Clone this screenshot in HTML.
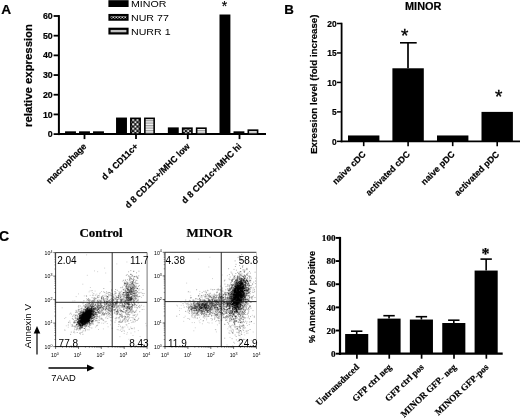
<!DOCTYPE html>
<html><head><meta charset="utf-8"><title>Figure</title>
<style>
html,body{margin:0;padding:0;background:#fff;}
svg{display:block;}
.sb{font-family:"Liberation Sans",Arial,sans-serif;font-weight:bold;fill:#000;stroke:#000;stroke-width:0.2px;}
.sr{font-family:"Liberation Sans",Arial,sans-serif;fill:#000;}
.tb{font-family:"Liberation Serif","Times New Roman",serif;font-weight:bold;fill:#000;stroke:#000;stroke-width:0.2px;}
</style></head><body>
<svg width="520" height="418" viewBox="0 0 520 418">
<defs>
<pattern id="chk" width="4.4" height="4.4" patternUnits="userSpaceOnUse"><rect width="4.4" height="4.4" fill="#111"/><rect x="0.2" y="0.2" width="1.9" height="1.9" fill="#fff"/><rect x="2.4" y="2.4" width="1.9" height="1.9" fill="#fff"/></pattern>
<pattern id="chk2" width="3" height="3" patternUnits="userSpaceOnUse"><rect width="3" height="3" fill="#111"/><rect x="0" y="0.2" width="1.5" height="1.3" fill="#fff"/><rect x="1.5" y="1.5" width="1.5" height="1.3" fill="#fff"/></pattern>
<pattern id="hl" width="4" height="2.5" patternUnits="userSpaceOnUse"><rect width="4" height="2.5" fill="#f4f4f4"/><rect width="4" height="1.25" fill="#a0a0a0"/></pattern>
</defs>
<rect width="520" height="418" fill="#fff"/>

<g id="panelA">
<text x="1.2" y="14" class="sb" font-size="13.7" text-anchor="start">A</text>
<line x1="58.9" y1="15.1" x2="58.9" y2="135.1" stroke="#000" stroke-width="2"/>
<line x1="57.9" y1="134.1" x2="266" y2="134.1" stroke="#000" stroke-width="2"/>
<line x1="53.6" y1="134.10" x2="58.9" y2="134.10" stroke="#000" stroke-width="1.8"/>
<text x="52.699999999999996" y="137.2" class="sb" font-size="8.8" text-anchor="end">0</text>
<line x1="53.6" y1="114.42" x2="58.9" y2="114.42" stroke="#000" stroke-width="1.8"/>
<text x="52.699999999999996" y="117.52" class="sb" font-size="8.8" text-anchor="end">10</text>
<line x1="53.6" y1="94.73" x2="58.9" y2="94.73" stroke="#000" stroke-width="1.8"/>
<text x="52.699999999999996" y="97.83" class="sb" font-size="8.8" text-anchor="end">20</text>
<line x1="53.6" y1="75.05" x2="58.9" y2="75.05" stroke="#000" stroke-width="1.8"/>
<text x="52.699999999999996" y="78.15" class="sb" font-size="8.8" text-anchor="end">30</text>
<line x1="53.6" y1="55.37" x2="58.9" y2="55.37" stroke="#000" stroke-width="1.8"/>
<text x="52.699999999999996" y="58.47" class="sb" font-size="8.8" text-anchor="end">40</text>
<line x1="53.6" y1="35.68" x2="58.9" y2="35.68" stroke="#000" stroke-width="1.8"/>
<text x="52.699999999999996" y="38.78" class="sb" font-size="8.8" text-anchor="end">50</text>
<line x1="53.6" y1="16.00" x2="58.9" y2="16.00" stroke="#000" stroke-width="1.8"/>
<text x="52.699999999999996" y="19.1" class="sb" font-size="8.8" text-anchor="end">60</text>
<text x="32.3" y="75.5" class="sb" font-size="11.2" text-anchor="middle" transform="rotate(-90 32.3 75.5)" textLength="103" lengthAdjust="spacingAndGlyphs">relative expression</text>
<rect x="65.85" y="132.13" width="9.30" height="1.97" fill="#000" stroke="#000" stroke-width="1.6"/>
<rect x="79.85" y="132.13" width="9.30" height="1.97" fill="#000" stroke="#000" stroke-width="1.6"/>
<rect x="93.85" y="132.13" width="9.30" height="1.97" fill="#000" stroke="#000" stroke-width="1.6"/>
<line x1="84.5" y1="134.1" x2="84.5" y2="139.1" stroke="#000" stroke-width="1.8"/>
<text x="87.1" y="146.9" class="sb" font-size="8.9" text-anchor="end" transform="rotate(-45 87.1 146.9)">macrophage</text>
<rect x="116.85" y="118.35" width="9.30" height="15.75" fill="#000" stroke="#000" stroke-width="1.6"/>
<rect x="130.85" y="118.35" width="9.30" height="15.75" fill="url(#chk)" stroke="#000" stroke-width="1.6"/>
<rect x="144.85" y="118.35" width="9.30" height="15.75" fill="url(#hl)" stroke="#000" stroke-width="1.6"/>
<line x1="136" y1="134.1" x2="136" y2="139.1" stroke="#000" stroke-width="1.8"/>
<text x="138.6" y="146.9" class="sb" font-size="8.9" text-anchor="end" transform="rotate(-45 138.6 146.9)">d 4 CD11c+</text>
<rect x="168.65" y="128.19" width="9.30" height="5.90" fill="#000" stroke="#000" stroke-width="1.6"/>
<rect x="182.65" y="128.19" width="9.30" height="5.90" fill="url(#chk)" stroke="#000" stroke-width="1.6"/>
<rect x="196.65" y="128.19" width="9.30" height="5.90" fill="url(#hl)" stroke="#000" stroke-width="1.6"/>
<line x1="187.8" y1="134.1" x2="187.8" y2="139.1" stroke="#000" stroke-width="1.8"/>
<text x="190.4" y="146.9" class="sb" font-size="8.9" text-anchor="end" transform="rotate(-45 190.4 146.9)">d 8 CD11c+/MHC low</text>
<rect x="220.30" y="15.31" width="9.30" height="118.79" fill="#000" stroke="#000" stroke-width="1.6"/>
<rect x="234.30" y="132.13" width="9.30" height="1.97" fill="#000" stroke="#000" stroke-width="1.6"/>
<rect x="248.30" y="130.16" width="9.30" height="3.94" fill="url(#hl)" stroke="#000" stroke-width="1.6"/>
<line x1="239.5" y1="134.1" x2="239.5" y2="139.1" stroke="#000" stroke-width="1.8"/>
<text x="242.1" y="146.9" class="sb" font-size="8.9" text-anchor="end" transform="rotate(-45 242.1 146.9)">d 8 CD11c+/MHC hi</text>
<rect x="109.5" y="1.30" width="18" height="4.6" fill="#000" stroke="#000" stroke-width="2.2"/>
<text class="sr" font-size="9.2" transform="translate(131 7.00) scale(1.158 1)">MINOR</text>
<rect x="109.5" y="15.05" width="18" height="4.6" fill="url(#chk2)" stroke="#000" stroke-width="2.2"/>
<text class="sr" font-size="9.2" transform="translate(131 20.75) scale(1.158 1)">NUR 77</text>
<rect x="109.5" y="28.80" width="18" height="4.6" fill="#c2c2c2" stroke="#000" stroke-width="2.2"/>
<text class="sr" font-size="9.2" transform="translate(131 34.50) scale(1.158 1)">NURR 1</text>
<text x="224.4" y="11.3" class="sr" font-size="14" text-anchor="middle" stroke="#000" stroke-width="0.2">*</text>
</g>
<g id="panelB">
<text x="284.3" y="14" class="sb" font-size="13.3" text-anchor="start">B</text>
<text x="423.2" y="9.6" class="sb" font-size="10.9" text-anchor="middle">MINOR</text>
<line x1="341.6" y1="22.75" x2="341.6" y2="142.25" stroke="#000" stroke-width="1.8"/>
<line x1="340.70000000000005" y1="141.35" x2="520" y2="141.35" stroke="#000" stroke-width="1.8"/>
<line x1="337.0" y1="141.35" x2="341.6" y2="141.35" stroke="#000" stroke-width="1.5"/>
<text x="336.6" y="144.85" class="sb" font-size="8.4" text-anchor="end">0</text>
<line x1="337.0" y1="111.89" x2="341.6" y2="111.89" stroke="#000" stroke-width="1.5"/>
<text x="336.6" y="115.39" class="sb" font-size="8.4" text-anchor="end">5</text>
<line x1="337.0" y1="82.42" x2="341.6" y2="82.42" stroke="#000" stroke-width="1.5"/>
<text x="336.6" y="85.92" class="sb" font-size="8.4" text-anchor="end">10</text>
<line x1="337.0" y1="52.96" x2="341.6" y2="52.96" stroke="#000" stroke-width="1.5"/>
<text x="336.6" y="56.46" class="sb" font-size="8.4" text-anchor="end">15</text>
<line x1="337.0" y1="23.50" x2="341.6" y2="23.50" stroke="#000" stroke-width="1.5"/>
<text x="336.6" y="27.0" class="sb" font-size="8.4" text-anchor="end">20</text>
<text x="316.6" y="84.3" class="sb" font-size="9.3" text-anchor="middle" transform="rotate(-90 316.6 84.3)" textLength="139.6" lengthAdjust="spacingAndGlyphs">Exression level (fold increase)</text>
<rect x="348.00" y="135.46" width="31.4" height="5.89" fill="#000"/>
<line x1="363.7" y1="141.35" x2="363.7" y2="146.15" stroke="#000" stroke-width="1.6"/>
<text x="366.2" y="154.85" class="sb" font-size="8.85" text-anchor="end" transform="rotate(-45 366.2 154.85)">naive cDC</text>
<rect x="392.40" y="68.28" width="31.4" height="73.07" fill="#000"/>
<line x1="408.1" y1="141.35" x2="408.1" y2="146.15" stroke="#000" stroke-width="1.6"/>
<text x="410.6" y="154.85" class="sb" font-size="8.85" text-anchor="end" transform="rotate(-45 410.6 154.85)">activated cDC</text>
<rect x="437.00" y="135.46" width="31.4" height="5.89" fill="#000"/>
<line x1="452.7" y1="141.35" x2="452.7" y2="146.15" stroke="#000" stroke-width="1.6"/>
<text x="455.2" y="154.85" class="sb" font-size="8.85" text-anchor="end" transform="rotate(-45 455.2 154.85)">naive pDC</text>
<rect x="481.50" y="111.89" width="31.4" height="29.46" fill="#000"/>
<line x1="497.2" y1="141.35" x2="497.2" y2="146.15" stroke="#000" stroke-width="1.6"/>
<text x="499.7" y="154.85" class="sb" font-size="8.85" text-anchor="end" transform="rotate(-45 499.7 154.85)">activated pDC</text>
<line x1="408" y1="42.8" x2="408" y2="68.28" stroke="#000" stroke-width="1.7"/>
<line x1="400" y1="42.8" x2="416.7" y2="42.8" stroke="#000" stroke-width="1.6"/>
<text x="404.8" y="41.8" class="sr" font-size="19" text-anchor="middle" stroke="#000" stroke-width="0.35">*</text>
<text x="498.7" y="102.5" class="sr" font-size="19" text-anchor="middle" stroke="#000" stroke-width="0.35">*</text>
</g>
<g id="panelC">
<text x="-1" y="240.7" class="sb" font-size="14" text-anchor="start">C</text>
<text x="101" y="236.9" class="tb" font-size="13" text-anchor="middle">Control</text>
<text x="209.5" y="236.8" class="tb" font-size="13" text-anchor="middle">MINOR</text>
<path d="M84.8 316.2h.01M84.9 318.6h.01M82.7 319.7h.01M89.0 313.7h.01M88.8 314.4h.01M86.8 315.9h.01M80.4 318.0h.01M87.1 314.7h.01M80.3 325.9h.01M82.8 320.4h.01M86.5 316.8h.01M87.2 318.1h.01M86.5 315.4h.01M83.5 313.3h.01M87.3 312.5h.01M83.7 320.7h.01M84.5 318.2h.01M87.5 315.2h.01M84.2 321.0h.01M84.0 314.6h.01M83.1 318.1h.01M86.9 320.9h.01M85.7 313.2h.01M79.3 322.2h.01M85.2 319.9h.01M87.1 316.4h.01M81.0 317.6h.01M87.6 313.0h.01M90.0 313.2h.01M85.9 320.9h.01M87.5 317.9h.01M84.2 322.0h.01M82.6 320.8h.01M89.5 320.8h.01M81.1 319.4h.01M90.0 312.6h.01M79.7 328.7h.01M86.7 318.7h.01M82.1 316.5h.01M89.0 314.5h.01M86.3 315.4h.01M90.5 312.1h.01M87.2 314.5h.01M80.7 316.5h.01M88.5 313.7h.01M79.5 323.1h.01M88.2 321.0h.01M85.0 314.5h.01M81.5 315.0h.01M87.3 316.6h.01M86.6 314.6h.01M85.9 313.5h.01M83.5 319.8h.01M88.8 315.1h.01M82.8 316.1h.01M90.1 315.6h.01M81.3 320.4h.01M85.1 318.4h.01M89.9 317.5h.01M89.5 318.6h.01M83.1 316.9h.01M89.1 312.4h.01M86.6 316.1h.01M86.0 315.2h.01M85.0 316.7h.01M87.3 316.1h.01M87.9 314.0h.01M91.8 312.2h.01M84.2 319.2h.01M85.5 314.4h.01M84.5 316.7h.01M91.2 321.3h.01M82.1 318.7h.01M86.8 315.7h.01M84.2 316.1h.01M86.4 318.2h.01M93.1 311.3h.01M83.9 318.6h.01M84.9 317.9h.01M77.1 324.2h.01M88.7 318.8h.01M85.4 314.5h.01M88.2 311.0h.01M80.3 321.7h.01M84.5 316.0h.01M88.9 323.2h.01M88.9 319.4h.01M87.7 320.4h.01M86.1 313.2h.01M85.1 316.9h.01M88.0 315.2h.01M85.3 312.7h.01M88.8 316.0h.01M94.0 315.2h.01M88.4 316.2h.01M86.0 314.8h.01M86.3 314.8h.01M80.8 324.9h.01M87.5 318.9h.01M82.4 323.8h.01M89.5 312.4h.01M90.1 317.1h.01M85.6 320.7h.01M87.9 310.9h.01M82.8 314.3h.01M88.6 315.8h.01M79.5 316.9h.01M85.3 319.3h.01M86.8 315.2h.01M90.2 317.3h.01M89.1 310.4h.01M90.1 314.9h.01M83.3 315.6h.01M85.9 316.6h.01M90.0 315.2h.01M78.5 323.0h.01M79.8 318.4h.01M86.5 318.4h.01M85.5 314.7h.01M85.8 313.0h.01M85.4 314.2h.01M90.2 309.3h.01M83.5 315.9h.01M79.8 324.3h.01M79.5 317.9h.01M81.8 319.7h.01M85.0 317.7h.01M83.7 317.7h.01M91.1 313.5h.01M87.2 313.1h.01M85.0 321.5h.01M83.9 315.1h.01M80.5 322.3h.01M88.7 312.8h.01M85.6 314.8h.01M86.1 320.5h.01M80.7 322.3h.01M88.4 317.1h.01M82.8 321.4h.01M80.8 320.7h.01M81.9 318.5h.01M78.3 321.0h.01M83.6 324.4h.01M87.8 316.6h.01M78.7 324.4h.01M86.5 318.0h.01M88.0 313.4h.01M87.6 314.9h.01M89.7 312.5h.01M87.0 322.7h.01M88.3 311.4h.01M84.6 319.2h.01M91.6 318.7h.01M87.0 308.9h.01M82.7 317.0h.01M91.4 313.8h.01M87.3 313.4h.01M82.8 319.3h.01M86.5 314.1h.01M85.5 317.9h.01M82.4 320.4h.01M88.3 315.1h.01M82.9 321.5h.01M93.8 308.4h.01M87.5 323.8h.01M87.5 314.5h.01M90.8 312.5h.01M85.4 315.8h.01M79.6 318.0h.01M86.6 318.7h.01M89.7 309.1h.01M81.2 322.1h.01M86.5 316.1h.01M84.3 321.0h.01M92.1 309.8h.01M81.9 323.7h.01M90.8 310.8h.01M91.2 311.1h.01M82.9 318.2h.01M78.9 323.8h.01M85.4 315.8h.01M83.3 319.1h.01M87.0 315.2h.01M87.5 315.3h.01M84.6 315.5h.01M85.7 319.6h.01M83.6 318.5h.01M85.2 317.0h.01M85.6 316.7h.01M85.2 321.3h.01M86.9 313.2h.01M86.9 316.9h.01M86.9 319.3h.01M79.7 320.8h.01M82.7 316.8h.01M82.2 327.4h.01M82.4 314.5h.01M84.4 322.2h.01M83.2 317.2h.01M87.1 315.7h.01M90.1 312.1h.01M85.5 315.5h.01M90.7 311.0h.01M88.7 318.5h.01M85.1 315.3h.01M84.7 314.6h.01M87.4 313.3h.01M84.9 309.9h.01M89.4 315.4h.01M85.8 309.1h.01M84.5 315.3h.01M88.6 315.2h.01M82.0 319.0h.01M86.7 313.1h.01M88.0 315.6h.01M88.2 313.9h.01M86.2 316.6h.01M84.8 315.6h.01M82.3 321.2h.01M85.6 321.7h.01M84.2 324.2h.01M83.5 316.9h.01M87.3 316.3h.01M84.8 322.0h.01M91.2 312.0h.01M88.9 317.7h.01M85.0 323.1h.01M88.0 312.8h.01M79.7 321.2h.01M87.5 321.3h.01M79.9 324.1h.01M83.6 322.8h.01M85.7 316.4h.01M87.5 313.8h.01M90.2 310.7h.01M81.5 321.4h.01M82.3 322.6h.01M85.3 317.4h.01M87.1 321.1h.01M81.7 319.8h.01M85.0 318.6h.01M85.4 319.7h.01M87.7 314.7h.01M85.3 319.4h.01M85.0 325.9h.01M82.5 319.1h.01M80.9 319.6h.01M86.0 321.1h.01M84.8 318.7h.01M87.0 314.4h.01M85.5 319.9h.01M85.1 317.7h.01M87.8 314.9h.01M83.3 322.8h.01M84.4 320.2h.01M82.1 319.8h.01M84.0 317.9h.01M87.2 317.4h.01M92.7 313.5h.01M89.0 314.6h.01M89.0 322.2h.01M83.2 318.0h.01M87.4 308.9h.01M86.6 312.7h.01M87.9 312.8h.01M87.1 316.7h.01M87.1 319.5h.01M89.2 318.0h.01M86.3 310.3h.01M84.9 317.6h.01M89.2 314.8h.01M83.1 318.1h.01M87.4 313.9h.01M83.2 313.4h.01M90.7 313.8h.01M86.4 318.0h.01M89.9 316.5h.01M87.6 317.3h.01M83.4 316.4h.01M89.7 314.6h.01M83.5 316.1h.01M85.4 316.4h.01M90.3 310.7h.01M84.0 311.3h.01M85.6 314.8h.01M83.6 318.7h.01M80.2 315.3h.01M89.8 318.2h.01M80.9 325.2h.01M89.2 316.3h.01M85.4 318.3h.01M85.2 320.8h.01M85.6 321.6h.01M85.3 316.4h.01M87.0 317.0h.01M82.8 318.6h.01M84.1 313.4h.01M87.9 316.0h.01M84.1 320.3h.01M82.7 320.2h.01M86.5 315.1h.01M87.3 309.7h.01M83.4 318.6h.01M94.2 317.3h.01M84.0 317.8h.01M86.0 315.7h.01M84.8 316.6h.01M85.7 314.8h.01M79.7 323.7h.01M85.6 320.4h.01M82.3 317.4h.01M83.6 316.6h.01M87.9 314.8h.01M87.1 316.5h.01M81.2 320.1h.01M87.0 317.9h.01M85.3 315.1h.01M82.9 317.0h.01M91.3 315.2h.01M86.0 317.4h.01M90.3 313.2h.01M88.3 317.5h.01M85.5 317.3h.01M80.1 316.4h.01M88.3 320.7h.01M87.9 316.1h.01M87.0 315.2h.01M80.9 320.9h.01M90.2 316.0h.01M82.4 323.4h.01M81.8 318.7h.01M90.8 312.5h.01M86.3 309.9h.01M84.0 320.3h.01M87.2 314.5h.01M82.4 322.8h.01M86.5 315.9h.01M81.5 320.5h.01M83.9 316.9h.01M85.2 317.7h.01M84.5 314.7h.01M89.9 315.6h.01M88.2 317.8h.01M85.8 314.8h.01M90.2 315.4h.01M85.3 316.8h.01M80.9 320.2h.01M83.5 317.4h.01M82.1 325.5h.01M85.7 316.4h.01M83.9 315.6h.01M84.7 319.6h.01M87.0 321.0h.01M83.5 318.6h.01M88.2 316.0h.01M86.5 318.6h.01M86.5 311.6h.01M83.4 311.4h.01M83.6 318.5h.01M86.1 313.8h.01M81.7 326.1h.01M87.4 313.6h.01M87.5 308.0h.01M86.2 316.0h.01M88.4 314.2h.01M90.7 317.7h.01M84.4 328.5h.01M88.1 316.7h.01M88.4 308.8h.01M85.5 318.0h.01M84.0 320.8h.01M83.6 316.5h.01M85.7 316.9h.01M85.0 314.8h.01M87.1 316.7h.01M87.6 316.4h.01M82.0 315.1h.01M87.0 319.2h.01M88.9 314.0h.01M80.7 315.5h.01M86.6 313.8h.01M86.2 317.3h.01M80.8 317.4h.01M85.7 318.0h.01M86.6 316.3h.01M87.7 317.0h.01M85.5 323.8h.01M84.3 316.0h.01M89.7 315.7h.01M85.2 312.7h.01M84.6 315.6h.01M90.7 313.7h.01M89.4 316.9h.01M86.2 317.0h.01M85.9 313.6h.01M92.9 314.5h.01M83.8 316.9h.01M82.3 317.8h.01M87.3 316.9h.01M87.2 320.9h.01M87.9 320.4h.01M83.4 320.3h.01M84.3 315.4h.01M85.8 318.3h.01M87.2 311.3h.01M85.6 316.1h.01M89.4 313.9h.01M81.6 312.2h.01M92.4 318.8h.01M85.4 316.0h.01M88.5 313.3h.01M84.7 321.0h.01M85.9 313.9h.01M82.2 322.5h.01M85.5 323.2h.01M84.8 319.1h.01M87.0 318.5h.01M82.8 320.2h.01M85.4 319.3h.01M85.6 314.9h.01M89.2 309.7h.01M83.1 320.1h.01M77.9 316.4h.01M83.3 318.8h.01M87.2 320.3h.01M87.0 316.4h.01M79.9 320.0h.01M89.3 320.5h.01M88.1 315.0h.01M87.0 314.9h.01M89.6 315.3h.01M88.3 316.7h.01M87.8 318.2h.01M85.2 312.2h.01M86.9 316.8h.01M82.0 321.9h.01M86.2 314.0h.01M86.9 314.8h.01M85.4 313.2h.01M84.4 319.7h.01M88.3 315.3h.01M84.7 319.5h.01M84.8 315.8h.01M86.7 320.2h.01M86.9 315.8h.01M82.5 316.9h.01M84.7 318.8h.01M88.0 311.6h.01M83.4 317.3h.01M82.9 311.9h.01M84.0 314.6h.01M83.6 316.1h.01M92.4 320.5h.01M84.2 316.6h.01M85.3 319.4h.01M92.2 312.7h.01M80.5 317.9h.01M80.2 317.2h.01M83.8 317.9h.01M89.5 314.3h.01M81.3 325.2h.01M89.2 312.6h.01M83.0 316.2h.01M87.1 314.3h.01M78.6 322.7h.01M88.3 313.2h.01M88.3 322.9h.01M86.1 315.4h.01M93.4 315.0h.01M84.5 317.8h.01M88.3 316.8h.01M89.1 317.3h.01M86.4 318.3h.01M86.1 319.0h.01M80.6 317.1h.01M86.5 318.3h.01M86.2 313.8h.01M82.5 319.5h.01M87.2 314.5h.01M84.5 324.3h.01M89.4 313.7h.01M85.6 318.0h.01M86.4 318.0h.01M82.4 321.5h.01M83.7 320.3h.01M82.0 317.6h.01M81.5 317.8h.01M82.4 318.2h.01M89.8 313.9h.01M83.3 318.5h.01M86.0 322.2h.01M83.7 317.9h.01M84.1 317.9h.01M87.8 313.4h.01M88.4 313.6h.01M84.7 317.9h.01M84.7 318.7h.01M85.0 322.8h.01M84.5 318.0h.01M82.6 319.2h.01M87.2 316.7h.01M92.0 321.0h.01M84.9 323.2h.01M88.6 307.2h.01M77.8 321.8h.01M87.2 317.1h.01M87.3 322.9h.01M88.2 314.4h.01M85.6 319.0h.01M87.5 317.4h.01M86.3 318.3h.01M78.6 321.8h.01M86.2 314.5h.01M82.9 319.1h.01M87.5 315.5h.01M89.4 308.7h.01M82.8 324.9h.01M88.2 310.9h.01M88.4 312.9h.01M83.7 320.6h.01M88.3 318.2h.01M80.0 323.9h.01M93.3 306.4h.01M83.4 320.8h.01M86.3 319.0h.01M89.6 314.8h.01M82.2 315.4h.01M83.8 317.7h.01M85.5 318.2h.01M86.6 318.7h.01M79.9 327.6h.01M81.7 322.1h.01M85.5 317.1h.01M87.3 315.7h.01M83.1 321.0h.01M79.0 322.0h.01M87.1 314.6h.01M85.2 318.0h.01M88.5 315.3h.01M87.8 314.0h.01M86.2 312.8h.01M83.8 319.5h.01M83.1 321.3h.01M90.4 308.8h.01M85.6 315.5h.01M89.2 312.4h.01M89.3 318.7h.01M83.6 317.1h.01M90.0 314.0h.01M82.9 320.0h.01M83.5 321.2h.01M90.2 316.1h.01M85.6 310.6h.01M89.2 313.8h.01M83.7 317.2h.01M90.6 312.1h.01M89.5 314.4h.01M87.2 316.8h.01M86.9 312.4h.01M81.1 320.3h.01M86.3 318.5h.01M84.6 315.4h.01M91.7 311.3h.01M86.6 321.3h.01M91.5 313.1h.01M85.5 320.7h.01M85.4 320.7h.01M85.8 315.7h.01M85.7 316.3h.01M82.9 314.6h.01M83.5 324.1h.01M85.0 319.9h.01M82.4 320.3h.01M86.5 320.2h.01M85.1 313.2h.01M87.7 316.3h.01M86.0 317.3h.01M85.4 315.1h.01M85.3 324.7h.01M85.5 320.0h.01M87.6 317.8h.01M86.0 310.3h.01M82.3 322.7h.01M81.2 327.3h.01M79.8 319.9h.01M83.6 324.2h.01M81.0 318.3h.01M83.2 319.9h.01M86.6 312.4h.01M91.6 310.2h.01M86.0 316.4h.01M91.1 309.3h.01M84.6 316.5h.01M86.5 316.5h.01M84.0 322.3h.01M83.9 323.0h.01M89.3 313.1h.01M81.8 315.4h.01M88.3 321.2h.01M91.3 311.1h.01M91.9 316.8h.01M87.2 314.9h.01M86.2 316.3h.01M88.8 319.7h.01M81.7 324.0h.01M83.8 320.2h.01M86.7 315.7h.01M85.7 319.2h.01M84.2 315.2h.01M87.9 315.4h.01M84.6 313.1h.01M83.7 316.4h.01M89.1 315.7h.01M88.1 319.0h.01M88.7 314.6h.01M80.7 318.4h.01M82.8 315.1h.01M83.5 319.1h.01M86.4 317.7h.01M86.4 318.4h.01M87.6 315.9h.01M86.2 325.2h.01M89.2 314.8h.01M80.1 320.5h.01M87.0 313.0h.01M82.2 314.7h.01M85.1 310.3h.01M85.1 315.5h.01M84.4 321.4h.01M89.0 312.3h.01M90.3 311.5h.01M83.8 323.4h.01M83.6 320.6h.01M83.0 317.1h.01M86.6 317.4h.01M86.1 317.3h.01M86.2 314.5h.01M88.5 317.4h.01M80.9 315.9h.01M85.9 313.6h.01M80.5 321.5h.01M85.6 321.6h.01M84.0 316.1h.01M88.9 310.2h.01M82.9 323.2h.01M87.2 313.3h.01M86.2 320.8h.01M88.0 313.2h.01M87.3 317.6h.01M86.5 314.2h.01M83.8 324.0h.01M86.6 315.1h.01M85.6 314.5h.01M83.8 318.7h.01M84.6 316.1h.01M90.5 314.8h.01M91.9 308.5h.01M88.0 313.9h.01M91.0 314.2h.01M85.2 320.7h.01M87.0 312.2h.01M87.2 314.9h.01M84.9 317.1h.01M81.2 316.9h.01M84.3 321.4h.01M83.2 321.2h.01M88.2 312.3h.01M81.4 317.1h.01M88.3 317.2h.01M81.0 322.5h.01M83.6 317.5h.01M84.5 324.1h.01M86.3 321.4h.01M88.4 319.1h.01M83.4 321.2h.01M83.9 314.4h.01M88.2 313.7h.01M86.6 321.3h.01M84.0 319.9h.01M82.5 317.6h.01M83.3 320.9h.01M82.3 325.6h.01M87.4 312.0h.01M86.1 319.8h.01M77.2 322.1h.01M89.3 313.9h.01M88.4 310.9h.01M89.0 316.3h.01M88.8 312.8h.01M80.8 321.5h.01M81.2 320.4h.01M87.4 319.3h.01M79.2 317.4h.01M86.7 312.0h.01M81.5 316.7h.01M92.0 307.0h.01M84.9 316.8h.01M85.1 314.5h.01M88.8 314.9h.01M81.4 317.7h.01M84.1 316.3h.01M86.4 311.8h.01M89.1 316.3h.01M86.6 311.2h.01M83.9 317.0h.01M89.2 311.0h.01M87.2 320.2h.01M81.7 319.0h.01M86.8 308.7h.01M82.9 315.5h.01M87.9 320.8h.01M83.0 318.4h.01M84.0 318.7h.01M87.0 318.7h.01M87.0 318.2h.01M83.9 316.7h.01M83.8 317.5h.01M90.5 313.9h.01M85.1 315.3h.01M84.4 314.7h.01M81.6 317.9h.01M84.0 320.7h.01M91.0 316.3h.01M91.0 311.7h.01M90.1 317.3h.01M89.3 310.4h.01M85.2 317.9h.01M93.2 311.8h.01M84.3 320.0h.01M86.9 315.3h.01M86.1 311.6h.01M84.6 316.4h.01M90.1 317.4h.01M88.8 309.6h.01M81.4 323.3h.01M82.4 324.9h.01M87.0 322.0h.01M87.1 311.8h.01M80.6 321.4h.01M79.6 318.7h.01M83.3 319.5h.01M85.7 315.5h.01M84.5 317.9h.01M83.9 318.0h.01M81.9 319.4h.01M79.6 322.6h.01M91.5 313.1h.01M81.7 319.0h.01M82.6 324.2h.01M83.3 316.5h.01M86.8 316.8h.01M82.7 322.4h.01M89.7 313.8h.01M82.6 325.6h.01M81.3 312.4h.01M82.0 319.8h.01M86.2 317.3h.01M84.7 322.0h.01M82.3 314.2h.01M83.2 316.2h.01M80.3 321.5h.01M86.4 313.5h.01M82.1 317.7h.01M86.8 318.7h.01M87.0 319.0h.01M83.1 318.9h.01M77.2 323.0h.01M82.5 323.7h.01M84.3 315.8h.01M84.3 314.2h.01M82.0 323.5h.01M90.4 312.9h.01M88.5 317.8h.01M88.1 314.8h.01M87.6 315.8h.01M89.3 316.8h.01M82.6 323.7h.01M89.2 317.1h.01M82.3 322.2h.01M84.2 322.0h.01M84.7 319.7h.01M83.9 321.2h.01M85.7 318.6h.01M85.9 316.2h.01M86.6 323.2h.01M83.9 320.7h.01M88.0 320.5h.01M83.4 319.6h.01M84.5 314.9h.01M84.2 315.2h.01M81.0 325.7h.01M89.3 313.5h.01M87.1 315.9h.01M87.1 320.0h.01M88.5 316.9h.01M88.6 315.0h.01M79.5 325.1h.01M89.0 315.4h.01M84.3 317.3h.01M84.3 319.7h.01M85.9 316.6h.01M90.3 314.0h.01M91.4 308.0h.01M90.9 310.6h.01M86.0 316.5h.01M85.1 319.7h.01M85.4 319.3h.01M90.6 312.3h.01M84.2 323.9h.01M85.4 318.6h.01M82.2 322.9h.01M78.6 320.0h.01M85.4 309.5h.01M85.5 317.7h.01M90.0 313.9h.01M86.1 318.0h.01M83.7 313.9h.01M88.7 310.0h.01M84.5 317.8h.01M82.8 316.0h.01M81.3 318.3h.01M89.0 310.7h.01M82.7 315.8h.01M83.4 321.0h.01M81.5 316.4h.01M90.7 315.7h.01M83.2 319.8h.01M93.3 309.1h.01M83.9 323.8h.01M83.5 315.0h.01M91.3 314.3h.01M83.4 320.2h.01M79.7 318.2h.01M82.2 316.2h.01M80.3 324.5h.01M86.5 319.0h.01M88.0 315.6h.01M81.9 317.7h.01M88.2 321.4h.01M91.2 312.1h.01M87.9 321.4h.01M83.3 319.7h.01M88.9 319.5h.01M82.8 325.2h.01M84.8 316.7h.01M80.4 322.4h.01M87.1 311.4h.01M87.6 316.8h.01M81.9 322.4h.01M83.5 318.1h.01M85.4 312.3h.01M86.5 319.9h.01M90.3 311.2h.01M85.9 319.2h.01M79.8 324.1h.01M88.4 317.8h.01M81.5 319.3h.01M86.3 314.9h.01M87.6 311.6h.01M83.0 315.9h.01M82.5 317.1h.01M86.1 316.1h.01M88.6 315.3h.01M89.0 312.3h.01M86.0 318.7h.01M83.2 320.3h.01M84.9 317.7h.01M94.8 309.3h.01M87.9 318.3h.01M83.4 319.6h.01M86.2 320.0h.01M90.5 315.7h.01M88.9 322.2h.01M85.5 316.4h.01M86.2 315.0h.01M86.4 316.2h.01M79.7 323.2h.01M78.3 320.0h.01M86.5 317.2h.01M83.0 320.6h.01M91.3 308.3h.01M85.4 313.4h.01M80.7 326.3h.01M84.1 320.9h.01M83.8 317.8h.01M94.9 313.2h.01M85.7 316.3h.01M85.5 314.5h.01M91.0 317.5h.01M86.1 317.7h.01M86.7 321.2h.01M80.1 327.8h.01M87.2 315.6h.01M85.8 324.3h.01M84.4 320.3h.01M81.2 322.8h.01M87.7 314.2h.01M85.5 315.7h.01M83.7 318.2h.01M85.7 315.5h.01M85.4 317.8h.01M85.2 319.5h.01M92.5 311.2h.01M86.9 309.4h.01M89.9 319.1h.01M87.7 313.3h.01M91.4 309.4h.01M87.9 319.3h.01M82.9 318.2h.01M87.1 319.3h.01M84.4 319.2h.01M85.8 316.1h.01M84.7 321.6h.01M89.4 309.9h.01M85.2 314.3h.01M86.9 314.3h.01M87.1 318.6h.01M87.3 313.0h.01M82.8 313.0h.01M92.0 307.5h.01M91.7 311.0h.01M84.5 319.7h.01M83.1 318.5h.01M85.5 315.3h.01M79.3 314.2h.01M92.6 312.7h.01M87.7 314.4h.01M86.4 317.3h.01M85.2 320.0h.01M86.1 316.9h.01M86.6 319.2h.01M85.7 317.0h.01M87.4 319.2h.01M86.9 313.4h.01M87.4 317.2h.01M84.0 318.9h.01M87.8 311.0h.01M85.1 319.5h.01M86.7 315.9h.01M82.8 321.3h.01M85.3 315.4h.01M81.9 322.7h.01M87.1 320.0h.01M85.9 315.9h.01M85.2 320.5h.01M85.4 318.4h.01M86.6 319.1h.01M88.9 320.1h.01M85.0 317.6h.01M88.5 317.1h.01M87.3 317.9h.01M87.8 310.5h.01M84.3 316.7h.01M82.7 316.1h.01M89.3 314.7h.01M82.1 318.3h.01M89.1 311.6h.01M88.1 321.2h.01M83.5 314.3h.01M81.8 316.2h.01M91.4 311.1h.01M89.0 316.0h.01M81.8 320.0h.01M85.0 317.8h.01M87.7 316.3h.01M86.2 315.6h.01M85.5 311.6h.01M86.9 316.1h.01M84.9 319.5h.01M89.7 314.1h.01M82.2 321.1h.01M85.1 318.9h.01M88.9 318.6h.01M87.1 315.8h.01M81.9 319.4h.01M85.3 315.9h.01M84.2 317.2h.01M80.4 323.9h.01M88.0 312.5h.01M85.5 319.1h.01M88.9 321.4h.01M83.1 316.8h.01M87.6 319.1h.01M79.7 316.6h.01M86.0 319.6h.01M85.7 314.4h.01M77.6 319.0h.01M87.9 322.1h.01M87.9 321.1h.01M89.1 313.7h.01M92.5 314.6h.01M85.6 314.0h.01M83.6 320.7h.01M84.4 318.2h.01M82.2 317.9h.01M87.2 315.9h.01M90.8 314.8h.01M89.6 316.3h.01M87.9 321.6h.01M86.2 317.4h.01M84.0 320.1h.01M84.5 320.1h.01M78.8 323.4h.01M83.9 319.9h.01M82.3 319.8h.01M88.0 316.4h.01M84.0 314.1h.01M88.6 312.5h.01M89.1 315.9h.01M85.2 314.1h.01M83.9 318.7h.01M86.7 315.3h.01M84.7 314.8h.01M85.0 315.4h.01M88.9 313.1h.01M87.8 319.3h.01M81.5 321.7h.01M87.0 311.7h.01M81.8 318.7h.01M82.9 321.2h.01M84.7 315.7h.01M86.2 313.2h.01M82.5 316.5h.01M88.4 315.2h.01M87.0 318.0h.01M82.2 320.6h.01M83.6 309.7h.01M84.1 313.2h.01M86.2 315.9h.01M87.9 318.1h.01M88.4 314.2h.01M80.9 318.4h.01M87.3 314.7h.01M90.5 315.3h.01M87.1 313.9h.01M82.8 315.4h.01M81.1 324.1h.01M87.2 319.5h.01M85.2 322.5h.01M85.8 320.5h.01M86.6 321.2h.01M87.0 317.1h.01M85.8 317.3h.01M86.0 321.0h.01M77.6 322.3h.01M82.7 320.5h.01M86.9 322.4h.01M83.2 320.6h.01M82.3 318.3h.01M85.1 320.0h.01M82.5 316.7h.01M83.5 316.8h.01M87.0 322.1h.01M82.2 319.4h.01M86.6 314.2h.01M88.0 312.5h.01M84.4 318.6h.01M88.0 317.0h.01M88.8 319.9h.01M87.6 316.4h.01M79.5 318.2h.01M86.5 316.5h.01M82.2 320.8h.01M90.2 316.7h.01M74.8 326.8h.01M81.9 320.0h.01M84.4 320.8h.01M83.0 315.7h.01M81.1 314.2h.01M83.9 321.6h.01M88.0 313.9h.01M82.3 317.0h.01M79.9 323.7h.01M89.0 315.7h.01M81.5 318.3h.01M88.4 315.5h.01M80.0 321.9h.01M86.9 314.0h.01M91.3 314.3h.01M84.1 318.3h.01M89.3 317.7h.01M89.6 323.0h.01M88.0 317.7h.01M87.0 314.2h.01M81.9 319.9h.01M86.3 315.0h.01M82.7 322.1h.01M79.6 313.4h.01M85.0 318.3h.01M81.0 317.4h.01M83.9 313.9h.01M88.2 315.5h.01M87.8 319.2h.01M84.6 319.6h.01M81.6 319.7h.01M85.1 313.1h.01M75.2 326.0h.01M82.7 320.5h.01M86.9 315.2h.01M85.7 318.6h.01M87.1 315.1h.01M79.9 321.7h.01M81.3 323.6h.01M86.0 316.7h.01M85.9 319.7h.01M84.9 320.4h.01M86.7 314.4h.01M91.0 309.9h.01M83.1 320.2h.01M82.7 318.2h.01M91.7 311.1h.01M78.8 325.5h.01M81.6 318.2h.01M85.6 316.3h.01M91.1 316.2h.01M82.9 312.9h.01M86.6 318.9h.01M79.3 325.9h.01M78.0 321.9h.01M85.7 314.1h.01M85.1 319.6h.01M83.3 312.9h.01M80.1 320.2h.01M85.6 315.3h.01M84.3 316.5h.01M88.1 316.0h.01M84.2 318.7h.01M82.6 319.8h.01M84.6 317.2h.01M89.7 310.6h.01M84.2 316.3h.01M86.5 314.3h.01M85.6 316.4h.01M84.1 320.6h.01M88.3 311.5h.01M87.6 314.6h.01M86.4 318.1h.01M80.1 318.8h.01M86.2 318.5h.01M82.6 315.3h.01M80.0 315.5h.01M87.5 308.7h.01M83.3 318.7h.01M84.0 317.8h.01M84.9 319.9h.01M88.9 317.5h.01M84.0 316.6h.01M83.9 319.6h.01M86.7 317.6h.01M81.7 320.0h.01M84.9 312.5h.01M82.2 316.5h.01M83.1 319.9h.01M84.6 317.1h.01M88.2 310.2h.01M83.6 314.5h.01M88.6 312.8h.01M83.2 316.0h.01M85.2 316.4h.01M84.7 315.7h.01M89.0 311.6h.01M84.9 314.6h.01M90.1 317.2h.01M90.1 318.3h.01M87.2 314.3h.01M90.1 313.4h.01M84.1 320.6h.01M81.7 317.4h.01M84.8 319.9h.01M87.2 318.5h.01M84.2 319.5h.01M90.7 309.5h.01M85.1 322.3h.01M86.4 316.5h.01M86.6 314.8h.01M84.6 315.1h.01M88.2 314.9h.01M84.3 319.5h.01M87.7 319.2h.01M85.1 319.8h.01M81.3 318.2h.01M85.5 317.2h.01M88.3 320.0h.01M85.4 316.5h.01M88.1 318.9h.01M87.8 315.1h.01M89.8 311.0h.01M87.3 309.6h.01M85.6 318.5h.01M84.5 320.8h.01M85.5 323.0h.01M85.3 316.1h.01M88.6 316.3h.01M89.9 316.4h.01M85.2 323.2h.01M83.2 321.2h.01M90.1 312.7h.01M82.2 317.8h.01M87.0 317.0h.01M85.6 318.1h.01M83.9 323.6h.01M85.3 313.6h.01M89.9 315.3h.01M83.3 319.3h.01M88.3 314.4h.01M83.8 317.3h.01M84.9 316.1h.01M84.3 322.4h.01M85.7 314.9h.01M82.2 319.7h.01M88.2 316.6h.01M83.6 312.5h.01M88.1 312.6h.01M82.7 314.2h.01M80.6 322.0h.01M87.8 311.8h.01M82.8 321.0h.01M86.2 322.6h.01M87.5 314.3h.01M84.2 316.5h.01M87.9 314.8h.01M87.1 311.7h.01M84.1 317.7h.01M84.0 315.2h.01M84.3 316.6h.01M86.0 316.8h.01M90.7 314.1h.01M89.8 312.0h.01M89.5 315.2h.01M88.3 313.2h.01M83.7 317.6h.01M85.2 317.6h.01M89.5 316.8h.01M80.5 325.6h.01M84.2 320.0h.01M85.6 315.5h.01M90.8 312.9h.01M86.9 318.5h.01M87.3 312.1h.01M89.6 320.4h.01M88.2 310.9h.01M88.0 320.0h.01M84.7 316.1h.01M86.8 318.8h.01M82.9 316.1h.01M81.6 315.6h.01M85.6 316.3h.01M81.6 321.5h.01M87.6 320.2h.01M91.7 317.3h.01M81.9 319.5h.01M87.0 314.2h.01M84.5 318.5h.01M84.9 319.4h.01M77.9 319.4h.01M86.3 316.3h.01M83.7 317.7h.01M85.5 317.5h.01M88.8 320.1h.01M86.3 319.9h.01M84.6 313.5h.01M82.4 319.6h.01M83.8 315.6h.01M82.7 324.0h.01M87.1 317.3h.01M84.6 314.7h.01M82.9 320.0h.01M86.0 315.7h.01M84.0 315.2h.01M92.2 314.1h.01M91.1 319.8h.01M89.7 315.5h.01M86.0 318.0h.01M83.7 322.2h.01M84.4 314.2h.01M88.9 316.0h.01M84.0 320.3h.01M82.0 314.3h.01M87.5 315.6h.01M84.1 321.2h.01M89.5 312.4h.01M82.7 316.2h.01M82.3 317.5h.01M82.7 320.3h.01M87.0 315.0h.01M88.6 317.7h.01M90.2 310.3h.01M85.5 315.9h.01M83.3 319.2h.01M81.7 319.5h.01M86.2 312.9h.01M88.4 313.0h.01M84.5 318.6h.01M84.6 317.2h.01M79.8 318.7h.01M80.9 321.7h.01M85.6 318.7h.01M90.5 314.3h.01M90.2 310.8h.01M84.1 317.0h.01" stroke="#000" stroke-width="0.7" stroke-linecap="square" fill="none" opacity="0.7"/>
<path d="M94.1 313.9h.01M87.2 318.7h.01M87.0 317.7h.01M87.2 310.5h.01M94.7 311.1h.01M87.9 310.9h.01M85.1 322.5h.01M93.0 317.6h.01M92.0 318.3h.01M97.2 316.0h.01M91.6 305.6h.01M81.2 311.1h.01M82.0 327.9h.01M90.8 310.2h.01M85.6 330.0h.01M86.4 317.8h.01M84.5 318.7h.01M76.5 324.5h.01M97.0 302.4h.01M84.6 320.9h.01M89.0 309.2h.01M90.8 320.0h.01M87.6 314.8h.01M94.9 305.4h.01M89.7 308.0h.01M84.5 309.1h.01M84.3 315.3h.01M92.0 318.1h.01M82.7 327.5h.01M87.7 315.8h.01M84.8 314.4h.01M74.6 322.6h.01M87.2 317.2h.01M91.2 304.4h.01M84.2 322.4h.01M83.3 317.4h.01M90.1 318.8h.01M92.4 318.4h.01M91.4 311.3h.01M89.4 303.3h.01M85.2 317.7h.01M89.4 310.0h.01M79.1 318.7h.01M82.5 315.0h.01M94.5 311.6h.01M86.1 315.4h.01M69.8 321.0h.01M89.9 313.5h.01M84.4 321.1h.01M85.7 310.2h.01M86.1 309.3h.01M72.0 326.3h.01M88.3 315.3h.01M77.2 324.6h.01M93.8 319.1h.01M81.1 324.9h.01M83.6 314.3h.01M90.1 325.0h.01M95.0 314.7h.01M83.3 309.0h.01M86.2 322.8h.01M83.1 321.8h.01M80.9 320.9h.01M91.7 311.5h.01M78.8 305.6h.01M81.1 318.5h.01M86.9 311.9h.01M84.8 314.6h.01M98.7 309.1h.01M80.5 317.6h.01M82.1 320.4h.01M87.8 313.7h.01M85.1 312.4h.01M85.6 323.5h.01M91.7 315.3h.01M93.6 315.8h.01M90.0 312.6h.01M71.3 332.1h.01M80.3 312.0h.01M75.9 317.0h.01M92.9 310.1h.01M90.6 316.6h.01M86.6 314.9h.01M89.1 311.0h.01M85.5 320.4h.01M83.5 315.6h.01M77.2 327.7h.01M84.4 320.2h.01M85.2 330.9h.01M84.8 318.4h.01M91.1 324.1h.01M85.0 314.5h.01M89.5 308.2h.01M92.7 318.4h.01M90.3 315.9h.01M82.1 310.4h.01M83.1 322.5h.01M84.4 321.8h.01M92.5 311.0h.01M94.7 309.6h.01M83.2 312.4h.01M83.0 320.5h.01M85.8 316.4h.01M93.5 315.6h.01M88.7 315.1h.01M79.5 325.7h.01M85.5 314.6h.01M88.5 312.5h.01M87.0 318.3h.01M89.2 320.1h.01M79.0 321.9h.01M78.5 323.1h.01M82.4 321.3h.01M86.5 320.4h.01M84.3 326.4h.01M87.5 320.3h.01M89.0 329.8h.01M82.1 317.2h.01M72.7 325.4h.01M87.3 315.2h.01M78.1 319.4h.01M87.6 320.7h.01M91.0 314.0h.01M86.8 318.4h.01M89.9 313.9h.01M93.2 310.2h.01M83.2 319.1h.01M92.0 315.2h.01M88.9 312.1h.01M85.7 329.0h.01M87.5 314.5h.01M87.5 319.7h.01M93.7 313.1h.01M83.1 321.8h.01M88.8 320.7h.01M81.0 308.5h.01M94.2 306.4h.01M94.6 308.7h.01M77.0 314.9h.01M93.8 309.6h.01M75.5 315.4h.01M94.6 314.5h.01M87.4 311.5h.01M86.2 310.5h.01M87.2 312.1h.01M87.2 323.7h.01M81.0 302.3h.01M88.3 308.2h.01M93.3 303.4h.01M89.9 317.5h.01M86.8 326.2h.01M85.6 311.8h.01M74.2 321.7h.01M91.5 306.4h.01M81.4 322.4h.01M75.9 327.3h.01M89.8 303.4h.01M80.1 312.2h.01M89.2 317.4h.01M99.4 322.7h.01M86.3 315.1h.01M99.0 299.9h.01M99.8 308.4h.01M92.4 305.7h.01M89.7 312.6h.01M85.6 318.8h.01M79.6 309.4h.01M84.1 328.5h.01M88.2 315.4h.01M87.7 305.8h.01M86.1 317.8h.01M82.4 318.5h.01M84.2 316.3h.01M104.8 304.3h.01M81.8 308.4h.01M91.7 309.0h.01M90.8 309.5h.01M90.6 306.4h.01M92.5 305.7h.01M83.8 317.6h.01M82.5 313.2h.01M91.5 316.0h.01M90.1 300.2h.01M93.9 318.2h.01M86.2 312.9h.01M86.5 314.1h.01M93.5 310.6h.01M80.4 315.6h.01M86.1 315.7h.01M83.4 325.2h.01M79.5 321.8h.01M80.5 333.9h.01M93.4 318.7h.01M82.5 315.4h.01M72.7 316.3h.01M82.3 314.9h.01M83.9 315.9h.01M87.3 315.7h.01M76.1 329.6h.01M86.5 308.6h.01M83.6 314.9h.01M87.7 313.0h.01M92.5 321.0h.01M88.3 316.2h.01M84.9 321.6h.01M82.2 324.0h.01M80.3 306.0h.01M96.6 310.7h.01M91.0 319.0h.01M70.6 334.4h.01M87.5 307.9h.01M86.5 321.5h.01M85.3 322.1h.01M78.6 321.6h.01M84.4 321.6h.01M81.6 323.8h.01M88.1 307.9h.01M85.5 304.7h.01M77.3 319.6h.01M80.0 320.5h.01M87.3 312.7h.01M93.3 315.5h.01M79.5 320.9h.01M88.4 318.9h.01M91.9 304.3h.01M78.5 318.5h.01M92.6 323.2h.01M87.9 316.6h.01M78.5 313.4h.01M88.0 317.9h.01M89.3 311.2h.01M91.2 310.6h.01M89.1 321.1h.01M84.3 316.7h.01M70.7 313.2h.01M84.5 322.9h.01M76.2 320.3h.01M86.9 319.1h.01M84.3 322.1h.01M82.4 318.9h.01M83.0 314.4h.01M85.9 315.8h.01M89.1 308.0h.01M90.2 313.0h.01M85.8 320.9h.01M84.7 313.5h.01M88.0 317.4h.01M79.0 328.4h.01M88.6 309.6h.01M88.9 322.2h.01M85.5 315.5h.01M81.4 317.0h.01M85.5 321.1h.01M79.5 315.5h.01M88.8 319.7h.01M80.8 314.4h.01M90.2 315.8h.01M95.9 312.7h.01M80.6 313.5h.01M85.6 314.8h.01M86.9 321.3h.01M79.8 320.8h.01M94.9 317.1h.01M94.6 310.7h.01M80.3 318.1h.01M90.0 319.1h.01M74.4 320.7h.01M80.3 317.1h.01M75.6 322.7h.01M82.0 326.5h.01M85.3 315.9h.01M83.5 324.1h.01M87.9 324.7h.01M89.8 311.8h.01M96.4 306.2h.01M88.8 313.5h.01M86.9 323.0h.01M95.2 308.7h.01M85.1 323.1h.01M95.3 308.6h.01M79.9 316.1h.01M97.7 310.3h.01M89.0 317.0h.01M83.1 312.3h.01M104.5 305.9h.01M86.0 312.2h.01M84.9 313.1h.01M91.5 318.9h.01M80.5 319.8h.01M91.5 312.0h.01M93.9 319.6h.01M89.6 317.9h.01M87.3 314.0h.01M81.1 320.3h.01M80.0 318.2h.01M81.8 321.3h.01M88.0 318.9h.01M93.3 315.9h.01M91.6 311.9h.01M80.7 320.4h.01M81.9 320.6h.01M85.1 307.2h.01M84.3 309.0h.01M89.3 321.6h.01M73.4 319.6h.01M75.2 318.3h.01M92.6 310.8h.01M85.5 318.0h.01M88.2 316.9h.01M83.6 319.7h.01M93.5 315.8h.01M88.9 321.0h.01M82.6 325.6h.01M85.6 313.0h.01M88.5 317.7h.01M90.2 316.0h.01M88.9 313.5h.01M89.8 327.6h.01M79.2 315.9h.01M86.1 304.4h.01M85.4 319.7h.01M95.3 308.5h.01M97.6 307.5h.01M85.5 312.8h.01M82.2 320.8h.01M83.5 318.9h.01M91.2 316.2h.01M88.6 317.7h.01M91.8 328.0h.01M85.5 315.8h.01M80.5 314.0h.01M88.0 308.6h.01M92.2 309.7h.01M85.9 322.3h.01M85.4 319.2h.01M88.1 317.8h.01M104.3 315.2h.01M93.5 314.9h.01M85.3 311.9h.01M86.7 322.5h.01M89.1 315.8h.01M74.9 321.3h.01M80.6 323.2h.01M89.5 313.0h.01M85.0 305.4h.01M89.1 318.0h.01M88.1 316.0h.01M74.1 331.2h.01M78.7 309.4h.01M85.7 318.1h.01M83.5 312.6h.01M86.9 306.9h.01M91.2 304.9h.01M86.0 314.4h.01M84.2 318.3h.01M76.8 324.4h.01M81.3 322.4h.01M93.7 310.9h.01M93.7 307.8h.01M92.0 307.9h.01M83.2 313.7h.01M84.9 319.8h.01M93.6 300.9h.01M81.1 309.8h.01M91.5 318.0h.01M88.3 313.2h.01M88.9 316.8h.01M79.3 319.8h.01M91.6 309.3h.01M90.5 308.2h.01M81.0 319.3h.01M88.7 309.7h.01M87.6 312.8h.01M87.5 304.5h.01M74.2 322.9h.01M100.9 307.2h.01M76.2 320.9h.01M78.5 324.0h.01M88.0 306.3h.01M89.4 311.1h.01M92.5 311.9h.01M81.8 319.2h.01M88.6 316.5h.01M82.9 320.0h.01M78.1 326.1h.01M86.2 318.2h.01M86.9 308.5h.01M88.4 315.3h.01M80.0 325.3h.01M88.9 319.5h.01M89.2 320.4h.01M87.5 316.0h.01M92.4 315.1h.01M84.6 315.9h.01M87.0 306.9h.01M85.2 319.7h.01M84.9 314.5h.01M88.0 311.7h.01M78.8 307.2h.01M97.2 310.6h.01M79.8 318.9h.01M89.1 326.6h.01M86.8 323.8h.01M89.3 307.3h.01M92.6 320.9h.01M94.6 307.0h.01M84.6 314.5h.01M95.4 313.2h.01M86.6 319.1h.01M93.3 323.9h.01M94.8 316.8h.01M92.0 321.8h.01M81.3 322.1h.01M91.5 322.1h.01M90.2 317.6h.01M93.8 313.9h.01M89.5 315.5h.01M97.0 312.5h.01M86.6 305.6h.01M87.2 312.2h.01M82.5 317.2h.01M73.7 322.4h.01M83.0 326.0h.01M78.6 314.3h.01M89.2 322.8h.01M97.1 314.2h.01M84.6 315.9h.01M80.2 328.1h.01M82.4 312.1h.01M92.2 321.5h.01M93.6 312.2h.01M89.6 314.2h.01M89.1 320.1h.01M81.5 322.5h.01M84.6 313.9h.01M79.8 311.3h.01M83.1 321.1h.01M90.7 311.6h.01M84.8 322.7h.01M81.0 327.6h.01M93.3 306.8h.01M97.4 307.7h.01M88.6 311.0h.01M92.2 314.5h.01M88.7 303.6h.01M77.0 328.7h.01M81.2 315.0h.01M93.5 314.2h.01M90.6 314.3h.01M88.4 318.0h.01M86.6 316.2h.01M93.2 300.8h.01M76.3 318.8h.01M86.7 310.9h.01M92.8 308.7h.01M91.3 318.6h.01M76.9 312.4h.01M93.6 317.4h.01M94.1 308.6h.01M72.7 318.8h.01M81.1 312.9h.01M82.8 322.1h.01M77.9 321.9h.01M92.5 316.5h.01M76.1 310.4h.01M97.3 306.8h.01M83.6 324.1h.01M77.3 318.1h.01M94.2 317.7h.01M86.7 317.5h.01M85.2 314.2h.01M98.7 313.0h.01M91.6 307.7h.01M85.1 317.7h.01M79.0 314.4h.01M83.7 321.1h.01M87.1 320.4h.01M80.7 320.8h.01M95.2 312.6h.01M89.7 322.2h.01M75.5 312.4h.01M84.4 325.4h.01M86.1 313.2h.01M76.8 326.0h.01M88.2 320.1h.01M91.3 308.5h.01M89.2 317.0h.01M86.4 319.5h.01M86.0 314.8h.01M85.0 311.8h.01M101.6 311.0h.01M88.7 310.6h.01M90.4 315.3h.01M84.0 312.2h.01M90.3 311.4h.01M82.1 315.2h.01M91.3 314.6h.01M90.4 302.5h.01M75.9 318.6h.01M80.0 326.9h.01M85.4 313.9h.01M87.0 322.1h.01M78.4 323.4h.01M86.8 320.4h.01M78.1 311.3h.01M81.9 319.5h.01M83.6 320.8h.01M86.9 317.5h.01M90.3 320.4h.01M78.2 310.2h.01M86.3 312.2h.01M93.5 309.5h.01M86.9 324.2h.01M77.5 315.8h.01M90.6 310.9h.01M77.2 332.5h.01M80.6 325.6h.01M87.6 321.0h.01M95.8 314.5h.01M83.5 313.2h.01M88.6 319.8h.01M91.4 303.3h.01M79.6 321.1h.01M80.5 329.7h.01M90.3 310.4h.01M92.3 310.8h.01M75.1 322.4h.01M82.9 324.4h.01M80.3 315.4h.01M85.0 306.5h.01M89.4 324.8h.01M91.9 306.6h.01M86.9 322.4h.01M96.9 317.6h.01M86.2 326.5h.01M79.5 329.0h.01M93.0 306.4h.01M84.4 324.5h.01M86.4 314.2h.01M77.9 327.0h.01M86.1 312.6h.01M87.1 313.4h.01M79.5 333.2h.01M88.5 320.0h.01M86.0 318.5h.01M89.5 318.7h.01M95.1 311.4h.01M89.8 311.0h.01M92.7 310.7h.01M76.6 324.8h.01M97.5 307.7h.01M90.0 311.8h.01M83.0 321.7h.01M83.0 311.8h.01M88.8 305.4h.01M89.6 304.3h.01M89.4 321.0h.01M96.8 308.8h.01M93.6 311.2h.01M84.8 316.2h.01M80.2 326.0h.01M81.5 321.6h.01M78.8 320.8h.01M88.5 304.2h.01M97.4 310.6h.01M91.9 314.5h.01M89.0 315.0h.01M83.6 317.3h.01M78.1 318.3h.01M85.0 322.8h.01M84.6 314.2h.01M82.7 315.6h.01M90.0 305.8h.01M80.4 320.0h.01M89.7 306.3h.01M88.2 311.2h.01M78.1 323.8h.01M96.4 312.4h.01M99.4 313.2h.01M85.1 325.6h.01M90.4 312.6h.01M98.5 308.8h.01M85.2 324.5h.01M86.2 311.2h.01M91.1 307.1h.01M91.8 313.6h.01M90.3 313.2h.01M78.9 310.9h.01M88.9 320.6h.01M89.0 313.3h.01M92.6 305.1h.01M68.8 322.6h.01M95.7 316.4h.01M75.8 320.4h.01M88.7 313.1h.01M80.2 322.1h.01M87.9 311.4h.01M99.6 307.6h.01M83.2 330.8h.01M93.0 313.4h.01M86.1 321.8h.01M91.0 323.5h.01M87.3 315.1h.01M88.5 308.0h.01M86.1 315.8h.01M91.8 321.8h.01M85.0 316.6h.01M92.3 317.4h.01M91.5 311.4h.01M77.9 328.8h.01M78.3 319.8h.01M87.9 311.5h.01M91.6 316.5h.01M93.0 308.2h.01M89.5 311.9h.01M79.1 318.1h.01M80.6 325.8h.01M84.6 316.4h.01M86.4 318.0h.01M80.8 318.2h.01M82.3 326.1h.01M87.3 307.8h.01M84.3 323.1h.01M94.9 302.3h.01M85.0 318.1h.01M88.0 299.3h.01M87.5 310.2h.01M89.3 324.6h.01M80.2 326.3h.01M89.3 314.1h.01M97.3 311.9h.01M88.5 314.7h.01M87.5 302.9h.01M88.4 307.1h.01M94.4 315.3h.01M90.8 316.0h.01M87.4 314.8h.01M86.8 318.6h.01M95.9 312.6h.01M90.9 304.6h.01M90.4 308.5h.01M94.9 305.7h.01M96.9 318.4h.01M98.3 309.7h.01M76.3 325.1h.01M78.4 320.6h.01M77.9 326.3h.01M88.5 314.3h.01M82.0 319.9h.01M86.1 316.0h.01M86.7 317.3h.01M91.9 322.1h.01M83.8 316.9h.01M84.3 320.3h.01M84.1 316.3h.01M94.1 313.1h.01M85.1 314.9h.01M85.3 327.4h.01M88.3 317.3h.01M83.3 314.4h.01M87.0 319.0h.01M73.8 332.4h.01M86.8 316.7h.01M89.3 313.4h.01M83.9 324.5h.01M80.2 320.3h.01M79.9 315.5h.01M78.8 330.1h.01M85.6 326.4h.01M96.4 316.3h.01M86.4 317.6h.01M81.8 328.4h.01M75.6 317.2h.01M92.8 300.9h.01M78.0 317.6h.01M86.6 311.4h.01M83.7 313.7h.01M92.0 309.9h.01M95.3 312.4h.01M95.9 315.0h.01M96.6 325.9h.01M86.8 320.4h.01M86.7 310.4h.01M91.0 313.2h.01M96.8 318.8h.01M81.9 310.3h.01M88.7 326.4h.01M88.7 321.5h.01M95.5 305.1h.01M83.5 310.7h.01M81.8 313.6h.01M90.2 314.9h.01M78.3 322.1h.01M73.1 326.4h.01M75.7 315.2h.01M81.0 332.5h.01M90.2 312.2h.01M83.7 306.0h.01M91.3 313.2h.01M82.9 334.3h.01M89.6 309.3h.01M83.2 325.7h.01M86.5 325.4h.01M86.8 311.8h.01M95.7 309.8h.01M87.9 311.3h.01M95.0 313.4h.01M79.4 324.3h.01M79.2 324.9h.01M86.0 314.5h.01M87.6 315.2h.01M84.6 314.9h.01M92.0 309.1h.01M95.6 312.9h.01M85.2 307.5h.01M87.9 313.1h.01M84.7 311.8h.01M84.3 322.9h.01M86.3 318.7h.01M91.7 315.5h.01M87.4 316.9h.01M88.7 318.4h.01M93.3 320.4h.01M84.4 321.2h.01M90.6 313.8h.01M89.6 316.3h.01M82.4 324.5h.01M84.7 320.1h.01M88.4 313.2h.01M92.5 313.5h.01M82.3 324.3h.01M87.1 313.9h.01M98.3 308.9h.01M97.2 300.2h.01M80.5 312.7h.01M93.5 305.1h.01M86.7 310.8h.01M83.8 318.0h.01M86.8 306.2h.01M85.4 311.5h.01M87.1 319.7h.01M88.2 311.7h.01M82.5 314.8h.01M82.5 323.1h.01M88.0 316.6h.01M80.9 328.1h.01M86.8 314.6h.01M84.0 316.5h.01M77.6 318.7h.01M89.2 313.2h.01M83.1 317.6h.01M87.5 309.8h.01M88.4 313.8h.01M82.4 313.6h.01M93.7 315.0h.01M90.5 312.3h.01M86.4 323.3h.01M97.2 320.7h.01M88.5 317.2h.01M93.5 314.7h.01M86.9 312.6h.01M89.4 317.5h.01M90.8 311.7h.01M92.6 315.7h.01M86.4 318.3h.01M81.7 317.3h.01M89.1 307.0h.01M84.8 315.0h.01M93.5 313.1h.01M87.1 315.1h.01M82.6 323.7h.01M93.3 311.6h.01M86.3 323.1h.01M87.4 309.2h.01M79.9 324.6h.01M93.3 304.7h.01M95.9 314.2h.01M90.3 318.3h.01M89.8 316.4h.01M87.9 308.1h.01M88.7 316.3h.01M87.0 314.4h.01M83.7 316.5h.01M90.3 305.6h.01M74.5 329.1h.01M79.4 315.2h.01M101.1 307.3h.01M87.4 309.4h.01M72.3 324.7h.01M68.3 325.0h.01M83.7 320.3h.01M88.7 318.2h.01M93.3 312.6h.01M89.0 301.0h.01M84.1 312.4h.01M81.8 311.8h.01M92.4 312.2h.01M92.6 304.1h.01M94.8 311.7h.01M86.4 310.2h.01M78.0 324.0h.01M89.6 311.4h.01M97.7 300.6h.01M88.6 312.6h.01M78.9 321.2h.01M88.3 316.5h.01M87.1 312.5h.01M81.1 322.1h.01M76.2 315.4h.01M80.5 328.6h.01M91.2 314.8h.01M92.4 315.0h.01M99.2 305.5h.01M87.6 314.9h.01M85.5 312.3h.01M98.5 312.1h.01M80.3 316.2h.01M93.0 320.8h.01M82.6 323.6h.01M90.0 311.5h.01M82.4 324.5h.01M90.7 325.1h.01M90.5 314.9h.01M98.0 304.6h.01M83.3 319.4h.01M85.1 320.9h.01M87.2 310.6h.01M77.9 322.0h.01M95.5 307.4h.01M81.9 323.0h.01M81.7 327.4h.01M93.5 312.1h.01M82.6 326.0h.01M84.5 320.0h.01M96.8 313.2h.01M87.4 309.9h.01M90.6 314.9h.01M73.9 315.3h.01M90.2 316.5h.01M86.2 321.5h.01M81.5 326.9h.01M89.6 311.7h.01M87.7 311.3h.01M89.8 313.7h.01M81.5 315.6h.01M93.6 308.9h.01M94.0 314.7h.01M81.0 312.3h.01M83.3 316.6h.01M85.6 316.5h.01M85.1 319.8h.01M76.3 311.3h.01M87.9 325.8h.01M81.4 324.9h.01M82.4 332.1h.01M90.1 305.4h.01M85.3 312.8h.01M90.2 320.9h.01M93.8 321.3h.01M83.4 319.8h.01M94.0 311.5h.01M86.0 320.8h.01M87.2 315.5h.01M91.0 306.3h.01M91.0 313.7h.01M85.8 307.9h.01M87.9 315.5h.01M97.2 302.0h.01M90.0 314.9h.01M83.0 312.3h.01M84.1 312.3h.01M82.2 317.9h.01M89.1 314.0h.01M88.1 313.3h.01M80.2 325.5h.01M85.9 306.8h.01M86.0 321.4h.01M82.9 317.9h.01M93.6 315.4h.01M90.0 313.3h.01M84.6 322.2h.01M85.8 320.4h.01M89.8 323.8h.01M93.3 308.5h.01M90.1 306.2h.01M90.2 323.4h.01M87.0 313.5h.01M82.7 324.2h.01M89.2 312.0h.01M84.2 318.7h.01M83.8 320.7h.01M86.4 310.5h.01M77.4 322.9h.01M96.1 309.4h.01M87.6 311.1h.01M80.9 325.6h.01M77.1 329.0h.01M88.2 310.7h.01M84.3 321.0h.01M89.1 311.5h.01M131.4 308.9h.01M128.3 316.2h.01M131.3 300.1h.01M127.9 283.0h.01M135.4 286.3h.01M131.4 291.6h.01M128.2 295.7h.01M137.6 296.0h.01M127.9 294.1h.01M133.8 284.5h.01M126.7 297.3h.01M129.4 304.6h.01M130.7 297.5h.01M133.9 287.7h.01M127.4 295.1h.01M129.1 299.9h.01M128.6 286.2h.01M128.8 309.0h.01M127.5 289.1h.01M138.5 296.8h.01M129.1 297.4h.01M125.1 294.1h.01M130.2 291.5h.01M138.9 290.1h.01M133.4 284.7h.01M128.0 300.3h.01M136.3 283.7h.01M130.9 302.4h.01M133.7 287.1h.01M138.7 275.8h.01M133.4 289.4h.01M130.6 298.1h.01M131.6 290.9h.01M132.9 283.0h.01M131.6 297.4h.01M133.5 278.8h.01M127.2 292.4h.01M132.5 287.9h.01M132.3 293.2h.01M130.0 280.0h.01M137.0 300.8h.01M120.8 296.7h.01M127.9 299.8h.01M124.4 294.9h.01M130.2 298.3h.01M133.8 271.2h.01M136.0 280.2h.01M128.8 289.3h.01M130.3 284.2h.01M132.6 292.5h.01M132.5 298.2h.01M133.4 279.2h.01M129.0 290.1h.01M124.1 290.3h.01M133.7 299.9h.01M137.0 288.2h.01M123.9 309.6h.01M133.7 293.7h.01M134.6 303.7h.01M130.0 285.9h.01M127.8 289.9h.01M129.0 291.8h.01M131.6 274.4h.01M125.7 290.5h.01M135.4 299.6h.01M130.7 274.4h.01M134.4 315.5h.01M129.5 308.5h.01M131.5 298.9h.01M128.3 302.1h.01M131.5 296.8h.01M127.0 298.0h.01M131.9 299.7h.01M134.6 304.6h.01M131.9 295.9h.01M136.3 295.0h.01M127.9 306.6h.01M137.9 283.4h.01M126.3 299.3h.01M126.8 283.6h.01M132.0 309.5h.01M131.2 285.6h.01M130.4 289.8h.01M130.0 292.3h.01M131.2 299.0h.01M131.7 291.4h.01M130.3 299.5h.01M126.6 294.3h.01M133.5 311.6h.01M128.4 283.9h.01M133.9 297.2h.01M135.5 298.4h.01M127.4 279.7h.01M128.8 296.7h.01M124.2 306.4h.01M126.0 297.9h.01M123.5 289.7h.01M129.1 299.7h.01M128.0 289.2h.01M136.2 293.1h.01M136.5 276.2h.01M135.5 287.8h.01M124.8 292.0h.01M128.9 293.2h.01M123.3 301.0h.01M131.3 300.9h.01M131.5 279.1h.01M131.3 298.8h.01M139.4 305.4h.01M126.9 292.7h.01M128.2 314.3h.01M131.4 286.2h.01M127.4 283.6h.01M132.3 282.5h.01M124.6 297.7h.01M136.5 272.8h.01M135.4 290.3h.01M131.1 298.5h.01M134.6 296.6h.01M130.9 310.5h.01M124.7 282.9h.01M130.6 291.8h.01M122.1 299.7h.01M138.3 300.7h.01M121.4 301.3h.01M128.4 296.9h.01M125.6 308.3h.01M125.7 291.6h.01M130.2 287.0h.01M126.3 291.6h.01M128.7 294.1h.01M133.9 291.0h.01M129.1 308.5h.01M130.6 287.0h.01M128.0 295.9h.01M123.7 309.5h.01M131.9 281.9h.01M129.2 308.5h.01M129.0 307.8h.01M129.4 278.3h.01M131.5 294.2h.01M134.3 294.2h.01M131.7 291.2h.01M132.1 304.8h.01M133.1 284.5h.01M121.7 322.4h.01M127.0 283.6h.01M130.5 288.0h.01M132.5 284.8h.01M128.0 300.3h.01M131.8 287.6h.01M132.6 289.4h.01M128.5 285.8h.01M132.2 283.6h.01M120.7 292.0h.01M121.1 298.4h.01M127.9 294.5h.01M128.6 297.6h.01M131.1 290.3h.01M127.3 317.0h.01M127.4 291.2h.01M127.2 292.4h.01M129.0 302.6h.01M134.9 276.7h.01M130.0 294.4h.01M134.1 302.3h.01M127.1 286.5h.01M133.9 295.5h.01M127.4 292.8h.01M125.0 301.6h.01M129.5 315.1h.01M132.7 285.7h.01M134.5 303.0h.01M125.5 304.0h.01M125.4 279.9h.01M126.6 299.0h.01M131.2 289.3h.01M136.0 299.1h.01M133.8 290.1h.01M125.9 295.6h.01M125.0 283.8h.01M127.6 287.2h.01M135.4 295.5h.01M126.9 295.0h.01M126.4 288.9h.01M131.1 299.7h.01M127.8 289.4h.01M124.8 283.3h.01M127.4 297.5h.01M126.8 282.4h.01M133.6 280.5h.01M132.9 291.2h.01M137.0 283.6h.01M132.1 287.7h.01M133.2 289.4h.01M129.8 307.7h.01M138.4 299.3h.01M122.1 305.5h.01M137.9 278.2h.01M128.1 293.1h.01M130.3 310.6h.01M129.1 292.1h.01M134.9 300.8h.01M121.7 313.1h.01M131.7 292.2h.01M131.0 292.1h.01M129.0 306.3h.01M132.2 289.2h.01M132.6 281.6h.01M125.6 316.9h.01M123.5 280.3h.01M126.9 292.8h.01M130.3 287.6h.01M142.9 289.5h.01M129.7 299.3h.01M131.4 288.6h.01M126.6 285.1h.01M134.9 286.9h.01M130.0 296.0h.01M124.0 292.5h.01M126.6 300.6h.01M134.3 298.9h.01M128.4 287.8h.01M137.6 294.6h.01M134.7 296.3h.01M131.9 288.6h.01M126.0 288.0h.01M137.4 288.5h.01M131.4 303.0h.01M137.4 288.4h.01M125.4 290.6h.01M124.7 303.5h.01M122.1 287.7h.01M139.0 293.2h.01M127.9 300.4h.01M128.2 290.5h.01M136.1 298.4h.01M132.1 307.9h.01M136.3 290.4h.01M127.7 282.6h.01M130.0 282.3h.01M134.6 276.7h.01M127.3 295.4h.01M131.8 294.4h.01M136.3 295.7h.01M134.3 279.4h.01M122.8 307.2h.01M126.9 300.8h.01M131.9 294.2h.01M130.7 297.4h.01M130.1 289.8h.01M133.3 298.4h.01M130.0 300.5h.01M129.7 306.4h.01M134.1 285.4h.01M129.9 299.9h.01M128.6 300.6h.01M124.4 283.9h.01M143.2 295.4h.01M125.9 291.9h.01M132.8 305.5h.01M122.9 294.3h.01M122.7 286.9h.01M128.5 294.3h.01M130.4 298.5h.01M129.8 296.7h.01M135.2 291.2h.01M130.3 298.3h.01M127.9 301.7h.01M130.4 278.0h.01M134.7 288.7h.01M136.9 280.6h.01M131.2 294.6h.01M126.1 294.5h.01M129.2 308.1h.01M125.4 280.7h.01M131.2 288.9h.01M131.2 297.1h.01M132.2 283.3h.01M129.2 290.2h.01M134.4 295.1h.01M131.1 299.6h.01M132.7 295.3h.01M134.9 297.2h.01M137.0 291.8h.01M127.1 303.7h.01M133.0 299.2h.01M137.4 278.0h.01M132.4 304.5h.01M130.3 300.0h.01M123.4 295.0h.01M139.0 292.4h.01M133.5 280.6h.01M126.7 299.2h.01M131.4 289.0h.01M125.9 295.0h.01M130.0 285.9h.01M124.2 302.8h.01M128.4 297.8h.01M133.2 297.1h.01M141.0 292.4h.01M133.7 282.8h.01M134.2 292.9h.01M127.2 298.1h.01M133.0 290.9h.01M132.7 287.3h.01M127.0 304.1h.01M136.0 294.0h.01M124.2 282.1h.01M127.2 303.9h.01M134.2 300.8h.01M127.0 287.1h.01M127.2 274.6h.01M130.8 270.6h.01M130.9 292.9h.01M127.9 297.3h.01M128.5 295.3h.01M133.4 302.5h.01M126.8 314.0h.01M136.3 290.3h.01M130.3 294.3h.01M134.3 288.3h.01M133.7 292.9h.01M129.9 294.5h.01M123.2 289.4h.01M124.3 306.4h.01M133.0 291.5h.01M133.6 277.0h.01M137.6 277.0h.01M129.5 276.9h.01M127.0 296.8h.01M134.3 292.9h.01M129.9 297.1h.01M135.7 311.1h.01M135.4 281.3h.01M130.1 289.1h.01M126.6 286.9h.01M142.3 293.4h.01M135.8 290.5h.01M129.1 298.8h.01M129.7 304.9h.01M125.1 283.2h.01M130.3 289.1h.01M131.6 288.8h.01M124.5 305.9h.01M132.9 283.5h.01M126.0 301.7h.01M126.2 291.0h.01M131.7 292.5h.01M127.9 292.5h.01M130.5 300.0h.01M131.7 298.5h.01M134.1 285.8h.01M127.7 290.6h.01M130.7 299.6h.01M126.8 310.3h.01M126.0 293.8h.01M135.1 295.8h.01M131.0 290.4h.01M133.4 287.9h.01M135.2 283.9h.01M127.4 292.4h.01M121.3 301.5h.01M130.5 288.7h.01M129.2 287.4h.01M135.5 297.3h.01M128.3 293.0h.01M132.3 291.2h.01M133.6 301.6h.01M133.4 281.7h.01M134.7 287.1h.01M129.5 291.0h.01M130.1 307.4h.01M128.0 295.7h.01M128.4 303.1h.01M129.5 297.5h.01M130.7 294.0h.01M131.1 284.8h.01M130.9 289.9h.01M125.6 322.1h.01M128.8 289.0h.01M129.1 299.9h.01M125.6 289.4h.01M128.3 293.0h.01M134.8 286.1h.01M139.1 288.8h.01M134.1 285.3h.01M127.9 295.1h.01M128.2 304.0h.01M131.6 299.5h.01M136.9 295.5h.01M128.3 294.4h.01M128.4 294.7h.01M128.0 307.5h.01M121.0 311.2h.01M136.3 285.9h.01M131.0 297.3h.01M129.8 291.6h.01M125.0 304.2h.01M126.9 285.4h.01M126.3 286.6h.01M128.6 271.8h.01M130.1 293.7h.01M135.7 282.7h.01M134.1 300.3h.01M134.8 276.4h.01M130.0 298.1h.01M126.2 288.0h.01M131.5 292.9h.01M125.6 283.2h.01M133.8 291.6h.01M136.1 297.9h.01M133.8 299.9h.01M135.9 292.3h.01M135.2 294.0h.01M132.0 282.9h.01M126.9 295.3h.01M127.1 288.7h.01M128.1 298.5h.01M129.6 284.3h.01M126.4 296.7h.01M129.1 299.3h.01M127.3 297.2h.01M131.2 306.4h.01M131.3 303.2h.01M130.5 274.3h.01M126.6 296.9h.01M129.4 286.0h.01M128.6 310.2h.01M124.1 296.5h.01M131.4 284.0h.01M128.3 289.5h.01M126.3 285.5h.01M130.1 299.7h.01M131.1 278.4h.01M127.1 306.6h.01M126.5 306.3h.01M130.2 290.9h.01M129.8 292.5h.01M135.0 293.0h.01M125.5 316.6h.01M131.3 298.9h.01M129.4 290.9h.01M132.2 305.8h.01M126.7 295.7h.01M129.8 284.3h.01M128.5 312.7h.01M135.0 304.5h.01M126.6 293.0h.01M126.3 275.4h.01M131.3 288.5h.01M128.7 276.0h.01M132.5 298.4h.01M135.3 304.8h.01M128.1 292.8h.01M130.9 301.5h.01M136.5 277.0h.01M126.8 293.0h.01M127.9 299.1h.01M134.2 290.0h.01M130.0 293.1h.01M125.8 286.5h.01M127.5 284.6h.01M128.6 298.8h.01M136.2 288.1h.01M127.9 300.0h.01M132.8 276.2h.01M132.8 295.4h.01M126.0 302.5h.01M129.9 292.0h.01M127.9 284.6h.01M126.7 302.4h.01M132.3 288.3h.01M128.9 286.6h.01M124.9 283.6h.01M138.9 271.2h.01M130.9 276.6h.01M130.6 282.3h.01M129.6 292.6h.01M132.4 307.2h.01M129.6 279.6h.01M119.0 298.3h.01M134.0 288.5h.01M131.2 281.4h.01M131.7 308.9h.01M126.7 298.8h.01M131.0 297.1h.01M130.0 279.8h.01M119.0 291.8h.01M134.0 286.1h.01M130.5 293.1h.01M131.8 290.7h.01M127.6 289.0h.01M127.2 296.3h.01M129.0 304.5h.01M132.8 292.7h.01M125.9 297.5h.01M125.0 285.2h.01M132.4 275.4h.01M128.2 289.2h.01M126.6 303.6h.01M130.1 290.5h.01M134.0 293.5h.01M134.7 282.6h.01M127.0 297.6h.01M126.8 281.7h.01M128.3 287.7h.01M133.9 293.4h.01M128.5 292.1h.01M127.4 306.5h.01M126.7 293.4h.01M131.1 278.3h.01M123.3 294.3h.01M125.9 287.0h.01M133.1 290.8h.01M136.1 293.0h.01M128.3 304.1h.01M127.9 294.5h.01M133.0 281.1h.01M129.4 300.6h.01M129.1 298.3h.01M128.6 298.4h.01M127.0 296.5h.01M128.4 296.5h.01M125.0 296.2h.01M132.6 286.7h.01M128.3 304.8h.01M125.4 307.1h.01M127.9 298.1h.01M123.6 292.8h.01M124.5 303.6h.01M127.6 288.6h.01M137.5 291.8h.01M129.3 297.8h.01M129.6 295.7h.01M139.9 296.4h.01M130.0 300.7h.01M131.8 297.2h.01M132.6 301.3h.01M138.5 286.4h.01M123.6 292.5h.01M128.6 304.7h.01M132.1 296.9h.01M133.2 296.4h.01M133.9 290.1h.01M131.8 291.4h.01M129.0 297.7h.01M132.1 286.6h.01M128.8 276.0h.01M136.9 298.9h.01M134.6 291.4h.01M131.3 299.7h.01M136.8 296.3h.01M130.1 300.0h.01M137.8 278.1h.01M125.3 301.0h.01M131.8 296.4h.01M129.0 303.7h.01M131.4 302.2h.01M133.6 271.4h.01M129.2 280.8h.01M131.8 298.3h.01M129.1 302.7h.01M130.8 287.5h.01M134.0 293.6h.01M125.8 297.5h.01M136.8 286.9h.01M130.2 311.3h.01M128.7 290.3h.01M126.8 284.9h.01M128.2 302.5h.01M128.2 296.0h.01M134.2 295.8h.01M123.6 299.1h.01M132.4 279.4h.01M126.1 284.3h.01M133.0 288.1h.01M127.5 303.1h.01M126.7 288.4h.01M131.2 284.2h.01M137.4 288.7h.01M130.2 277.8h.01M125.4 300.9h.01M129.0 297.8h.01M131.0 300.3h.01M134.8 302.0h.01M127.3 310.0h.01M125.0 292.5h.01M132.8 293.7h.01M133.6 286.3h.01M128.2 295.5h.01M131.8 275.9h.01M128.7 291.8h.01M132.5 282.1h.01M132.0 283.6h.01M126.3 298.7h.01M123.0 299.2h.01M139.3 285.5h.01M130.7 291.2h.01M131.0 304.3h.01M100.8 306.3h.01M108.6 309.0h.01M106.1 308.7h.01M95.2 310.1h.01M99.8 300.6h.01M119.1 298.9h.01M105.2 307.8h.01M92.9 309.7h.01M121.1 295.2h.01M109.1 305.3h.01M107.1 301.8h.01M107.0 301.8h.01M100.1 305.2h.01M103.9 298.6h.01M95.9 298.6h.01M106.3 307.3h.01M107.3 303.5h.01M105.0 302.2h.01M101.9 314.9h.01M113.3 303.4h.01M122.1 299.5h.01M89.1 300.1h.01M100.9 302.1h.01M127.0 294.6h.01M97.2 306.4h.01M92.6 302.8h.01M112.1 309.3h.01M111.1 298.2h.01M114.3 306.9h.01M100.8 311.8h.01M95.5 304.4h.01M107.4 296.7h.01M109.5 305.7h.01M94.2 297.5h.01M108.6 304.2h.01M98.0 311.8h.01M112.8 308.9h.01M112.3 299.8h.01M103.6 314.2h.01M110.8 295.5h.01M99.7 312.8h.01M116.9 301.8h.01M101.5 298.1h.01M104.6 302.1h.01M103.5 309.2h.01M109.0 308.9h.01M91.1 310.0h.01M118.2 296.1h.01M126.6 295.3h.01M121.6 300.4h.01M103.2 302.2h.01M98.5 301.4h.01M103.0 303.4h.01M99.4 306.3h.01M115.9 304.0h.01M101.0 303.6h.01M115.0 304.0h.01M96.6 314.9h.01M95.0 300.1h.01M106.3 301.6h.01M116.7 301.0h.01M111.4 306.4h.01M92.6 303.0h.01M106.2 301.1h.01M97.5 306.6h.01M125.2 306.0h.01M107.9 296.6h.01M105.0 303.9h.01M88.0 303.0h.01M103.1 297.5h.01M106.3 306.5h.01M111.0 305.0h.01M102.4 296.2h.01M115.9 302.1h.01M114.3 298.3h.01M112.3 303.1h.01M107.7 301.8h.01M112.1 301.4h.01M102.1 305.5h.01M111.2 309.2h.01M107.0 299.9h.01M108.6 305.6h.01M106.9 307.0h.01M115.9 304.9h.01M92.1 313.6h.01M109.8 302.6h.01M102.8 312.4h.01M105.7 309.2h.01M101.2 305.2h.01M100.2 303.6h.01M100.4 308.0h.01M105.0 296.3h.01M121.2 296.5h.01M100.5 305.3h.01M115.3 298.3h.01M92.5 307.0h.01M100.4 301.1h.01M112.8 306.3h.01M126.3 302.6h.01M128.9 301.5h.01M106.3 293.6h.01M102.4 307.7h.01M120.3 302.2h.01M111.4 310.6h.01M123.1 296.0h.01M110.3 299.7h.01M102.6 307.6h.01M93.0 304.5h.01M118.1 297.5h.01M115.3 298.8h.01M98.8 313.0h.01M112.8 302.3h.01M115.9 304.3h.01M99.2 303.0h.01M102.1 314.3h.01M101.6 310.1h.01M97.1 309.0h.01M115.6 289.5h.01M122.5 304.0h.01M117.3 302.9h.01M110.7 307.4h.01M106.4 313.8h.01M123.1 305.8h.01M112.3 306.6h.01M109.5 310.4h.01M103.7 299.6h.01M112.4 314.3h.01M114.7 310.3h.01M109.6 300.9h.01M101.3 307.0h.01M104.9 302.3h.01M115.3 295.2h.01M110.0 292.5h.01M98.6 295.6h.01M104.7 300.3h.01M105.9 303.9h.01M98.8 303.4h.01M125.2 300.3h.01M106.9 304.2h.01M113.5 304.3h.01M107.0 303.0h.01M118.7 296.9h.01M97.6 309.3h.01M107.2 299.4h.01M115.7 303.9h.01M126.1 301.9h.01M119.7 294.1h.01M121.4 300.7h.01M112.2 311.9h.01M91.1 310.3h.01M113.5 297.1h.01M106.2 298.5h.01M112.2 294.8h.01M92.8 311.2h.01M98.5 311.5h.01M121.8 306.9h.01M99.6 307.7h.01M115.0 305.5h.01M113.7 300.0h.01M101.3 318.4h.01M98.8 312.6h.01M121.7 305.8h.01M97.5 303.7h.01M107.6 309.4h.01M116.9 297.4h.01M109.6 308.0h.01M99.2 317.0h.01M110.5 301.4h.01M98.8 305.4h.01M136.5 305.6h.01M91.8 303.3h.01M103.2 307.6h.01M112.6 304.0h.01M116.0 299.8h.01M117.5 301.8h.01M87.7 299.8h.01M91.8 300.9h.01M109.3 311.6h.01M107.7 299.2h.01M97.9 305.5h.01M100.4 311.0h.01M101.5 298.0h.01M113.2 303.4h.01M106.3 303.6h.01M109.6 302.8h.01M91.7 301.6h.01M99.4 320.2h.01M113.4 310.0h.01M105.8 305.0h.01M101.8 302.1h.01M104.6 306.2h.01M98.5 307.2h.01M97.8 305.5h.01M119.0 296.6h.01M110.9 311.3h.01M116.3 297.4h.01M125.6 313.8h.01M107.2 306.1h.01M116.8 308.7h.01M103.7 291.8h.01M116.0 314.0h.01M107.3 296.5h.01M101.5 301.8h.01M108.0 312.3h.01M101.4 298.8h.01M117.7 305.9h.01M117.2 306.6h.01M109.3 304.0h.01M95.8 304.3h.01M103.6 320.3h.01M99.6 310.3h.01M99.6 311.0h.01M100.9 319.1h.01M115.1 302.5h.01M109.4 305.4h.01M107.6 305.6h.01M97.3 314.5h.01M107.7 298.4h.01M109.2 294.8h.01M94.8 307.8h.01M101.5 298.2h.01M122.3 304.7h.01M113.6 304.5h.01M98.1 306.4h.01M97.7 297.1h.01M112.4 296.7h.01M110.3 317.5h.01M114.3 302.5h.01M85.6 307.3h.01M116.2 293.1h.01M97.9 301.3h.01M110.1 304.7h.01M104.5 301.7h.01M112.3 299.7h.01M103.4 312.3h.01M118.9 294.9h.01M102.0 305.3h.01M114.3 313.0h.01M111.6 289.8h.01M109.5 307.9h.01M125.5 301.2h.01M109.0 306.4h.01M108.7 314.2h.01M95.5 314.6h.01M115.2 303.4h.01M117.4 314.1h.01M101.7 296.9h.01M99.9 316.0h.01M100.4 307.4h.01M107.0 296.9h.01M119.0 293.5h.01M112.3 306.3h.01M102.6 313.4h.01M118.5 295.3h.01M107.9 309.2h.01M113.1 300.5h.01M108.5 310.6h.01M109.2 307.1h.01M113.7 299.8h.01M111.0 306.0h.01M120.8 297.6h.01M118.5 297.6h.01M113.0 301.1h.01M97.5 316.2h.01M98.7 302.2h.01M115.3 301.9h.01M107.9 293.7h.01M103.5 315.0h.01M93.2 308.4h.01M113.4 299.1h.01M105.1 300.0h.01M106.6 308.5h.01M103.7 300.6h.01M115.6 309.2h.01M98.2 305.1h.01M126.2 307.7h.01M95.8 303.8h.01M111.6 307.0h.01M106.8 301.6h.01M91.4 307.0h.01M112.5 298.2h.01M117.5 303.0h.01M94.1 298.8h.01M114.0 306.7h.01M116.4 296.9h.01M105.8 317.9h.01M102.9 309.3h.01M99.6 306.0h.01M97.4 303.7h.01M124.0 308.2h.01M116.4 305.8h.01M111.9 304.2h.01M118.6 306.4h.01M113.6 307.6h.01M109.1 304.0h.01M116.8 311.6h.01M95.0 298.4h.01M110.5 294.1h.01M97.8 304.6h.01M112.5 293.4h.01M106.6 306.9h.01M113.5 303.8h.01M100.4 301.1h.01M90.0 312.9h.01M119.3 305.1h.01M104.2 302.7h.01M117.1 299.6h.01M98.4 309.0h.01M116.5 303.4h.01M101.4 300.3h.01M117.3 290.3h.01M97.4 309.9h.01M100.9 303.3h.01M102.8 298.7h.01M83.0 302.9h.01M101.3 306.8h.01M112.2 302.3h.01M98.0 297.3h.01M112.2 306.2h.01M108.9 310.3h.01M96.1 307.8h.01M110.3 303.2h.01M100.1 313.3h.01M92.1 297.7h.01M110.4 308.3h.01M117.7 299.5h.01M103.4 308.4h.01M117.2 300.7h.01M121.7 299.8h.01M101.9 308.6h.01M100.8 303.9h.01M109.3 300.5h.01M111.1 309.6h.01M105.2 309.9h.01M111.4 311.0h.01M101.9 310.0h.01M101.6 306.7h.01M120.5 303.5h.01M94.3 308.1h.01M113.7 300.0h.01M109.2 292.6h.01M117.0 302.1h.01M117.9 310.1h.01M105.6 309.5h.01M108.7 294.9h.01M102.7 296.0h.01M98.0 297.7h.01M92.0 311.6h.01M116.0 303.3h.01M108.4 304.2h.01M108.7 305.0h.01M98.4 307.4h.01M108.1 309.2h.01M111.2 293.6h.01M92.5 309.8h.01M104.6 304.6h.01M107.9 308.3h.01M106.8 304.3h.01M106.3 295.7h.01M108.2 312.5h.01M93.1 303.3h.01M104.0 308.3h.01M95.0 308.1h.01M106.3 308.3h.01M103.9 299.8h.01M114.0 300.0h.01M105.5 312.3h.01M114.0 294.7h.01M118.4 295.8h.01M109.5 301.8h.01M106.9 297.2h.01M104.7 292.5h.01M114.0 305.0h.01M107.1 313.4h.01M100.6 307.1h.01M128.8 305.3h.01M115.2 302.5h.01M104.4 301.2h.01M89.4 301.9h.01M124.3 299.7h.01M106.5 303.5h.01M113.0 306.1h.01M108.1 301.3h.01M104.0 302.6h.01M110.0 299.7h.01M98.3 308.8h.01M103.3 298.1h.01M109.3 313.3h.01M95.7 295.2h.01M110.1 311.1h.01M99.0 304.8h.01M119.7 293.0h.01M103.8 306.5h.01M124.1 307.0h.01M121.0 300.1h.01M107.9 296.9h.01M111.4 308.3h.01M93.5 306.5h.01M111.6 295.8h.01M83.9 300.6h.01M112.6 294.8h.01M114.1 301.9h.01M110.9 301.4h.01M101.5 305.9h.01M108.2 306.7h.01M94.1 314.7h.01M111.6 300.6h.01M108.0 310.8h.01M114.6 305.3h.01M88.6 298.5h.01M93.8 293.7h.01M111.8 306.0h.01M86.2 311.8h.01M120.2 294.4h.01M109.4 313.6h.01M103.7 306.5h.01M111.2 304.3h.01M110.1 313.1h.01M101.4 297.1h.01M94.2 301.2h.01M127.6 297.2h.01M94.7 299.3h.01M90.6 305.1h.01M103.4 297.9h.01M117.5 301.5h.01M123.0 296.1h.01M102.8 310.6h.01M128.9 303.0h.01M110.7 304.3h.01M102.9 314.1h.01M105.8 305.2h.01M115.8 305.8h.01M93.2 312.7h.01M106.7 302.9h.01M113.5 305.4h.01M111.9 302.7h.01M122.1 302.1h.01M108.4 300.9h.01M117.9 307.7h.01M102.9 306.6h.01M88.1 300.0h.01M116.6 302.6h.01M137.0 292.1h.01M125.0 292.4h.01M115.1 311.0h.01M120.7 299.6h.01M96.4 305.8h.01M113.8 297.6h.01M108.6 307.0h.01M113.9 307.5h.01M123.6 301.9h.01M113.0 306.0h.01M109.0 316.7h.01M114.7 309.5h.01M129.8 307.7h.01M131.3 306.3h.01M122.6 304.1h.01M122.4 306.9h.01M132.3 311.5h.01M133.2 315.6h.01M122.5 321.7h.01M120.1 295.7h.01M127.0 297.5h.01M112.8 317.0h.01M127.9 300.9h.01M130.7 320.4h.01M128.2 308.0h.01M125.2 304.0h.01M122.0 321.4h.01M115.9 320.1h.01M114.0 309.9h.01M134.4 312.4h.01M118.3 317.5h.01M110.8 308.7h.01M120.4 310.1h.01M116.7 304.7h.01M114.9 304.5h.01M119.1 302.1h.01M117.3 305.0h.01M127.7 308.1h.01M137.0 305.1h.01M117.3 303.1h.01M117.8 312.8h.01M124.3 306.4h.01M137.5 320.2h.01M122.2 299.1h.01M123.0 305.4h.01M136.1 316.3h.01M124.6 301.5h.01M119.7 322.1h.01M116.4 307.1h.01M125.7 293.1h.01M134.6 319.0h.01M132.3 299.8h.01M136.9 307.7h.01M119.9 307.1h.01M136.3 301.7h.01M137.5 300.2h.01M119.6 316.3h.01M138.7 318.3h.01M121.5 310.6h.01M117.1 313.1h.01M124.3 289.0h.01M123.7 312.0h.01M125.2 300.3h.01M117.9 311.7h.01M110.6 303.7h.01M129.5 295.4h.01M114.9 291.6h.01M131.0 309.3h.01M121.2 310.6h.01M114.8 302.7h.01M119.5 314.0h.01M128.3 306.5h.01M119.7 310.2h.01M120.4 297.6h.01M132.0 312.8h.01M123.9 297.0h.01M122.0 293.9h.01M127.7 302.2h.01M108.0 302.8h.01M126.9 302.9h.01M128.0 303.3h.01M120.3 301.1h.01M124.7 316.1h.01M116.3 307.4h.01M126.8 325.0h.01M108.1 301.2h.01M124.1 285.2h.01M112.3 311.0h.01M119.5 303.9h.01M135.2 293.9h.01M116.3 298.8h.01M114.7 306.4h.01M125.6 302.8h.01M118.0 297.9h.01M123.7 308.0h.01M122.1 316.5h.01M129.9 304.6h.01M127.8 292.7h.01M117.5 310.8h.01M124.3 301.0h.01M122.8 300.6h.01M127.8 321.4h.01M118.9 324.5h.01M122.0 311.4h.01M128.8 306.0h.01M123.7 297.9h.01M128.9 317.1h.01M118.8 305.8h.01M137.5 308.0h.01M122.9 305.9h.01M130.3 307.9h.01M126.5 310.9h.01M119.9 314.6h.01M129.4 311.7h.01M128.5 304.2h.01M131.8 328.4h.01M116.7 318.3h.01M122.9 301.6h.01M144.0 293.5h.01M134.8 303.7h.01M121.2 303.9h.01M107.2 302.2h.01M124.3 302.9h.01M116.2 317.4h.01M119.2 308.7h.01M127.0 310.4h.01M127.0 302.1h.01M115.2 309.6h.01M112.0 313.4h.01M131.3 312.8h.01M138.8 302.3h.01M131.2 306.3h.01M131.0 298.4h.01M125.1 312.0h.01M119.9 292.9h.01M122.8 311.6h.01M118.7 321.8h.01M120.3 305.6h.01M120.4 314.3h.01M127.4 303.8h.01M120.8 305.7h.01M116.6 301.8h.01M116.5 311.3h.01M125.3 311.1h.01M115.3 292.0h.01M136.1 320.5h.01M125.2 317.8h.01M126.7 317.9h.01M128.8 303.1h.01M137.6 296.9h.01M120.6 300.7h.01M120.6 309.1h.01M120.3 322.3h.01M128.9 323.5h.01M122.4 303.8h.01M125.1 320.3h.01M119.1 302.9h.01M132.8 294.2h.01M110.0 305.6h.01M120.5 302.1h.01M111.0 310.3h.01M129.8 312.4h.01M121.4 315.9h.01M132.9 317.5h.01M117.1 311.2h.01M121.7 291.2h.01M126.4 314.2h.01M128.8 304.6h.01M126.4 308.1h.01M127.8 316.8h.01M114.8 312.2h.01M115.6 303.1h.01M139.4 296.4h.01M127.7 304.8h.01M118.9 318.7h.01M128.5 319.2h.01M126.6 308.7h.01M130.1 306.8h.01M125.1 312.4h.01M110.8 311.9h.01M129.7 298.9h.01M135.0 314.6h.01M116.9 303.0h.01M120.7 287.7h.01M126.7 319.7h.01M119.9 295.8h.01M109.9 308.1h.01M113.4 296.2h.01M120.7 316.4h.01M110.9 314.9h.01M104.2 313.7h.01M141.3 305.3h.01M122.1 317.3h.01M126.9 311.3h.01M117.6 297.5h.01M127.7 314.6h.01M135.8 307.1h.01M128.2 306.2h.01M133.5 302.0h.01M121.5 302.4h.01M121.2 307.1h.01M137.1 315.0h.01M116.1 311.9h.01M120.3 297.8h.01M111.8 290.8h.01M136.6 310.1h.01M125.7 310.6h.01M129.5 302.0h.01M130.1 301.1h.01M139.4 307.6h.01M129.7 308.7h.01M124.5 306.0h.01M123.8 305.1h.01M117.6 309.7h.01M119.5 317.6h.01M118.7 312.4h.01M123.1 320.4h.01M122.2 317.0h.01M117.8 307.0h.01M132.9 304.6h.01M120.4 311.7h.01M134.7 319.7h.01M133.2 318.9h.01M119.3 308.0h.01M122.5 294.7h.01M128.1 307.8h.01M131.7 306.8h.01M117.9 299.5h.01M136.0 296.4h.01M115.0 293.5h.01M121.0 302.0h.01M133.6 287.9h.01M111.6 317.3h.01M133.5 302.9h.01M121.8 331.5h.01M127.7 309.0h.01M103.8 288.5h.01M104.6 314.3h.01M124.2 306.0h.01M130.1 309.3h.01M117.2 311.4h.01M107.7 318.4h.01M139.7 311.7h.01M123.6 292.7h.01M132.5 306.0h.01M130.0 309.4h.01M117.1 300.5h.01M125.3 294.9h.01M122.2 311.0h.01M126.9 309.1h.01M121.8 315.2h.01M126.2 305.0h.01M138.6 306.6h.01M110.5 305.5h.01M142.2 309.5h.01M117.9 309.8h.01M101.8 312.8h.01M122.7 320.1h.01M128.8 314.4h.01M109.7 315.1h.01M129.2 291.9h.01M134.0 305.3h.01M120.2 310.3h.01M131.8 311.2h.01M127.5 299.8h.01M117.1 313.3h.01M127.7 307.4h.01M123.2 312.2h.01M123.7 293.0h.01M134.9 319.6h.01M124.6 307.0h.01M124.5 318.9h.01M123.2 306.7h.01M118.9 305.9h.01M105.1 321.9h.01M125.0 304.6h.01M122.9 311.6h.01M125.7 299.0h.01M131.3 307.7h.01M120.6 299.7h.01M128.5 300.3h.01M122.0 314.9h.01M125.7 312.7h.01M133.3 300.1h.01M107.1 304.2h.01M134.7 298.4h.01M120.5 315.1h.01M131.9 298.9h.01M124.7 317.0h.01M112.2 306.9h.01M117.7 313.9h.01M127.7 299.1h.01M108.0 314.9h.01M134.4 307.1h.01M121.5 303.0h.01M115.3 318.5h.01M124.4 295.3h.01M132.2 307.0h.01M132.2 310.3h.01M115.0 322.2h.01M126.4 300.4h.01M127.2 307.8h.01M121.1 299.4h.01M123.9 319.4h.01M135.0 311.9h.01M127.3 307.5h.01M132.5 305.0h.01M133.9 305.1h.01" stroke="#000" stroke-width="0.6" stroke-linecap="square" fill="none" opacity="0.5"/>
<path d="M89.3 315.9h.01M101.8 315.7h.01M104.9 309.7h.01M84.1 320.4h.01M92.9 295.0h.01M103.2 307.9h.01M84.3 295.9h.01M91.4 311.0h.01M89.7 299.6h.01M96.5 313.7h.01M96.6 318.4h.01M82.7 314.5h.01M62.2 307.8h.01M116.8 314.4h.01M92.9 324.4h.01M96.4 307.8h.01M102.8 319.8h.01M87.7 317.5h.01M91.7 290.8h.01M92.2 311.1h.01M88.8 304.6h.01M123.3 292.9h.01M111.7 315.4h.01M106.4 307.0h.01M108.5 297.4h.01M101.8 323.1h.01M96.0 314.2h.01M99.5 308.6h.01M106.3 321.4h.01M86.2 312.9h.01M98.1 312.8h.01M94.2 309.8h.01M106.3 308.3h.01M97.2 325.5h.01M65.1 330.3h.01M98.5 329.5h.01M99.1 309.9h.01M94.5 316.6h.01M89.8 304.0h.01M98.5 309.4h.01M89.0 309.7h.01M107.9 307.0h.01M90.4 321.6h.01M95.6 318.0h.01M78.3 306.5h.01M87.5 329.8h.01M86.4 295.9h.01M93.3 322.1h.01M82.1 306.9h.01M99.1 307.2h.01M92.3 306.5h.01M111.8 301.6h.01M92.6 322.9h.01M99.5 295.1h.01M101.8 319.5h.01M96.6 298.2h.01M87.3 307.6h.01M108.1 292.4h.01M76.6 330.0h.01M98.7 302.9h.01M90.5 311.3h.01M89.9 300.7h.01M69.6 314.1h.01M80.1 319.7h.01M77.2 322.5h.01M94.2 310.0h.01M114.6 307.2h.01M98.4 306.1h.01M97.4 296.5h.01M96.0 308.5h.01M93.2 310.5h.01M93.9 301.5h.01M94.7 309.5h.01M94.0 303.6h.01M89.2 303.2h.01M88.0 305.6h.01M116.1 302.8h.01M93.5 320.8h.01M102.8 308.0h.01M104.7 313.4h.01M100.4 292.8h.01M99.0 311.9h.01M79.8 313.9h.01M101.9 303.1h.01M81.9 322.4h.01M83.5 321.9h.01M91.4 308.6h.01M116.2 303.1h.01M110.9 320.7h.01M111.9 298.8h.01M99.5 301.7h.01M101.5 291.5h.01M103.6 323.3h.01M74.8 300.8h.01M93.5 298.7h.01M90.6 316.9h.01M90.6 308.3h.01M96.6 315.1h.01M100.5 303.2h.01M84.1 322.6h.01M72.3 318.4h.01M94.6 316.3h.01M87.7 313.0h.01M94.8 305.0h.01M103.9 304.0h.01M107.1 315.6h.01M101.3 305.2h.01M82.7 319.1h.01M99.5 308.3h.01M80.3 318.6h.01M111.7 298.5h.01M95.4 298.0h.01M84.2 314.2h.01M105.3 310.5h.01M81.9 308.1h.01M112.6 328.2h.01M96.2 320.8h.01M91.1 323.5h.01M123.9 309.0h.01M95.0 316.3h.01M83.3 317.0h.01M96.8 294.1h.01M97.7 295.5h.01M82.4 312.5h.01M89.5 325.3h.01M136.6 301.9h.01M97.3 316.2h.01M88.0 320.9h.01M106.1 310.9h.01M92.9 309.0h.01M80.6 311.5h.01M92.6 306.7h.01M90.1 310.9h.01M100.3 300.2h.01M86.7 303.5h.01M83.3 314.6h.01M96.0 308.5h.01M66.3 325.8h.01M92.4 302.5h.01M86.5 298.7h.01M74.1 314.5h.01M100.6 308.5h.01M97.5 301.2h.01M85.4 307.2h.01M106.5 309.3h.01M68.3 327.2h.01M84.8 321.9h.01M99.4 316.1h.01M122.5 298.2h.01M79.7 316.4h.01M111.8 299.9h.01M83.0 303.8h.01M89.1 291.9h.01M88.2 306.4h.01M100.9 312.5h.01M92.8 300.3h.01M100.1 309.3h.01M99.5 293.4h.01M105.0 303.4h.01M98.2 323.1h.01M96.0 314.1h.01M102.8 313.5h.01M99.6 318.2h.01M104.6 314.1h.01M94.2 305.1h.01M90.8 311.0h.01M106.5 291.5h.01M74.1 323.2h.01M102.1 300.0h.01M89.1 310.7h.01M92.3 290.5h.01M92.2 321.3h.01M76.9 325.8h.01M109.2 310.0h.01M116.5 299.1h.01M98.8 303.4h.01M103.4 299.8h.01M83.5 317.8h.01M88.3 310.8h.01M91.7 321.8h.01M86.6 296.3h.01M118.5 311.8h.01M98.8 309.4h.01M84.9 306.2h.01M93.7 295.6h.01M99.7 311.7h.01M64.6 318.5h.01M104.1 314.1h.01M104.5 301.7h.01M74.5 316.8h.01M98.1 302.6h.01M96.2 309.9h.01M90.6 313.7h.01M94.5 319.6h.01M101.7 311.3h.01M100.4 313.2h.01M99.1 307.9h.01M104.6 303.6h.01M105.0 309.0h.01M93.9 312.6h.01M80.3 314.8h.01M106.8 300.3h.01M84.9 309.9h.01M103.0 320.1h.01M98.4 306.3h.01M103.0 305.8h.01M74.8 332.9h.01M116.9 308.1h.01M108.9 295.4h.01M95.5 320.0h.01M109.9 306.7h.01M100.4 304.5h.01M105.3 298.6h.01M78.4 326.6h.01M96.1 309.7h.01M103.3 309.2h.01M92.4 292.7h.01M110.0 296.1h.01M106.2 314.3h.01M93.5 311.0h.01M82.1 320.9h.01M96.3 320.5h.01M100.6 304.5h.01M91.8 313.8h.01M101.3 304.3h.01M98.6 320.0h.01M76.2 296.6h.01M87.1 315.2h.01M73.9 322.3h.01M86.2 305.2h.01M64.6 329.9h.01M89.8 315.7h.01M85.7 316.2h.01M76.7 312.2h.01M108.0 305.5h.01M88.4 300.5h.01M100.0 317.9h.01M88.0 317.2h.01M94.0 299.6h.01M86.5 313.4h.01M95.8 320.4h.01M89.1 306.1h.01M107.3 323.5h.01M102.5 310.8h.01M109.1 301.1h.01M116.7 302.0h.01M90.0 318.6h.01M78.3 309.3h.01M100.3 301.5h.01M98.5 322.4h.01M89.9 313.4h.01M96.3 303.0h.01M110.5 303.7h.01M71.2 324.9h.01M70.4 322.9h.01M80.9 311.4h.01M92.0 301.0h.01M106.7 311.2h.01M105.2 307.4h.01M99.6 297.0h.01M81.5 314.0h.01M111.9 312.6h.01M96.9 308.4h.01M89.8 322.8h.01M86.7 320.7h.01M106.7 305.0h.01M102.4 318.7h.01M100.2 307.5h.01M106.3 313.6h.01M103.7 295.8h.01M114.9 313.3h.01M81.8 326.2h.01M105.4 302.3h.01M98.4 316.8h.01M108.7 292.6h.01M94.1 311.3h.01M107.9 302.4h.01M109.7 310.0h.01M98.3 312.2h.01M88.1 314.4h.01M91.3 306.5h.01M91.1 310.4h.01M85.4 323.2h.01M110.6 314.8h.01M115.0 296.9h.01M68.6 322.2h.01M89.8 311.1h.01M92.5 316.0h.01M108.7 307.8h.01M105.4 313.5h.01M86.7 300.4h.01M91.3 320.6h.01M92.6 301.4h.01M92.7 316.9h.01M101.7 299.8h.01M92.2 313.5h.01M90.4 287.5h.01M92.4 295.4h.01M92.8 307.0h.01M71.5 314.3h.01M95.1 312.8h.01M89.9 323.3h.01M77.7 312.8h.01M87.3 312.7h.01M92.5 315.1h.01M86.3 295.9h.01M82.0 317.7h.01M91.2 321.1h.01M83.7 305.3h.01M105.0 306.4h.01M131.1 293.9h.01M108.4 313.9h.01M106.7 292.4h.01M90.2 295.4h.01M85.4 322.3h.01M94.0 317.4h.01M101.7 318.1h.01M95.5 327.1h.01M94.2 301.0h.01M91.5 308.2h.01M106.8 316.7h.01M80.2 313.0h.01M97.7 311.7h.01M83.6 302.2h.01M81.4 315.7h.01M94.0 303.9h.01M89.5 318.6h.01M117.3 312.0h.01M103.5 309.3h.01M89.1 311.9h.01M91.6 308.1h.01M65.8 317.5h.01M95.3 318.5h.01M90.1 290.8h.01M115.4 299.4h.01M97.2 312.2h.01M110.2 310.2h.01M85.3 306.4h.01M83.6 319.8h.01M110.9 320.2h.01M93.8 309.3h.01M97.4 322.2h.01M92.0 313.7h.01M116.2 296.0h.01M86.0 304.6h.01M101.9 309.3h.01M91.8 313.2h.01M77.1 320.0h.01M105.1 294.9h.01M115.5 308.3h.01M131.4 343.2h.01M124.4 331.4h.01M133.0 335.5h.01M118.3 329.8h.01M129.7 309.7h.01M119.3 299.8h.01M127.8 327.0h.01M129.3 318.5h.01M133.1 314.8h.01M143.8 306.3h.01M121.5 310.3h.01M132.6 328.7h.01M120.6 326.7h.01M107.0 311.8h.01M124.8 305.7h.01M122.1 317.6h.01M132.3 308.4h.01M129.1 329.1h.01M144.0 309.4h.01M137.3 301.7h.01M137.6 314.1h.01M130.3 311.9h.01M114.7 310.0h.01M118.9 314.0h.01M118.6 311.0h.01M122.7 292.7h.01M128.1 313.2h.01M119.4 321.4h.01M126.1 321.4h.01M123.1 327.4h.01M132.6 322.3h.01M120.1 314.6h.01M120.2 320.2h.01M122.5 327.9h.01M124.8 326.9h.01M116.7 314.8h.01M124.2 333.5h.01M123.5 316.5h.01M129.9 314.5h.01M128.6 312.2h.01M122.7 326.6h.01M131.4 322.6h.01M126.6 311.7h.01M134.0 305.8h.01M121.1 322.2h.01M131.0 333.1h.01M116.6 312.1h.01M121.7 327.9h.01M132.9 312.9h.01M133.8 321.8h.01M124.3 321.9h.01M128.9 339.3h.01M121.1 311.1h.01M120.4 319.1h.01M127.6 313.0h.01M122.8 330.0h.01M146.3 325.8h.01M140.1 336.5h.01M127.5 320.4h.01M141.5 297.4h.01M134.3 328.8h.01M120.2 326.1h.01M122.5 315.7h.01M120.4 320.9h.01M138.2 303.6h.01M111.9 328.2h.01M123.6 305.1h.01M124.0 298.8h.01M129.5 303.6h.01M119.8 321.6h.01M134.6 312.5h.01M111.9 321.2h.01M128.0 311.9h.01M121.6 300.5h.01M127.8 303.5h.01M129.8 317.5h.01M124.1 330.4h.01M133.4 310.6h.01M133.9 322.2h.01M118.7 322.3h.01M124.1 318.5h.01M134.3 327.7h.01M122.8 311.3h.01M133.7 295.7h.01M130.7 327.1h.01M118.4 326.5h.01M127.2 315.8h.01M126.1 324.7h.01M125.1 319.2h.01M131.3 317.5h.01M120.2 330.4h.01M138.3 319.3h.01M125.2 318.6h.01M135.5 321.6h.01M128.0 320.8h.01M131.2 328.7h.01M128.2 307.8h.01M135.9 312.1h.01M128.9 302.3h.01M132.2 304.0h.01M117.2 329.6h.01M132.9 321.1h.01M123.2 328.1h.01M138.3 330.6h.01M127.4 332.7h.01M125.2 295.4h.01M145.7 323.4h.01M118.7 301.7h.01M119.9 336.7h.01M129.3 329.4h.01M115.2 306.9h.01M120.9 329.3h.01M127.9 320.3h.01M135.4 317.4h.01M139.1 306.7h.01M140.6 306.9h.01M127.2 312.8h.01M126.8 334.3h.01M117.4 310.8h.01M108.1 326.8h.01M72.9 301.0h.01M78.5 293.9h.01M97.3 310.2h.01M103.4 328.9h.01M95.1 291.1h.01M125.2 283.6h.01M134.8 331.8h.01M116.8 263.9h.01M110.5 324.8h.01M110.6 311.3h.01M87.3 275.3h.01M97.7 325.0h.01M86.6 254.9h.01M82.8 284.2h.01M105.7 273.0h.01M95.5 321.0h.01M87.4 322.9h.01M94.5 270.9h.01M116.4 303.7h.01M115.6 293.4h.01M126.9 262.0h.01M94.7 300.3h.01M97.6 271.7h.01M110.3 281.7h.01M121.8 314.0h.01M104.6 268.1h.01M122.4 281.1h.01M95.4 307.7h.01" stroke="#000" stroke-width="0.6" stroke-linecap="square" fill="none" opacity="0.3"/>
<path d="M55.6 346.6V252.6H147.1" fill="none" stroke="#222" stroke-width="0.9"/>
<path d="M147.1 252.6V346.6" fill="none" stroke="#555" stroke-width="0.8"/>
<path d="M55.1 346.6H147.1" fill="none" stroke="#111" stroke-width="1"/>
<line x1="55.6" y1="302.3" x2="147.1" y2="302.3" stroke="#111" stroke-width="0.9"/>
<line x1="112.2" y1="252.6" x2="112.2" y2="346.6" stroke="#111" stroke-width="0.9"/>
<text x="54.8" y="356.9" class="sr" font-size="5.2" text-anchor="middle" fill="#222">10<tspan dy="-2.2" font-size="3.6">0</tspan></text>
<text x="52.4" y="348.8" class="sr" font-size="5.2" text-anchor="end" fill="#222">10<tspan dy="-2.2" font-size="3.6">0</tspan></text>
<line x1="62.5" y1="346.6" x2="62.5" y2="347.90000000000003" stroke="#000" stroke-width="0.35"/>
<line x1="54.300000000000004" y1="339.5" x2="55.6" y2="339.5" stroke="#000" stroke-width="0.35"/>
<line x1="66.5" y1="346.6" x2="66.5" y2="347.90000000000003" stroke="#000" stroke-width="0.35"/>
<line x1="54.300000000000004" y1="335.4" x2="55.6" y2="335.4" stroke="#000" stroke-width="0.35"/>
<line x1="69.4" y1="346.6" x2="69.4" y2="347.90000000000003" stroke="#000" stroke-width="0.35"/>
<line x1="54.300000000000004" y1="332.5" x2="55.6" y2="332.5" stroke="#000" stroke-width="0.35"/>
<line x1="71.6" y1="346.6" x2="71.6" y2="347.90000000000003" stroke="#000" stroke-width="0.35"/>
<line x1="54.300000000000004" y1="330.2" x2="55.6" y2="330.2" stroke="#000" stroke-width="0.35"/>
<line x1="73.4" y1="346.6" x2="73.4" y2="347.90000000000003" stroke="#000" stroke-width="0.35"/>
<line x1="54.300000000000004" y1="328.3" x2="55.6" y2="328.3" stroke="#000" stroke-width="0.35"/>
<line x1="74.9" y1="346.6" x2="74.9" y2="347.90000000000003" stroke="#000" stroke-width="0.35"/>
<line x1="54.300000000000004" y1="326.7" x2="55.6" y2="326.7" stroke="#000" stroke-width="0.35"/>
<line x1="76.3" y1="346.6" x2="76.3" y2="347.90000000000003" stroke="#000" stroke-width="0.35"/>
<line x1="54.300000000000004" y1="325.4" x2="55.6" y2="325.4" stroke="#000" stroke-width="0.35"/>
<line x1="77.4" y1="346.6" x2="77.4" y2="347.90000000000003" stroke="#000" stroke-width="0.35"/>
<line x1="54.300000000000004" y1="324.2" x2="55.6" y2="324.2" stroke="#000" stroke-width="0.35"/>
<line x1="55.6" y1="346.6" x2="55.6" y2="348.90000000000003" stroke="#000" stroke-width="0.6"/>
<line x1="53.300000000000004" y1="346.6" x2="55.6" y2="346.6" stroke="#000" stroke-width="0.6"/>
<text x="77.7" y="356.9" class="sr" font-size="5.2" text-anchor="middle" fill="#222">10<tspan dy="-2.2" font-size="3.6">1</tspan></text>
<text x="52.4" y="325.3" class="sr" font-size="5.2" text-anchor="end" fill="#222">10<tspan dy="-2.2" font-size="3.6">1</tspan></text>
<line x1="85.4" y1="346.6" x2="85.4" y2="347.90000000000003" stroke="#000" stroke-width="0.35"/>
<line x1="54.300000000000004" y1="316.0" x2="55.6" y2="316.0" stroke="#000" stroke-width="0.35"/>
<line x1="89.4" y1="346.6" x2="89.4" y2="347.90000000000003" stroke="#000" stroke-width="0.35"/>
<line x1="54.300000000000004" y1="311.9" x2="55.6" y2="311.9" stroke="#000" stroke-width="0.35"/>
<line x1="92.2" y1="346.6" x2="92.2" y2="347.90000000000003" stroke="#000" stroke-width="0.35"/>
<line x1="54.300000000000004" y1="309.0" x2="55.6" y2="309.0" stroke="#000" stroke-width="0.35"/>
<line x1="94.5" y1="346.6" x2="94.5" y2="347.90000000000003" stroke="#000" stroke-width="0.35"/>
<line x1="54.300000000000004" y1="306.7" x2="55.6" y2="306.7" stroke="#000" stroke-width="0.35"/>
<line x1="96.3" y1="346.6" x2="96.3" y2="347.90000000000003" stroke="#000" stroke-width="0.35"/>
<line x1="54.300000000000004" y1="304.8" x2="55.6" y2="304.8" stroke="#000" stroke-width="0.35"/>
<line x1="97.8" y1="346.6" x2="97.8" y2="347.90000000000003" stroke="#000" stroke-width="0.35"/>
<line x1="54.300000000000004" y1="303.2" x2="55.6" y2="303.2" stroke="#000" stroke-width="0.35"/>
<line x1="99.1" y1="346.6" x2="99.1" y2="347.90000000000003" stroke="#000" stroke-width="0.35"/>
<line x1="54.300000000000004" y1="301.9" x2="55.6" y2="301.9" stroke="#000" stroke-width="0.35"/>
<line x1="100.3" y1="346.6" x2="100.3" y2="347.90000000000003" stroke="#000" stroke-width="0.35"/>
<line x1="54.300000000000004" y1="300.7" x2="55.6" y2="300.7" stroke="#000" stroke-width="0.35"/>
<line x1="78.5" y1="346.6" x2="78.5" y2="348.90000000000003" stroke="#000" stroke-width="0.6"/>
<line x1="53.300000000000004" y1="323.1" x2="55.6" y2="323.1" stroke="#000" stroke-width="0.6"/>
<text x="100.5" y="356.9" class="sr" font-size="5.2" text-anchor="middle" fill="#222">10<tspan dy="-2.2" font-size="3.6">2</tspan></text>
<text x="52.4" y="301.8" class="sr" font-size="5.2" text-anchor="end" fill="#222">10<tspan dy="-2.2" font-size="3.6">2</tspan></text>
<line x1="108.2" y1="346.6" x2="108.2" y2="347.90000000000003" stroke="#000" stroke-width="0.35"/>
<line x1="54.300000000000004" y1="292.5" x2="55.6" y2="292.5" stroke="#000" stroke-width="0.35"/>
<line x1="112.3" y1="346.6" x2="112.3" y2="347.90000000000003" stroke="#000" stroke-width="0.35"/>
<line x1="54.300000000000004" y1="288.4" x2="55.6" y2="288.4" stroke="#000" stroke-width="0.35"/>
<line x1="115.1" y1="346.6" x2="115.1" y2="347.90000000000003" stroke="#000" stroke-width="0.35"/>
<line x1="54.300000000000004" y1="285.5" x2="55.6" y2="285.5" stroke="#000" stroke-width="0.35"/>
<line x1="117.3" y1="346.6" x2="117.3" y2="347.90000000000003" stroke="#000" stroke-width="0.35"/>
<line x1="54.300000000000004" y1="283.2" x2="55.6" y2="283.2" stroke="#000" stroke-width="0.35"/>
<line x1="119.2" y1="346.6" x2="119.2" y2="347.90000000000003" stroke="#000" stroke-width="0.35"/>
<line x1="54.300000000000004" y1="281.3" x2="55.6" y2="281.3" stroke="#000" stroke-width="0.35"/>
<line x1="120.7" y1="346.6" x2="120.7" y2="347.90000000000003" stroke="#000" stroke-width="0.35"/>
<line x1="54.300000000000004" y1="279.7" x2="55.6" y2="279.7" stroke="#000" stroke-width="0.35"/>
<line x1="122.0" y1="346.6" x2="122.0" y2="347.90000000000003" stroke="#000" stroke-width="0.35"/>
<line x1="54.300000000000004" y1="278.4" x2="55.6" y2="278.4" stroke="#000" stroke-width="0.35"/>
<line x1="123.2" y1="346.6" x2="123.2" y2="347.90000000000003" stroke="#000" stroke-width="0.35"/>
<line x1="54.300000000000004" y1="277.2" x2="55.6" y2="277.2" stroke="#000" stroke-width="0.35"/>
<line x1="101.3" y1="346.6" x2="101.3" y2="348.90000000000003" stroke="#000" stroke-width="0.6"/>
<line x1="53.300000000000004" y1="299.6" x2="55.6" y2="299.6" stroke="#000" stroke-width="0.6"/>
<text x="123.4" y="356.9" class="sr" font-size="5.2" text-anchor="middle" fill="#222">10<tspan dy="-2.2" font-size="3.6">3</tspan></text>
<text x="52.4" y="278.3" class="sr" font-size="5.2" text-anchor="end" fill="#222">10<tspan dy="-2.2" font-size="3.6">3</tspan></text>
<line x1="131.1" y1="346.6" x2="131.1" y2="347.90000000000003" stroke="#000" stroke-width="0.35"/>
<line x1="54.300000000000004" y1="269.0" x2="55.6" y2="269.0" stroke="#000" stroke-width="0.35"/>
<line x1="135.1" y1="346.6" x2="135.1" y2="347.90000000000003" stroke="#000" stroke-width="0.35"/>
<line x1="54.300000000000004" y1="264.9" x2="55.6" y2="264.9" stroke="#000" stroke-width="0.35"/>
<line x1="138.0" y1="346.6" x2="138.0" y2="347.90000000000003" stroke="#000" stroke-width="0.35"/>
<line x1="54.300000000000004" y1="262.0" x2="55.6" y2="262.0" stroke="#000" stroke-width="0.35"/>
<line x1="140.2" y1="346.6" x2="140.2" y2="347.90000000000003" stroke="#000" stroke-width="0.35"/>
<line x1="54.300000000000004" y1="259.7" x2="55.6" y2="259.7" stroke="#000" stroke-width="0.35"/>
<line x1="142.0" y1="346.6" x2="142.0" y2="347.90000000000003" stroke="#000" stroke-width="0.35"/>
<line x1="54.300000000000004" y1="257.8" x2="55.6" y2="257.8" stroke="#000" stroke-width="0.35"/>
<line x1="143.6" y1="346.6" x2="143.6" y2="347.90000000000003" stroke="#000" stroke-width="0.35"/>
<line x1="54.300000000000004" y1="256.2" x2="55.6" y2="256.2" stroke="#000" stroke-width="0.35"/>
<line x1="144.9" y1="346.6" x2="144.9" y2="347.90000000000003" stroke="#000" stroke-width="0.35"/>
<line x1="54.300000000000004" y1="254.9" x2="55.6" y2="254.9" stroke="#000" stroke-width="0.35"/>
<line x1="146.1" y1="346.6" x2="146.1" y2="347.90000000000003" stroke="#000" stroke-width="0.35"/>
<line x1="54.300000000000004" y1="253.7" x2="55.6" y2="253.7" stroke="#000" stroke-width="0.35"/>
<line x1="124.2" y1="346.6" x2="124.2" y2="348.90000000000003" stroke="#000" stroke-width="0.6"/>
<line x1="53.300000000000004" y1="276.1" x2="55.6" y2="276.1" stroke="#000" stroke-width="0.6"/>
<text x="146.3" y="356.9" class="sr" font-size="5.2" text-anchor="middle" fill="#222">10<tspan dy="-2.2" font-size="3.6">4</tspan></text>
<text x="52.4" y="254.8" class="sr" font-size="5.2" text-anchor="end" fill="#222">10<tspan dy="-2.2" font-size="3.6">4</tspan></text>
<line x1="147.1" y1="346.6" x2="147.1" y2="348.90000000000003" stroke="#000" stroke-width="0.6"/>
<line x1="53.300000000000004" y1="252.6" x2="55.6" y2="252.6" stroke="#000" stroke-width="0.6"/>
<text x="57.2" y="264.2" class="sr" font-size="10" text-anchor="start">2.04</text>
<text x="148.7" y="264.2" class="sr" font-size="10" text-anchor="end">11.7</text>
<text x="58.6" y="347.3" class="sr" font-size="10" text-anchor="start">77.8</text>
<text x="148.7" y="347.3" class="sr" font-size="10" text-anchor="end">8.43</text>
<path d="M235.0 299.1h.01M238.0 304.3h.01M242.7 295.4h.01M239.2 289.1h.01M236.2 308.7h.01M241.9 288.0h.01M237.3 287.2h.01M241.7 297.6h.01M238.0 306.7h.01M237.3 285.3h.01M235.1 291.4h.01M232.5 301.5h.01M241.8 279.0h.01M240.0 287.3h.01M244.8 305.0h.01M231.8 287.1h.01M247.6 281.4h.01M238.5 292.2h.01M238.4 298.3h.01M238.2 295.1h.01M240.8 287.1h.01M242.0 286.7h.01M234.6 288.0h.01M228.1 302.8h.01M239.5 296.7h.01M245.4 295.2h.01M233.8 301.8h.01M239.8 287.2h.01M238.7 289.2h.01M235.6 300.8h.01M238.8 303.0h.01M239.0 296.3h.01M240.9 298.8h.01M236.3 300.0h.01M236.9 302.4h.01M237.3 304.4h.01M240.3 287.7h.01M238.2 295.5h.01M234.9 303.9h.01M237.4 301.2h.01M233.8 297.2h.01M238.2 297.1h.01M235.2 297.4h.01M235.6 299.6h.01M239.0 288.6h.01M241.1 295.7h.01M242.8 298.0h.01M237.6 285.8h.01M247.2 285.0h.01M236.9 298.0h.01M233.7 299.4h.01M236.7 300.9h.01M242.8 295.4h.01M244.7 282.4h.01M240.7 296.0h.01M236.3 309.8h.01M239.3 295.1h.01M239.7 297.5h.01M240.1 302.8h.01M230.0 298.6h.01M242.3 312.2h.01M243.1 292.1h.01M237.7 305.4h.01M234.5 292.8h.01M235.5 297.0h.01M237.7 281.0h.01M241.6 300.2h.01M236.5 303.8h.01M233.0 303.8h.01M242.4 290.0h.01M240.8 292.8h.01M236.7 295.1h.01M238.0 281.1h.01M245.0 285.3h.01M240.5 305.9h.01M237.8 278.1h.01M235.3 291.3h.01M242.8 292.7h.01M237.4 298.1h.01M241.2 291.3h.01M243.9 280.7h.01M238.2 276.3h.01M237.1 299.5h.01M237.4 301.1h.01M236.7 296.2h.01M241.6 302.0h.01M233.0 304.4h.01M237.1 292.1h.01M235.3 286.5h.01M236.3 297.5h.01M238.5 285.9h.01M239.4 293.0h.01M236.2 294.9h.01M239.8 295.2h.01M238.2 307.0h.01M236.3 287.9h.01M243.6 289.8h.01M230.1 289.0h.01M237.6 277.0h.01M236.7 288.7h.01M235.9 286.8h.01M242.6 297.6h.01M243.1 269.9h.01M237.4 303.4h.01M239.3 296.0h.01M232.6 306.7h.01M239.2 303.9h.01M242.3 287.3h.01M237.6 285.1h.01M234.8 292.7h.01M233.2 301.2h.01M240.6 295.7h.01M237.8 290.1h.01M244.0 279.9h.01M240.0 294.4h.01M232.8 287.3h.01M245.3 302.7h.01M241.5 291.5h.01M240.9 289.6h.01M237.5 294.9h.01M238.1 286.3h.01M237.3 298.9h.01M240.7 287.5h.01M239.9 290.7h.01M243.8 281.4h.01M239.0 294.9h.01M240.7 304.9h.01M236.3 300.9h.01M238.9 296.3h.01M247.5 280.5h.01M239.7 277.2h.01M238.2 296.5h.01M242.8 284.2h.01M241.7 282.6h.01M236.9 300.1h.01M235.5 296.0h.01M242.0 298.1h.01M236.2 305.4h.01M245.7 281.7h.01M239.1 301.9h.01M234.4 302.3h.01M238.4 302.9h.01M237.4 286.5h.01M238.3 293.5h.01M230.4 303.4h.01M237.7 299.5h.01M233.1 299.5h.01M234.4 301.6h.01M232.3 300.4h.01M241.6 296.9h.01M239.4 303.7h.01M240.4 288.4h.01M236.8 289.4h.01M235.0 296.9h.01M244.5 288.6h.01M234.0 290.1h.01M240.2 294.3h.01M231.4 313.6h.01M232.6 289.2h.01M239.3 299.1h.01M242.5 280.0h.01M235.1 293.8h.01M232.1 297.3h.01M245.0 297.8h.01M238.4 298.5h.01M237.9 293.9h.01M239.3 287.0h.01M240.2 285.1h.01M242.0 283.0h.01M235.7 293.7h.01M236.8 301.4h.01M245.5 285.4h.01M238.4 308.8h.01M237.4 289.6h.01M237.5 298.7h.01M243.7 291.3h.01M237.0 296.1h.01M237.4 287.7h.01M240.4 292.7h.01M236.9 297.1h.01M244.5 290.5h.01M240.7 303.0h.01M239.4 288.3h.01M243.0 287.6h.01M240.4 290.0h.01M242.2 276.2h.01M239.0 299.2h.01M240.5 292.9h.01M240.6 286.6h.01M238.8 296.8h.01M239.4 301.9h.01M239.3 299.5h.01M239.9 291.8h.01M237.4 303.4h.01M238.4 298.8h.01M237.7 289.9h.01M241.8 299.9h.01M241.7 281.5h.01M242.4 288.4h.01M237.9 282.4h.01M237.0 306.0h.01M238.6 291.9h.01M234.4 306.3h.01M245.6 286.6h.01M241.1 295.6h.01M232.6 300.7h.01M243.2 294.3h.01M231.6 301.6h.01M237.2 295.1h.01M234.4 300.0h.01M236.2 289.9h.01M238.8 287.6h.01M238.1 309.3h.01M231.0 297.2h.01M241.5 285.1h.01M238.0 307.0h.01M236.4 293.1h.01M243.4 291.9h.01M236.2 301.6h.01M242.0 284.6h.01M231.5 292.0h.01M234.8 307.7h.01M232.3 304.8h.01M246.9 268.4h.01M233.6 303.2h.01M238.8 290.8h.01M236.5 306.9h.01M236.7 300.4h.01M231.6 299.4h.01M232.8 311.4h.01M243.9 282.4h.01M243.6 288.4h.01M236.7 296.2h.01M233.2 293.8h.01M239.2 295.4h.01M231.3 301.4h.01M244.3 278.5h.01M241.5 293.7h.01M238.8 289.9h.01M239.0 286.2h.01M235.8 312.7h.01M229.2 309.0h.01M233.1 294.3h.01M242.3 290.5h.01M240.2 291.8h.01M238.9 296.9h.01M236.7 287.3h.01M237.2 295.4h.01M242.7 283.2h.01M236.8 293.8h.01M234.5 296.8h.01M239.4 293.1h.01M238.9 291.1h.01M228.8 308.7h.01M238.5 297.4h.01M234.7 299.2h.01M244.2 290.3h.01M235.8 299.8h.01M233.8 294.9h.01M234.6 291.3h.01M241.6 287.1h.01M242.1 291.2h.01M231.7 300.7h.01M240.6 302.8h.01M233.7 290.8h.01M239.9 283.3h.01M240.7 291.4h.01M239.8 286.8h.01M238.1 295.8h.01M239.4 295.3h.01M247.2 291.2h.01M232.6 308.5h.01M242.1 293.4h.01M238.8 295.2h.01M239.3 303.4h.01M238.6 297.9h.01M242.3 286.1h.01M233.5 305.3h.01M240.4 283.9h.01M241.1 292.6h.01M242.4 306.9h.01M236.2 302.9h.01M234.4 293.8h.01M239.3 291.3h.01M237.8 290.3h.01M241.2 295.5h.01M241.7 297.5h.01M244.8 297.2h.01M237.2 302.8h.01M238.4 284.9h.01M235.4 284.4h.01M243.5 286.6h.01M236.0 289.9h.01M227.5 309.5h.01M241.9 291.1h.01M247.6 290.3h.01M233.3 300.4h.01M240.4 280.3h.01M231.6 299.2h.01M243.0 294.5h.01M236.5 304.3h.01M241.1 285.7h.01M240.5 290.4h.01M242.0 291.6h.01M240.9 286.0h.01M243.1 286.1h.01M238.6 289.0h.01M232.4 312.0h.01M244.3 287.6h.01M234.3 302.0h.01M237.7 294.2h.01M235.4 289.9h.01M231.8 280.5h.01M234.2 286.3h.01M240.8 303.7h.01M233.6 298.1h.01M239.3 296.2h.01M238.3 293.0h.01M233.9 297.8h.01M246.8 290.8h.01M234.4 293.1h.01M243.3 282.2h.01M235.9 297.0h.01M239.0 295.0h.01M239.8 285.2h.01M240.3 292.4h.01M237.5 282.3h.01M233.6 284.4h.01M241.0 291.0h.01M235.4 283.9h.01M242.9 283.5h.01M246.2 299.5h.01M238.6 296.0h.01M235.5 296.2h.01M240.3 288.6h.01M237.7 304.0h.01M240.4 288.0h.01M246.3 280.1h.01M238.3 302.2h.01M248.6 289.4h.01M239.0 288.2h.01M240.2 283.0h.01M234.3 302.7h.01M238.9 302.3h.01M235.9 286.6h.01M239.4 293.9h.01M236.1 295.9h.01M238.1 301.9h.01M241.3 300.5h.01M243.2 292.1h.01M229.5 313.3h.01M239.4 299.3h.01M245.2 278.0h.01M246.3 280.4h.01M243.4 293.7h.01M243.2 292.7h.01M238.1 304.0h.01M238.5 291.2h.01M238.0 302.3h.01M241.7 284.5h.01M237.9 289.0h.01M242.0 297.7h.01M238.1 307.5h.01M234.3 294.9h.01M234.9 294.6h.01M239.6 307.6h.01M236.4 285.2h.01M238.3 293.3h.01M235.5 308.1h.01M232.1 279.5h.01M237.5 301.1h.01M238.7 307.6h.01M243.7 277.0h.01M235.3 294.6h.01M234.8 291.3h.01M235.0 298.2h.01M243.3 285.8h.01M237.0 306.2h.01M232.1 291.4h.01M240.2 292.0h.01M243.1 288.7h.01M235.4 297.6h.01M237.9 294.7h.01M247.9 281.1h.01M239.3 295.0h.01M235.6 303.7h.01M231.0 304.3h.01M232.4 312.9h.01M234.6 312.1h.01M243.6 280.4h.01M234.5 283.1h.01M240.8 309.9h.01M238.3 301.3h.01M231.5 302.4h.01M242.7 286.9h.01M232.6 304.2h.01M235.3 288.8h.01M237.9 301.6h.01M234.7 311.6h.01M235.0 290.9h.01M230.8 299.7h.01M237.8 288.8h.01M233.8 291.9h.01M244.3 272.3h.01M231.9 300.3h.01M237.4 294.1h.01M234.4 291.7h.01M247.4 275.0h.01M234.5 301.8h.01M241.1 290.6h.01M235.3 288.1h.01M240.3 285.0h.01M237.5 285.7h.01M236.4 303.9h.01M238.2 304.3h.01M243.1 284.5h.01M231.7 299.1h.01M241.5 293.7h.01M239.9 296.9h.01M238.0 295.1h.01M240.1 299.4h.01M233.8 296.0h.01M236.2 292.4h.01M236.3 305.5h.01M241.1 289.7h.01M241.1 294.0h.01M236.8 286.5h.01M231.6 287.9h.01M240.2 292.8h.01M238.6 289.6h.01M235.2 295.0h.01M234.5 311.0h.01M239.0 292.8h.01M240.8 287.9h.01M241.0 286.0h.01M234.1 289.3h.01M248.7 288.6h.01M233.3 293.9h.01M241.8 283.7h.01M244.2 298.6h.01M239.7 289.6h.01M243.1 296.1h.01M238.3 296.8h.01M237.6 295.9h.01M237.6 307.5h.01M238.1 293.9h.01M236.7 321.1h.01M235.5 301.5h.01M234.8 285.9h.01M241.8 292.2h.01M240.6 268.4h.01M234.4 294.4h.01M235.9 285.8h.01M242.6 291.1h.01M240.6 297.7h.01M232.0 293.9h.01M244.6 290.5h.01M236.2 309.0h.01M246.6 295.1h.01M234.4 299.2h.01M243.0 289.5h.01M238.1 294.2h.01M241.5 291.4h.01M238.8 294.2h.01M233.9 288.6h.01M235.5 306.2h.01M236.5 295.6h.01M241.4 301.8h.01M233.3 297.6h.01M239.7 300.7h.01M233.8 297.1h.01M237.6 306.4h.01M234.8 286.8h.01M234.1 290.5h.01M232.2 289.1h.01M244.5 293.0h.01M235.5 292.2h.01M233.4 294.8h.01M243.0 287.9h.01M239.5 294.2h.01M242.1 296.5h.01M244.4 288.7h.01M236.9 307.2h.01M236.5 294.1h.01M243.1 301.3h.01M237.7 299.6h.01M233.5 298.6h.01M235.2 290.8h.01M227.7 298.7h.01M230.8 315.2h.01M240.2 294.8h.01M238.7 300.7h.01M234.1 303.4h.01M238.0 300.5h.01M236.6 302.0h.01M239.1 301.6h.01M230.1 320.7h.01M238.1 293.6h.01M242.0 296.1h.01M233.8 309.1h.01M241.2 296.0h.01M242.1 291.3h.01M237.1 308.6h.01M235.6 291.0h.01M235.8 291.6h.01M231.8 292.9h.01M249.1 276.2h.01M239.5 302.0h.01M236.1 300.9h.01M238.9 308.1h.01M234.8 291.7h.01M238.8 288.4h.01M241.5 299.4h.01M232.9 295.8h.01M238.3 293.6h.01M235.0 289.9h.01M240.1 284.3h.01M236.8 290.6h.01M238.0 301.2h.01M237.9 306.4h.01M237.5 293.6h.01M240.9 299.3h.01M233.0 304.3h.01M230.1 306.5h.01M248.4 283.8h.01M235.2 301.9h.01M245.1 296.2h.01M237.8 295.2h.01M235.3 302.1h.01M231.6 306.4h.01M243.3 279.4h.01M237.1 290.2h.01M240.0 291.8h.01M237.7 286.0h.01M240.4 293.8h.01M237.3 288.4h.01M235.9 301.6h.01M237.1 298.8h.01M243.1 287.1h.01M237.9 298.4h.01M243.7 286.0h.01M246.3 280.2h.01M237.4 299.0h.01M237.1 294.0h.01M241.3 287.9h.01M244.3 299.5h.01M238.3 304.4h.01M234.2 302.3h.01M235.7 303.6h.01M232.3 291.6h.01M237.0 288.5h.01M233.9 314.9h.01M235.9 290.1h.01M236.0 293.4h.01M234.0 288.2h.01M239.9 285.2h.01M237.1 286.1h.01M238.5 297.5h.01M235.7 296.2h.01M234.7 306.1h.01M238.7 288.7h.01M237.1 289.3h.01M244.4 297.6h.01M239.2 300.3h.01M235.7 295.3h.01M228.9 298.5h.01M241.5 287.3h.01M240.7 278.9h.01M236.8 287.7h.01M243.8 285.5h.01M231.2 301.8h.01M237.1 307.0h.01M238.0 289.1h.01M237.2 296.5h.01M243.9 293.4h.01M234.5 297.4h.01M242.6 286.0h.01M238.5 297.5h.01M243.0 283.5h.01M231.4 298.2h.01M228.8 292.2h.01M240.6 296.6h.01M233.2 301.1h.01M231.4 296.6h.01M236.2 308.8h.01M238.1 285.9h.01M233.2 301.4h.01M245.3 286.4h.01M236.0 294.9h.01M241.2 298.7h.01M237.8 306.3h.01M232.0 311.0h.01M241.5 289.0h.01M241.1 282.9h.01M238.4 292.4h.01M239.8 289.5h.01M234.0 300.1h.01M237.6 294.6h.01M235.3 297.9h.01M239.3 291.9h.01M240.5 286.2h.01M240.4 285.3h.01M241.5 281.2h.01M240.6 296.4h.01M247.3 277.8h.01M243.1 284.5h.01M238.4 302.3h.01M239.9 295.2h.01M236.6 311.0h.01M244.2 297.1h.01M233.9 294.9h.01M240.4 297.9h.01M238.2 292.5h.01M238.8 289.9h.01M241.2 294.1h.01M231.9 284.6h.01M236.7 302.8h.01M241.1 287.4h.01M235.8 279.6h.01M229.0 293.6h.01M238.0 292.2h.01M239.4 294.8h.01M239.4 302.5h.01M236.6 282.4h.01M228.1 294.8h.01M229.5 308.5h.01M241.6 294.0h.01M235.9 307.1h.01M237.7 296.0h.01M235.7 307.8h.01M238.8 290.7h.01M242.6 286.5h.01M244.1 280.2h.01M227.2 292.5h.01M237.8 302.2h.01M239.9 285.8h.01M232.2 308.7h.01M240.9 295.8h.01M243.9 287.4h.01M236.0 305.8h.01M240.5 304.5h.01M233.1 308.4h.01M244.8 275.9h.01M237.3 297.8h.01M240.9 282.8h.01M235.0 281.4h.01M237.4 286.9h.01M229.0 303.2h.01M235.5 282.5h.01M237.4 304.2h.01M245.8 292.1h.01M238.2 303.3h.01M240.8 290.4h.01M237.1 298.2h.01M236.0 301.5h.01M232.7 290.7h.01M241.7 301.0h.01M233.6 295.6h.01M247.0 287.5h.01M237.0 297.2h.01M239.2 294.6h.01M242.4 283.3h.01M240.4 281.0h.01M237.3 299.1h.01M249.8 297.4h.01M232.1 316.8h.01M239.6 300.7h.01M242.3 305.5h.01M237.7 297.6h.01M234.0 290.2h.01M236.6 292.5h.01M236.1 295.1h.01M236.4 295.4h.01M237.8 299.5h.01M239.9 294.0h.01M234.4 305.3h.01M239.9 283.1h.01M233.1 302.0h.01M240.0 285.2h.01M241.0 300.2h.01M238.3 287.7h.01M239.1 295.0h.01M233.6 297.4h.01M237.9 294.3h.01M244.1 280.3h.01M235.1 295.5h.01M237.0 294.7h.01M244.6 281.8h.01M238.4 298.9h.01M237.6 292.3h.01M236.2 288.2h.01M238.3 302.7h.01M246.2 307.7h.01M237.1 296.1h.01M242.1 282.7h.01M243.9 277.8h.01M239.4 292.3h.01M242.2 290.8h.01M233.3 302.1h.01M240.8 287.5h.01M233.9 289.7h.01M239.4 303.9h.01M240.0 285.4h.01M240.3 294.6h.01M235.1 289.1h.01M239.1 293.5h.01M236.6 303.1h.01M230.9 303.5h.01M242.5 284.8h.01M235.5 285.8h.01M237.3 302.3h.01M242.0 280.8h.01M236.7 304.5h.01M237.9 312.0h.01M238.4 283.1h.01M239.3 298.5h.01M241.0 295.2h.01M243.1 292.3h.01M246.2 289.4h.01M238.9 300.3h.01M233.2 296.4h.01M239.6 300.0h.01M240.4 295.2h.01M236.0 296.8h.01M239.7 287.6h.01M243.0 287.1h.01M235.4 301.8h.01M239.6 301.5h.01M237.5 297.6h.01M237.8 293.3h.01M242.3 278.7h.01M241.6 283.8h.01M234.0 290.7h.01M243.3 299.3h.01M248.1 289.2h.01M228.9 290.2h.01M238.4 299.8h.01M236.0 288.7h.01M239.2 296.0h.01M242.7 296.8h.01M234.9 301.4h.01M235.3 292.0h.01M237.3 302.7h.01M236.4 310.2h.01M238.8 292.9h.01M240.6 293.8h.01M239.8 299.5h.01M238.3 293.1h.01M233.5 294.5h.01M238.8 293.4h.01M236.3 281.6h.01M238.2 299.8h.01M234.9 293.1h.01M237.4 300.7h.01M235.4 290.2h.01M238.5 286.4h.01M238.1 302.8h.01M241.6 288.8h.01M235.6 298.9h.01M234.4 291.8h.01M236.6 292.3h.01M239.2 295.2h.01M239.6 294.7h.01M233.6 301.5h.01M233.6 293.1h.01M240.7 296.1h.01M240.6 290.3h.01M242.0 297.4h.01M238.3 301.3h.01M235.5 286.9h.01M230.4 308.1h.01M240.1 286.9h.01M235.1 311.6h.01M231.5 297.9h.01M242.5 283.8h.01M235.3 287.2h.01M237.5 290.5h.01M237.5 283.6h.01M236.2 311.5h.01M237.0 294.0h.01M239.3 298.4h.01M237.3 303.2h.01M237.3 294.5h.01M239.1 281.6h.01M230.4 297.8h.01M239.9 301.0h.01M238.5 294.1h.01M234.3 292.7h.01M245.6 282.6h.01M241.2 283.8h.01M237.7 287.8h.01M235.1 295.9h.01M240.9 282.4h.01M237.1 297.4h.01M240.0 293.1h.01M238.7 288.0h.01M235.2 290.8h.01M239.7 294.8h.01M233.3 303.3h.01M238.0 287.7h.01M230.6 296.3h.01M238.9 301.6h.01M241.5 288.4h.01M239.9 299.7h.01M233.9 291.8h.01M243.6 286.6h.01M237.5 298.2h.01M231.6 293.4h.01M237.8 285.8h.01M235.4 289.4h.01M235.4 292.7h.01M243.5 294.3h.01M241.7 291.1h.01M234.6 296.2h.01M240.7 297.0h.01M237.2 299.3h.01M235.2 298.5h.01M241.4 294.8h.01M243.0 292.5h.01M235.5 289.1h.01M243.6 293.9h.01M240.5 300.4h.01M236.6 298.4h.01M240.9 300.6h.01M236.2 301.0h.01M238.6 302.6h.01M233.0 279.0h.01M239.0 304.2h.01M241.4 300.6h.01M230.9 289.2h.01M243.0 295.8h.01M234.0 294.8h.01M246.0 282.8h.01M240.7 300.3h.01M231.3 297.9h.01M242.1 289.7h.01M238.2 284.5h.01M235.0 289.5h.01M241.4 295.7h.01M238.7 293.1h.01M240.4 299.1h.01M237.3 294.5h.01M238.3 294.0h.01M239.2 294.7h.01M236.3 288.7h.01M235.7 298.8h.01M234.8 305.5h.01M239.9 293.0h.01M237.7 291.5h.01M237.5 290.1h.01M245.1 285.4h.01M237.2 283.5h.01M240.9 303.5h.01M243.3 288.0h.01M241.5 299.4h.01M234.9 301.9h.01M240.3 300.2h.01M235.5 290.1h.01M235.7 295.7h.01M234.8 309.5h.01M237.9 295.4h.01M232.7 292.5h.01M241.3 285.1h.01M236.2 304.2h.01M237.9 293.4h.01M237.5 299.0h.01M234.4 303.0h.01M237.9 298.0h.01M244.6 290.3h.01M239.9 295.9h.01M237.5 301.8h.01M236.3 306.5h.01M230.3 292.2h.01M234.2 295.0h.01M237.7 298.7h.01M241.0 295.6h.01M239.9 295.3h.01M241.9 284.1h.01M238.4 286.3h.01M240.1 281.5h.01M237.7 305.6h.01M239.0 291.9h.01M236.8 297.0h.01M237.2 304.0h.01M244.7 293.6h.01M234.1 309.2h.01M235.0 297.5h.01M243.8 284.9h.01M235.4 305.6h.01M233.9 298.8h.01M241.5 294.6h.01M244.3 275.1h.01M238.8 308.9h.01M242.3 291.1h.01M240.7 285.0h.01M234.4 297.4h.01M238.9 298.9h.01M240.8 292.7h.01M236.7 282.5h.01M238.8 282.2h.01M237.6 287.6h.01M235.3 295.9h.01M242.3 305.7h.01M240.2 294.3h.01M242.3 289.2h.01M237.9 303.5h.01M249.4 289.1h.01M237.0 300.5h.01M237.0 293.8h.01M233.1 291.6h.01M237.2 291.0h.01M230.2 305.4h.01M237.1 298.1h.01M235.6 294.5h.01M239.7 299.7h.01M230.7 296.1h.01M237.0 287.9h.01M241.5 292.0h.01M232.8 301.9h.01M235.4 288.2h.01M231.7 293.9h.01M232.3 303.7h.01M232.8 304.2h.01M236.5 293.3h.01M235.9 291.6h.01M244.8 287.0h.01M233.8 299.6h.01M237.8 297.2h.01M242.6 282.2h.01M245.8 283.6h.01M228.1 304.6h.01M240.7 297.6h.01M235.9 290.0h.01M238.7 301.7h.01M236.0 318.0h.01M238.2 302.9h.01M238.0 302.8h.01M234.7 301.2h.01M248.7 292.8h.01M233.7 302.3h.01M242.2 285.0h.01M240.8 294.1h.01M238.7 299.3h.01M237.5 300.6h.01M232.7 306.4h.01M245.5 284.7h.01M235.3 297.7h.01M236.5 287.4h.01M238.1 298.9h.01M240.8 289.7h.01M235.6 302.1h.01M238.7 305.3h.01M234.7 290.5h.01M241.4 283.5h.01M236.5 300.1h.01M237.1 298.6h.01M243.0 291.4h.01M243.3 294.5h.01M239.6 281.6h.01M235.3 301.5h.01M235.9 307.7h.01M237.0 299.9h.01M246.5 289.9h.01M230.1 295.2h.01M241.8 291.2h.01M239.3 288.3h.01M236.0 296.0h.01M238.7 282.2h.01M243.5 288.2h.01M233.1 292.9h.01M238.0 286.3h.01M238.4 292.9h.01M240.6 297.1h.01M235.7 280.6h.01M234.9 290.8h.01M240.7 286.2h.01M243.3 298.9h.01M241.8 305.4h.01M238.4 291.8h.01M242.1 283.1h.01M234.6 299.5h.01M237.6 299.8h.01M235.1 301.9h.01M242.5 280.8h.01M241.0 279.9h.01M238.5 301.6h.01M235.7 295.2h.01M242.0 282.2h.01M234.8 290.8h.01M236.1 292.0h.01M241.6 280.7h.01M236.2 294.5h.01M239.8 295.8h.01M238.5 289.8h.01M231.9 304.6h.01M246.9 283.1h.01M236.0 309.2h.01M234.5 294.1h.01M240.7 288.8h.01M240.4 296.5h.01M244.2 296.6h.01M240.1 294.4h.01M231.7 294.0h.01M237.1 290.3h.01M243.0 288.7h.01M235.6 298.2h.01M237.9 284.4h.01M241.4 280.2h.01M241.0 297.0h.01M241.7 284.3h.01M237.7 291.5h.01M236.9 304.3h.01M237.8 289.3h.01M236.8 311.3h.01M235.1 289.5h.01M239.0 285.7h.01M235.3 299.9h.01M234.4 303.3h.01M240.1 291.5h.01M236.3 293.9h.01M233.2 301.7h.01M232.5 310.1h.01M233.0 306.8h.01M244.1 279.1h.01M242.9 294.0h.01M240.5 300.1h.01M236.1 294.5h.01M232.1 298.5h.01M240.5 306.7h.01M228.9 304.9h.01M237.7 293.7h.01M233.9 294.3h.01M238.6 299.1h.01M244.3 286.7h.01M240.9 278.7h.01M236.3 297.6h.01M231.6 302.0h.01M239.8 275.2h.01M240.3 290.9h.01M233.4 304.8h.01M231.1 310.5h.01M238.6 291.8h.01M234.7 299.1h.01M235.1 292.8h.01M240.6 296.0h.01M236.4 304.6h.01M236.4 280.5h.01M238.1 288.3h.01M240.3 281.9h.01M236.9 301.9h.01M242.1 284.2h.01M235.6 288.9h.01M238.1 294.7h.01M245.1 284.1h.01M239.3 295.5h.01M238.9 286.2h.01M239.9 298.1h.01M239.8 293.6h.01M239.3 294.6h.01M229.9 313.4h.01M236.7 311.3h.01M232.4 285.3h.01M240.8 295.2h.01M239.4 309.0h.01M239.1 286.5h.01M238.9 302.9h.01M241.8 294.7h.01M236.0 294.9h.01M237.0 281.0h.01M237.6 279.6h.01M239.8 301.5h.01M238.1 294.0h.01M243.6 280.2h.01M247.8 290.0h.01M236.5 279.3h.01M234.7 295.0h.01M244.2 295.8h.01M236.8 300.8h.01M240.1 289.6h.01M238.0 289.8h.01M235.1 299.8h.01M239.9 278.4h.01M238.0 294.0h.01M243.1 289.2h.01M243.1 288.0h.01M242.5 289.0h.01M234.6 303.6h.01M239.8 279.4h.01M245.2 290.0h.01M247.6 293.4h.01M234.9 290.7h.01M232.3 293.2h.01M239.6 288.5h.01M233.6 295.9h.01M241.7 291.4h.01M242.1 290.5h.01M239.4 295.4h.01M233.0 300.2h.01M240.0 298.0h.01M230.7 312.3h.01M243.1 291.3h.01M235.2 288.2h.01M237.5 305.7h.01M236.5 302.2h.01M237.4 301.5h.01M238.4 290.8h.01M236.0 297.8h.01M237.5 289.0h.01M235.4 291.5h.01M242.9 291.3h.01M234.5 299.9h.01M231.4 304.5h.01M233.6 299.8h.01M236.7 291.9h.01M238.6 290.9h.01M238.0 292.5h.01M233.8 293.6h.01M243.1 281.8h.01M233.0 296.1h.01M231.9 294.7h.01M237.4 298.3h.01M235.3 298.7h.01M238.1 301.2h.01M238.4 292.3h.01M240.2 292.8h.01M238.1 277.8h.01M242.0 288.4h.01M232.8 294.8h.01M240.3 311.3h.01M237.5 292.2h.01M238.3 293.5h.01M237.6 285.0h.01M239.6 295.0h.01M237.3 280.2h.01M234.8 301.1h.01M239.4 292.1h.01M239.3 283.5h.01M242.5 287.3h.01M238.3 294.6h.01M237.3 287.9h.01M233.3 306.2h.01M236.4 302.8h.01M235.3 288.4h.01M229.5 298.2h.01M233.1 300.7h.01M236.0 303.4h.01M232.5 299.1h.01M226.8 320.0h.01M236.7 287.8h.01M245.2 289.8h.01M235.1 299.2h.01M239.9 286.0h.01M234.5 294.3h.01M238.0 286.2h.01M236.6 297.2h.01M234.9 306.8h.01M239.2 288.2h.01M242.5 288.4h.01M236.4 302.5h.01M233.7 303.6h.01M239.4 292.5h.01M229.4 303.2h.01M237.0 302.8h.01M238.1 290.6h.01M234.2 307.7h.01M236.9 293.6h.01M237.2 284.2h.01M238.7 301.0h.01M241.1 296.2h.01M240.8 291.1h.01M242.9 297.0h.01M240.9 288.7h.01M234.7 292.5h.01M246.9 283.7h.01M235.2 298.1h.01M243.2 287.8h.01M243.9 293.7h.01M243.2 300.9h.01M237.5 297.0h.01M236.3 287.3h.01M235.8 293.9h.01M245.3 281.8h.01M236.6 301.0h.01M230.4 298.7h.01M241.6 283.2h.01M239.1 278.0h.01M241.1 308.1h.01M234.8 291.7h.01M236.6 289.7h.01M248.0 290.6h.01M246.7 287.0h.01M232.5 298.9h.01M241.7 295.2h.01M244.3 294.9h.01M237.4 288.4h.01M237.4 299.0h.01M238.1 289.7h.01M244.9 278.4h.01M245.4 287.8h.01M231.8 300.5h.01M236.6 302.9h.01M236.2 296.6h.01M238.4 287.5h.01M234.6 289.3h.01M238.4 288.9h.01M243.0 298.7h.01M244.4 293.7h.01M239.7 285.1h.01M241.7 302.2h.01M238.8 285.6h.01M237.7 295.3h.01M238.5 282.3h.01M236.1 303.0h.01M233.9 302.0h.01M237.3 292.6h.01M237.9 306.9h.01M232.1 295.1h.01M241.0 301.4h.01M241.8 308.3h.01M247.2 281.7h.01M231.8 296.6h.01M238.1 297.6h.01M236.8 297.2h.01M237.8 301.1h.01M236.0 292.3h.01M240.2 301.9h.01M236.3 284.8h.01M241.0 279.9h.01M232.9 306.6h.01M229.8 316.0h.01M236.7 303.1h.01M234.0 303.2h.01M237.5 289.0h.01M240.4 304.8h.01M244.0 291.3h.01M234.3 298.1h.01M236.6 305.7h.01M244.2 292.8h.01M235.9 292.6h.01M244.7 284.8h.01M234.7 294.4h.01M242.5 287.5h.01M240.7 295.4h.01M237.9 306.6h.01M235.4 305.0h.01M238.2 283.5h.01M229.4 311.8h.01M234.6 298.3h.01M242.7 295.6h.01M235.1 288.4h.01M239.6 289.1h.01M241.4 296.6h.01M239.1 298.2h.01M235.4 295.9h.01M239.9 301.8h.01M235.2 292.7h.01M238.8 288.9h.01M237.0 301.2h.01M241.2 287.1h.01M227.1 298.3h.01M235.2 292.2h.01M244.3 290.6h.01M234.4 295.9h.01M238.5 289.9h.01M232.7 297.6h.01M241.7 286.0h.01M240.6 283.4h.01M235.0 288.5h.01M239.0 300.6h.01M237.0 293.4h.01M239.5 283.4h.01M238.9 297.2h.01M246.7 288.7h.01M235.0 290.6h.01M236.6 301.4h.01M234.0 289.6h.01M234.1 297.4h.01M236.4 297.3h.01M235.0 296.1h.01M240.6 284.5h.01M236.8 303.9h.01M232.4 299.6h.01M228.5 293.7h.01M238.3 293.3h.01M232.8 303.9h.01M235.3 292.1h.01M236.6 291.3h.01M240.2 306.2h.01M237.3 286.0h.01M236.2 295.2h.01M237.7 303.5h.01M246.7 287.3h.01M240.7 295.1h.01M243.7 280.9h.01M242.8 283.1h.01M240.9 281.7h.01M239.8 291.8h.01M241.4 297.7h.01M228.3 297.6h.01M238.8 298.7h.01" stroke="#000" stroke-width="0.7" stroke-linecap="square" fill="none" opacity="0.7"/>
<path d="M236.4 307.5h.01M232.4 296.7h.01M239.0 286.0h.01M237.6 289.0h.01M242.9 301.3h.01M226.6 309.5h.01M236.5 302.7h.01M253.4 295.7h.01M241.5 302.7h.01M243.0 307.6h.01M244.8 290.4h.01M235.4 310.7h.01M249.7 296.4h.01M248.1 317.8h.01M229.9 279.7h.01M250.5 289.3h.01M245.1 285.4h.01M235.7 295.6h.01M230.3 315.0h.01M239.1 287.2h.01M239.3 309.0h.01M244.0 291.8h.01M243.4 296.4h.01M236.4 284.9h.01M247.6 304.4h.01M230.6 288.8h.01M240.7 293.9h.01M231.5 287.9h.01M239.5 292.7h.01M240.9 300.3h.01M240.9 292.9h.01M243.2 289.0h.01M229.4 308.3h.01M236.4 283.7h.01M233.7 285.4h.01M245.6 282.1h.01M253.7 287.9h.01M240.4 280.9h.01M241.0 283.2h.01M237.3 280.3h.01M240.6 316.0h.01M245.7 294.1h.01M232.1 302.2h.01M236.3 283.9h.01M240.5 295.4h.01M238.1 305.9h.01M233.8 303.3h.01M236.6 309.6h.01M235.4 285.9h.01M241.3 294.2h.01M240.6 297.2h.01M230.0 290.1h.01M253.7 282.1h.01M242.9 265.7h.01M229.9 294.2h.01M235.8 300.1h.01M226.8 302.5h.01M240.9 312.3h.01M236.7 302.0h.01M231.3 292.2h.01M249.5 285.2h.01M245.3 283.6h.01M237.8 289.5h.01M247.3 295.8h.01M237.2 311.7h.01M225.4 311.5h.01M244.4 288.5h.01M240.0 280.1h.01M226.0 286.6h.01M238.8 286.8h.01M247.7 299.9h.01M232.2 294.3h.01M237.8 302.5h.01M237.3 304.3h.01M239.1 299.6h.01M249.9 301.4h.01M242.2 292.8h.01M249.1 300.9h.01M235.0 278.1h.01M233.7 302.3h.01M235.5 308.1h.01M246.6 274.5h.01M237.2 304.7h.01M228.9 293.2h.01M234.5 291.5h.01M221.6 309.0h.01M242.5 288.9h.01M218.5 302.6h.01M239.1 295.5h.01M235.8 301.9h.01M239.2 289.6h.01M216.4 307.1h.01M244.6 294.9h.01M246.6 301.8h.01M251.4 278.2h.01M235.4 266.5h.01M248.1 273.0h.01M230.0 301.2h.01M241.5 282.4h.01M238.7 310.0h.01M246.6 293.3h.01M241.2 297.8h.01M237.4 311.5h.01M242.8 300.4h.01M226.0 297.5h.01M238.0 285.2h.01M243.9 306.4h.01M237.0 296.4h.01M238.8 307.2h.01M238.7 284.6h.01M246.7 275.1h.01M243.4 321.2h.01M236.3 302.8h.01M218.2 288.9h.01M244.5 292.6h.01M240.7 289.1h.01M236.7 281.3h.01M250.8 280.2h.01M234.4 294.9h.01M244.9 284.3h.01M233.5 287.6h.01M243.2 286.7h.01M235.3 297.6h.01M225.0 302.9h.01M235.2 300.7h.01M236.3 300.3h.01M238.8 294.4h.01M234.0 299.4h.01M237.6 290.6h.01M241.2 298.2h.01M232.5 317.0h.01M229.6 295.7h.01M231.9 281.2h.01M237.1 300.6h.01M237.1 302.4h.01M233.9 297.3h.01M228.2 299.4h.01M237.6 306.2h.01M245.3 288.1h.01M245.7 299.4h.01M229.6 313.4h.01M227.4 322.4h.01M249.0 295.5h.01M239.5 301.0h.01M237.2 278.8h.01M226.2 312.9h.01M239.1 305.4h.01M243.0 279.0h.01M244.3 284.3h.01M237.1 285.2h.01M232.7 311.9h.01M236.4 299.5h.01M246.6 302.4h.01M246.1 300.4h.01M229.5 319.1h.01M238.0 312.0h.01M239.7 294.5h.01M235.5 318.6h.01M234.6 292.7h.01M225.9 294.5h.01M238.3 301.8h.01M239.6 287.9h.01M238.1 304.5h.01M243.6 300.6h.01M240.7 283.7h.01M247.2 273.5h.01M245.3 290.6h.01M236.8 294.5h.01M241.8 260.8h.01M242.7 302.7h.01M248.7 308.1h.01M245.1 306.5h.01M230.7 305.3h.01M236.2 311.8h.01M242.5 294.9h.01M247.4 302.4h.01M225.7 294.6h.01M236.7 285.8h.01M222.1 318.0h.01M238.8 273.8h.01M229.7 321.4h.01M235.1 281.7h.01M249.1 305.3h.01M234.0 318.5h.01M232.4 309.5h.01M241.1 281.7h.01M254.6 291.4h.01M243.8 290.5h.01M239.1 273.9h.01M243.0 276.0h.01M240.3 285.2h.01M241.7 295.1h.01M233.4 302.8h.01M238.3 300.1h.01M235.9 304.9h.01M244.1 295.5h.01M237.4 298.7h.01M247.2 297.2h.01M247.9 300.4h.01M248.7 283.6h.01M234.8 292.5h.01M246.0 302.4h.01M236.7 293.2h.01M236.8 299.8h.01M238.3 292.3h.01M243.5 276.7h.01M236.0 264.3h.01M236.0 277.3h.01M237.3 312.4h.01M235.2 301.2h.01M245.6 314.5h.01M233.9 299.6h.01M242.7 289.1h.01M244.1 294.6h.01M236.6 283.3h.01M250.0 285.5h.01M239.3 304.8h.01M252.7 284.0h.01M242.5 311.5h.01M242.4 266.7h.01M237.1 298.7h.01M248.8 292.5h.01M244.0 271.3h.01M230.2 309.2h.01M242.9 292.1h.01M238.5 297.6h.01M239.1 291.4h.01M235.0 300.6h.01M239.8 307.1h.01M241.3 318.7h.01M242.6 294.9h.01M230.2 285.0h.01M230.2 277.0h.01M233.2 284.9h.01M237.8 278.1h.01M236.7 285.2h.01M236.0 317.8h.01M240.9 289.2h.01M241.0 275.8h.01M233.2 314.4h.01M240.0 302.7h.01M237.5 296.2h.01M232.6 286.6h.01M237.4 276.3h.01M239.9 283.2h.01M236.2 304.2h.01M234.6 307.5h.01M241.3 292.7h.01M230.8 316.8h.01M232.4 319.2h.01M232.2 315.9h.01M243.1 306.3h.01M234.2 299.3h.01M238.5 291.0h.01M243.4 286.0h.01M235.9 283.2h.01M240.8 302.4h.01M248.4 303.8h.01M241.5 280.2h.01M239.0 291.6h.01M239.1 288.0h.01M239.8 295.0h.01M243.0 314.5h.01M240.0 298.3h.01M251.6 285.7h.01M233.7 290.9h.01M235.6 310.4h.01M236.3 291.2h.01M246.3 280.0h.01M239.8 296.9h.01M239.6 281.7h.01M237.4 283.4h.01M232.8 298.8h.01M243.5 285.3h.01M239.6 300.9h.01M226.0 307.0h.01M232.5 303.3h.01M249.0 298.9h.01M244.0 293.1h.01M230.7 298.5h.01M243.3 306.4h.01M230.4 304.2h.01M243.2 300.0h.01M241.1 289.3h.01M238.3 290.8h.01M246.8 293.6h.01M240.4 306.6h.01M233.3 299.5h.01M243.7 300.5h.01M228.8 290.4h.01M254.3 316.2h.01M231.0 298.2h.01M241.5 304.7h.01M240.5 282.5h.01M236.4 288.7h.01M239.1 305.8h.01M234.1 304.8h.01M247.2 278.4h.01M239.9 312.4h.01M234.9 302.0h.01M225.2 302.8h.01M240.2 309.6h.01M235.3 302.4h.01M250.7 282.1h.01M243.4 292.2h.01M229.6 290.1h.01M233.7 319.6h.01M243.1 297.2h.01M238.2 290.2h.01M236.7 292.1h.01M246.9 295.0h.01M235.8 296.9h.01M242.6 298.1h.01M238.8 303.2h.01M237.7 290.1h.01M232.7 300.7h.01M228.4 308.7h.01M238.7 289.7h.01M231.3 300.6h.01M232.0 295.6h.01M240.0 290.0h.01M236.8 312.4h.01M234.5 312.7h.01M233.7 298.9h.01M245.5 299.3h.01M233.0 296.3h.01M224.4 280.9h.01M227.9 289.9h.01M244.8 281.8h.01M237.5 288.1h.01M235.9 286.4h.01M233.9 307.2h.01M240.8 299.6h.01M242.7 303.1h.01M240.0 305.8h.01M237.5 272.4h.01M231.0 313.2h.01M227.5 303.9h.01M249.1 295.3h.01M244.4 294.7h.01M234.0 275.8h.01M245.4 312.5h.01M231.7 294.7h.01M242.6 296.1h.01M240.3 288.8h.01M235.9 286.0h.01M232.5 290.5h.01M244.3 290.5h.01M235.9 297.3h.01M223.4 300.7h.01M228.7 323.1h.01M243.3 303.4h.01M240.6 294.2h.01M226.5 311.9h.01M236.4 291.6h.01M238.7 309.6h.01M234.7 296.6h.01M229.7 305.1h.01M234.6 321.3h.01M249.7 280.3h.01M235.1 287.0h.01M231.3 282.5h.01M235.7 295.6h.01M234.4 296.9h.01M240.4 294.4h.01M232.7 290.4h.01M241.9 294.0h.01M245.2 300.4h.01M246.7 293.3h.01M248.3 295.6h.01M236.5 294.4h.01M245.5 276.2h.01M235.2 305.5h.01M243.3 279.5h.01M242.9 297.1h.01M246.7 291.8h.01M239.3 288.4h.01M234.4 322.9h.01M239.7 287.2h.01M241.1 288.4h.01M239.3 283.8h.01M239.0 279.0h.01M238.5 286.9h.01M234.6 294.4h.01M241.0 292.9h.01M248.5 290.1h.01M245.7 288.2h.01M245.5 302.1h.01M235.8 286.5h.01M232.8 294.3h.01M242.0 291.8h.01M241.1 288.4h.01M236.6 292.1h.01M234.8 302.7h.01M227.7 302.5h.01M226.9 301.4h.01M239.6 307.2h.01M238.7 292.4h.01M235.9 307.2h.01M237.5 291.7h.01M244.4 271.3h.01M225.1 298.9h.01M241.1 301.5h.01M240.3 271.6h.01M239.0 280.4h.01M245.3 297.2h.01M222.8 291.0h.01M248.4 310.1h.01M236.9 304.3h.01M239.6 294.5h.01M245.8 298.5h.01M251.0 308.2h.01M239.6 265.5h.01M237.6 289.3h.01M235.1 260.9h.01M244.1 296.7h.01M225.5 300.1h.01M243.1 316.0h.01M235.0 291.4h.01M222.3 306.2h.01M227.7 316.2h.01M240.9 281.9h.01M245.9 299.2h.01M241.6 313.8h.01M228.4 294.9h.01M235.6 308.6h.01M225.8 304.9h.01M253.0 310.6h.01M231.3 287.0h.01M225.5 309.4h.01M238.7 283.1h.01M237.7 275.9h.01M238.0 297.2h.01M241.1 290.5h.01M228.2 311.6h.01M236.6 292.9h.01M230.1 308.1h.01M233.3 294.7h.01M235.3 290.7h.01M240.8 304.8h.01M236.2 310.7h.01M238.9 286.5h.01M231.6 319.0h.01M241.6 297.4h.01M238.0 290.9h.01M240.7 284.3h.01M235.2 322.0h.01M235.0 301.0h.01M235.5 292.9h.01M236.5 282.3h.01M234.0 298.2h.01M235.8 273.5h.01M231.8 310.3h.01M235.7 288.7h.01M238.3 297.8h.01M228.4 324.1h.01M236.8 299.3h.01M250.0 285.7h.01M241.0 283.6h.01M232.2 312.7h.01M235.7 280.6h.01M244.8 299.0h.01M229.9 289.8h.01M245.5 304.4h.01M248.9 299.0h.01M243.2 295.6h.01M236.0 303.9h.01M242.8 286.6h.01M243.6 296.3h.01M232.5 274.9h.01M249.7 292.1h.01M230.5 283.1h.01M239.1 294.8h.01M243.9 289.0h.01M238.9 273.3h.01M225.5 295.2h.01M231.6 298.5h.01M237.1 293.5h.01M222.0 296.5h.01M253.8 292.5h.01M244.3 285.8h.01M240.2 300.5h.01M242.5 290.7h.01M247.9 281.6h.01M233.4 331.0h.01M248.4 285.2h.01M239.4 302.1h.01M255.1 272.2h.01M238.9 299.7h.01M242.1 278.7h.01M241.7 283.5h.01M240.0 291.0h.01M229.7 298.9h.01M238.5 296.5h.01M236.6 293.3h.01M234.3 300.1h.01M229.4 274.6h.01M232.2 312.5h.01M234.6 302.4h.01M230.9 327.0h.01M249.3 278.8h.01M235.6 291.0h.01M230.7 317.9h.01M240.5 288.3h.01M233.6 298.3h.01M217.4 308.1h.01M245.4 290.3h.01M239.4 288.8h.01M224.1 317.6h.01M229.6 297.6h.01M233.9 319.2h.01M244.2 294.9h.01M244.9 269.9h.01M227.0 316.0h.01M245.5 276.3h.01M240.9 290.5h.01M242.9 286.1h.01M229.5 292.0h.01M244.9 297.0h.01M232.0 304.6h.01M234.2 292.0h.01M243.5 292.9h.01M236.1 316.8h.01M235.3 308.6h.01M234.4 294.0h.01M239.3 256.1h.01M232.2 305.0h.01M230.4 302.8h.01M236.3 285.7h.01M224.9 292.6h.01M242.6 299.5h.01M233.5 296.1h.01M241.8 295.9h.01M237.1 296.3h.01M230.8 296.7h.01M242.1 293.3h.01M230.4 299.9h.01M237.4 292.8h.01M235.3 288.1h.01M245.6 282.9h.01M239.8 281.5h.01M237.9 297.9h.01M228.4 300.7h.01M246.5 302.3h.01M243.5 307.3h.01M240.2 274.5h.01M238.5 308.7h.01M240.1 296.5h.01M243.6 298.9h.01M226.4 307.3h.01M242.2 282.4h.01M240.1 294.7h.01M242.8 295.7h.01M235.1 295.0h.01M245.6 297.6h.01M241.6 301.3h.01M233.2 296.6h.01M229.1 310.0h.01M230.1 306.7h.01M232.0 273.3h.01M242.3 293.0h.01M229.1 326.9h.01M241.2 301.3h.01M245.3 296.6h.01M229.3 307.5h.01M227.8 316.9h.01M243.0 299.3h.01M242.9 299.7h.01M236.6 302.8h.01M234.4 305.1h.01M248.3 291.3h.01M224.9 284.1h.01M246.7 279.2h.01M237.4 298.0h.01M234.9 296.2h.01M241.3 294.3h.01M232.5 309.4h.01M249.5 271.5h.01M229.7 307.3h.01M237.9 289.6h.01M237.4 293.7h.01M240.6 282.1h.01M229.2 288.5h.01M241.1 288.5h.01M227.8 303.7h.01M236.4 289.8h.01M242.8 286.0h.01M229.3 286.7h.01M238.6 285.5h.01M238.1 303.6h.01M243.3 298.3h.01M236.6 284.5h.01M241.2 275.2h.01M246.3 303.4h.01M227.6 288.7h.01M242.2 296.6h.01M236.1 303.0h.01M250.4 291.4h.01M228.7 290.9h.01M237.5 292.3h.01M235.5 297.7h.01M225.3 296.7h.01M233.4 302.5h.01M240.3 280.9h.01M223.4 305.0h.01M241.8 282.9h.01M231.9 295.6h.01M240.8 284.4h.01M233.9 300.1h.01M234.6 285.3h.01M245.5 296.9h.01M237.2 294.0h.01M231.9 300.3h.01M244.0 284.4h.01M233.4 305.3h.01M237.3 312.2h.01M240.2 293.5h.01M229.0 303.1h.01M233.6 301.1h.01M232.1 284.2h.01M231.5 291.0h.01M239.5 279.6h.01M237.7 296.1h.01M238.5 316.0h.01M254.5 289.7h.01M235.9 309.1h.01M237.1 279.0h.01M232.9 293.8h.01M245.1 282.1h.01M235.3 316.1h.01M240.9 288.3h.01M235.8 301.6h.01M250.1 306.7h.01M234.6 304.2h.01M227.4 308.8h.01M232.6 285.3h.01M226.1 316.8h.01M239.9 311.6h.01M224.4 309.6h.01M229.8 310.6h.01M237.0 291.6h.01M233.6 301.1h.01M243.0 295.0h.01M243.1 299.6h.01M241.4 280.5h.01M228.6 268.7h.01M235.9 300.6h.01M237.0 291.5h.01M229.8 299.7h.01M234.1 282.7h.01M226.3 295.0h.01M235.9 304.9h.01M239.0 297.9h.01M238.4 293.1h.01M246.3 295.9h.01M249.5 318.8h.01M250.6 276.4h.01M248.8 288.2h.01M240.0 305.7h.01M247.2 303.5h.01M232.6 298.6h.01M239.7 291.4h.01M230.1 303.6h.01M241.4 281.5h.01M243.3 288.7h.01M236.3 302.5h.01M234.6 298.7h.01M241.7 299.3h.01M252.2 299.2h.01M243.7 295.1h.01M237.1 300.4h.01M248.6 293.6h.01M241.8 292.6h.01M243.2 286.9h.01M249.4 297.8h.01M232.4 280.7h.01M246.8 290.6h.01M236.1 294.1h.01M247.0 299.4h.01M248.0 291.3h.01M235.6 301.3h.01M223.7 299.8h.01M229.1 306.4h.01M231.9 296.5h.01M243.0 292.9h.01M239.4 290.8h.01M249.1 284.0h.01M248.8 290.9h.01M240.5 301.5h.01M242.1 302.8h.01M241.3 300.9h.01M235.7 284.1h.01M239.1 286.9h.01M236.4 316.5h.01M248.1 292.5h.01M233.6 288.1h.01M230.3 307.7h.01M245.9 299.2h.01M245.8 295.1h.01M236.6 295.8h.01M234.7 286.2h.01M245.6 291.2h.01M242.2 287.9h.01M249.6 306.7h.01M245.1 282.5h.01M235.9 296.8h.01M235.7 283.9h.01M230.3 293.4h.01M246.9 285.2h.01M234.8 302.4h.01M223.6 314.2h.01M245.6 302.0h.01M226.9 304.2h.01M227.9 296.2h.01M232.1 288.8h.01M237.3 311.2h.01M232.8 305.4h.01M232.3 285.7h.01M231.2 295.5h.01M234.1 291.6h.01M228.3 317.4h.01M241.6 278.9h.01M228.6 304.0h.01M234.6 307.5h.01M244.7 291.9h.01M228.6 303.0h.01M247.2 298.6h.01M234.6 306.4h.01M239.2 301.1h.01M244.2 301.4h.01M228.1 296.1h.01M216.4 317.0h.01M240.0 292.2h.01M234.1 302.5h.01M241.7 254.5h.01M232.6 300.5h.01M235.0 291.5h.01M238.2 289.9h.01M249.3 292.9h.01M236.1 292.8h.01M252.4 292.2h.01M249.6 277.3h.01M219.3 316.0h.01M231.4 295.0h.01M247.2 290.5h.01M239.2 272.2h.01M240.5 271.7h.01M232.0 281.5h.01M234.6 323.3h.01M232.4 303.7h.01M237.8 287.9h.01M242.8 287.8h.01M233.0 279.5h.01M246.3 291.2h.01M234.2 298.3h.01M236.6 303.9h.01M238.0 302.9h.01M242.5 300.4h.01M241.4 290.7h.01M239.2 289.6h.01M231.1 272.1h.01M233.4 290.4h.01M238.3 300.3h.01M250.0 277.9h.01M236.2 290.8h.01M242.8 276.6h.01M245.1 294.0h.01M236.4 309.0h.01M239.9 285.7h.01M235.4 290.1h.01M239.0 300.2h.01M229.8 288.3h.01M255.5 281.0h.01M230.7 310.6h.01M239.8 288.0h.01M248.5 316.1h.01M250.8 287.5h.01M239.0 291.2h.01M235.7 300.1h.01M245.3 310.5h.01M237.3 290.2h.01M226.8 303.3h.01M248.6 286.4h.01M243.0 285.8h.01M239.6 291.2h.01M232.5 300.9h.01M250.8 302.3h.01M237.0 309.9h.01M234.5 305.9h.01M229.7 297.5h.01M231.7 293.5h.01M250.5 316.6h.01M237.0 318.7h.01M237.3 292.2h.01M239.6 282.2h.01M239.2 313.6h.01M248.5 300.6h.01M237.5 292.7h.01M232.1 297.9h.01M248.4 308.5h.01M226.7 306.4h.01M237.0 310.0h.01M222.3 294.2h.01M240.8 308.5h.01M242.1 294.4h.01M239.3 309.5h.01M236.6 291.4h.01M226.1 313.2h.01M244.8 271.0h.01M242.7 294.2h.01M230.7 304.0h.01M236.4 292.0h.01M236.4 270.2h.01M247.2 314.6h.01M230.1 300.0h.01M244.9 288.0h.01M219.3 323.1h.01M247.4 284.7h.01M255.8 278.2h.01M241.3 277.8h.01M235.1 303.2h.01M231.2 296.7h.01M241.2 284.2h.01M248.1 284.0h.01M246.6 294.1h.01M231.5 291.4h.01M245.1 277.8h.01M237.0 301.4h.01M235.7 293.2h.01M237.8 298.0h.01M239.9 298.0h.01M240.5 301.0h.01M227.6 304.6h.01M251.2 297.8h.01M244.5 278.1h.01M234.4 295.0h.01M222.5 297.7h.01M248.8 288.4h.01M224.5 309.1h.01M233.1 297.2h.01M240.2 299.2h.01M236.0 305.7h.01M242.1 291.6h.01M240.6 300.0h.01M241.6 297.3h.01M240.2 296.5h.01M233.6 310.0h.01M225.4 317.1h.01M241.4 259.0h.01M226.9 310.4h.01M238.1 257.4h.01M236.8 309.1h.01M241.1 271.8h.01M219.0 318.4h.01M246.7 304.0h.01M237.5 303.0h.01M243.4 308.8h.01M240.3 292.4h.01M242.1 289.2h.01M239.2 314.5h.01M236.0 307.2h.01M241.8 296.5h.01M239.2 283.4h.01M237.5 278.0h.01M243.9 308.9h.01M234.2 284.7h.01M234.8 284.7h.01M234.3 299.2h.01M245.3 309.3h.01M238.7 300.5h.01M239.4 276.7h.01M241.6 308.8h.01M244.8 297.4h.01M239.3 282.7h.01M236.1 286.6h.01M239.4 305.0h.01M236.1 311.7h.01M246.3 289.9h.01M244.9 304.5h.01M244.0 305.8h.01M240.1 295.0h.01M234.1 294.6h.01M238.4 305.2h.01M233.1 312.7h.01M247.6 289.4h.01M235.7 289.7h.01M232.3 311.6h.01M240.6 277.4h.01M240.3 293.1h.01M250.2 306.5h.01M237.7 310.7h.01M229.9 302.8h.01M255.0 297.5h.01M234.0 295.1h.01M231.2 302.3h.01M243.8 316.7h.01M236.1 300.2h.01M234.7 299.0h.01M225.9 307.0h.01M234.6 308.9h.01M246.9 269.7h.01M243.7 302.5h.01M248.0 285.4h.01M232.6 292.2h.01M234.2 291.7h.01M244.5 280.1h.01M231.0 301.0h.01M238.2 309.2h.01M241.1 286.9h.01M228.7 306.8h.01M230.6 313.7h.01M230.9 284.7h.01M233.6 302.6h.01M245.0 281.2h.01M247.9 313.5h.01M243.4 312.4h.01M233.8 302.7h.01M234.3 276.5h.01M237.1 283.7h.01M237.0 297.2h.01M241.7 289.3h.01M241.6 313.0h.01M241.7 290.6h.01M242.3 294.4h.01M241.0 308.7h.01M246.0 305.1h.01M247.8 279.9h.01M237.8 299.3h.01M243.5 296.5h.01M230.0 297.1h.01M229.8 305.2h.01M250.5 280.7h.01M235.1 298.3h.01M233.8 298.3h.01M228.3 293.6h.01M238.3 302.5h.01M234.0 269.4h.01M235.2 302.7h.01M234.2 303.4h.01M247.2 283.9h.01M241.1 290.4h.01M230.4 326.3h.01M248.6 282.7h.01M239.7 292.1h.01M239.6 295.0h.01M236.4 321.2h.01M242.1 293.4h.01M244.9 289.1h.01M236.2 290.3h.01M239.5 300.1h.01M235.6 301.9h.01M236.1 301.8h.01M244.9 260.5h.01M237.4 284.1h.01M224.7 338.2h.01M234.9 299.3h.01M233.1 313.4h.01M232.4 304.5h.01M239.3 299.0h.01M230.0 304.2h.01M248.6 300.2h.01M238.6 284.7h.01M232.7 305.0h.01M234.6 296.0h.01M238.9 294.0h.01M241.4 297.5h.01M223.0 314.3h.01M239.2 310.3h.01M236.0 280.6h.01M239.8 302.2h.01M239.2 284.0h.01M226.5 315.6h.01M233.7 303.1h.01M237.6 302.6h.01M238.9 294.6h.01M230.2 306.9h.01M229.7 297.1h.01M240.0 287.8h.01M232.2 304.8h.01M223.0 303.6h.01M227.1 297.8h.01M245.6 287.2h.01M242.5 291.2h.01M240.7 284.3h.01M246.9 269.4h.01M236.4 287.8h.01M244.1 288.2h.01M240.0 308.8h.01M245.7 301.7h.01M233.7 307.6h.01M242.0 304.5h.01M241.3 288.1h.01M238.9 299.3h.01M242.3 279.5h.01M235.0 309.0h.01M234.1 307.6h.01M236.6 298.4h.01M222.4 288.1h.01M232.6 303.5h.01M224.8 324.3h.01M231.2 297.0h.01M244.0 312.7h.01M239.7 278.6h.01M236.3 286.9h.01M240.3 304.9h.01M245.0 299.1h.01M240.6 299.0h.01M236.7 295.0h.01M247.3 309.6h.01M230.6 298.7h.01M244.9 294.5h.01M236.9 290.8h.01M249.0 300.2h.01M227.3 304.6h.01M243.4 307.6h.01M245.9 281.7h.01M243.6 302.3h.01M229.3 293.3h.01M240.0 287.5h.01M229.0 332.9h.01M245.9 281.1h.01M236.3 297.0h.01M241.3 286.2h.01M236.9 302.2h.01M231.5 288.2h.01M238.9 332.7h.01M240.5 300.9h.01M229.5 306.0h.01M229.4 305.3h.01M234.4 292.3h.01M231.3 319.3h.01M234.1 313.1h.01M243.3 295.6h.01M226.7 311.4h.01M238.0 296.5h.01M225.6 303.8h.01M240.2 284.1h.01M245.7 293.4h.01M229.3 304.6h.01M242.6 303.7h.01M246.8 301.9h.01M230.5 290.9h.01M237.5 292.8h.01M236.1 296.7h.01M234.2 277.3h.01M242.7 295.0h.01M241.4 285.2h.01M234.6 295.9h.01M239.6 301.4h.01M232.9 300.8h.01M236.1 301.4h.01M224.9 302.0h.01M242.7 292.8h.01M249.9 280.5h.01M235.8 304.5h.01M241.6 298.2h.01M227.1 300.3h.01M236.2 299.4h.01M242.4 291.7h.01M252.0 296.8h.01M237.5 292.9h.01M235.2 303.1h.01M250.2 305.6h.01M240.6 313.8h.01M240.5 315.6h.01M230.2 287.7h.01M248.7 289.1h.01M219.6 294.5h.01M239.9 307.1h.01M235.8 311.5h.01M237.6 297.2h.01M239.0 286.9h.01M233.8 322.2h.01M230.2 313.7h.01M235.7 302.0h.01M237.9 281.2h.01M238.4 307.5h.01M236.1 306.5h.01M236.5 290.5h.01M230.5 292.3h.01M250.4 273.1h.01M249.3 289.2h.01M229.0 278.9h.01M237.8 293.6h.01M235.8 307.4h.01M242.4 308.9h.01M228.8 294.8h.01M235.6 306.4h.01M241.6 278.8h.01M236.3 298.4h.01M242.0 283.8h.01M245.3 284.9h.01M233.7 292.5h.01M238.2 314.3h.01M246.6 285.4h.01M247.6 291.8h.01M243.2 294.1h.01M239.3 285.5h.01M238.6 289.1h.01M238.0 282.8h.01M242.7 311.5h.01M249.5 285.3h.01M234.7 304.5h.01M251.8 287.9h.01M241.7 287.7h.01M234.1 279.1h.01M252.6 296.9h.01M246.0 309.5h.01M235.9 296.4h.01M238.6 289.6h.01M241.0 290.5h.01M237.3 293.1h.01M234.4 276.6h.01M238.6 282.3h.01M238.9 297.1h.01M237.0 310.5h.01M252.4 284.1h.01M239.1 300.4h.01M246.9 295.0h.01M235.1 303.4h.01M248.7 287.1h.01M237.2 303.3h.01M247.0 288.3h.01M236.0 287.4h.01M244.2 303.5h.01M246.0 280.1h.01M236.6 311.1h.01M245.7 295.7h.01M236.8 299.7h.01M236.4 287.8h.01M230.8 294.0h.01M246.1 280.5h.01M243.1 290.5h.01M236.9 297.9h.01M232.3 281.0h.01M237.4 307.2h.01M243.9 276.7h.01M240.1 298.3h.01M230.7 292.8h.01M236.6 303.8h.01M242.3 307.6h.01M243.2 319.4h.01M234.0 313.4h.01M236.6 288.2h.01M229.4 285.8h.01M233.6 303.4h.01M245.0 300.2h.01M248.1 293.0h.01M237.6 306.5h.01M246.0 292.5h.01M235.0 307.7h.01M234.0 299.1h.01M233.4 289.8h.01M238.0 302.6h.01M241.4 279.0h.01M224.2 299.3h.01M245.6 290.6h.01M243.8 309.5h.01M233.2 287.7h.01M237.7 295.5h.01M242.5 289.7h.01M241.3 299.6h.01M236.3 282.9h.01M235.0 312.9h.01M235.9 287.5h.01M250.4 288.0h.01M234.1 291.5h.01M240.3 282.2h.01M241.8 286.0h.01M241.7 289.6h.01M232.2 300.7h.01M249.1 276.1h.01M244.8 288.3h.01M237.6 292.5h.01M236.1 285.4h.01M236.2 305.0h.01M227.5 284.8h.01M233.3 307.6h.01M241.0 275.3h.01M242.8 297.1h.01M242.1 302.7h.01M236.6 296.4h.01M238.4 287.5h.01M242.0 273.9h.01M243.9 295.9h.01M240.1 304.0h.01M234.3 301.5h.01M245.2 299.6h.01M227.9 312.0h.01M230.3 301.9h.01M236.3 309.3h.01M233.1 302.9h.01M241.0 287.9h.01M247.2 294.0h.01M242.6 292.8h.01M231.1 306.3h.01M253.0 290.0h.01M249.4 281.3h.01M249.5 292.1h.01M244.6 295.8h.01M231.0 312.0h.01M241.3 311.4h.01M240.9 303.8h.01M240.8 309.1h.01M244.1 295.3h.01M228.2 316.3h.01M238.9 312.9h.01M240.6 289.5h.01M234.1 283.2h.01M248.1 287.5h.01M241.5 289.2h.01M236.7 282.7h.01M234.9 324.3h.01M238.6 291.0h.01M243.9 304.7h.01M247.7 299.7h.01M242.7 285.8h.01M239.6 283.1h.01M235.2 275.7h.01M241.7 298.5h.01M255.8 286.9h.01M227.7 286.2h.01M248.7 296.6h.01M231.9 287.1h.01M238.9 305.8h.01M235.3 296.7h.01M245.0 275.8h.01M234.4 281.6h.01M228.4 293.3h.01M237.6 291.6h.01M235.6 304.8h.01M240.4 282.8h.01M223.8 302.8h.01M235.8 308.5h.01M229.5 294.8h.01M242.2 287.0h.01M225.3 318.7h.01M234.4 302.4h.01M250.2 293.8h.01M239.3 284.7h.01M249.6 286.1h.01M240.8 274.0h.01M235.8 316.2h.01M233.5 301.6h.01M247.2 287.9h.01M246.5 290.5h.01M238.8 301.7h.01M230.3 294.6h.01M240.9 288.4h.01M234.9 302.0h.01M241.0 288.0h.01M251.7 298.2h.01M245.0 282.9h.01M236.7 295.2h.01M238.1 279.7h.01M255.4 283.6h.01M236.8 286.5h.01M241.8 296.0h.01M243.5 283.9h.01M235.9 288.0h.01M223.6 317.1h.01M236.4 295.1h.01M228.8 285.0h.01M236.0 295.4h.01M238.2 287.8h.01M234.6 289.8h.01M233.0 314.4h.01M241.9 292.3h.01M244.3 313.4h.01M239.2 302.2h.01M237.2 300.6h.01M236.0 304.1h.01M245.3 310.6h.01M227.4 297.8h.01M251.8 297.0h.01M232.5 311.3h.01M231.7 285.9h.01M243.0 283.8h.01M240.8 292.1h.01M234.6 308.1h.01M242.6 267.2h.01M236.0 283.5h.01M233.8 297.7h.01M249.8 290.7h.01M242.7 299.6h.01M251.0 302.4h.01M242.2 296.4h.01M239.8 291.2h.01M247.2 281.9h.01M245.5 288.2h.01M231.4 285.1h.01M248.7 285.3h.01M243.8 295.5h.01M228.9 290.2h.01M233.7 277.8h.01M243.1 293.6h.01M234.4 296.7h.01M194.7 309.1h.01M210.3 307.9h.01M211.7 307.1h.01M203.2 310.6h.01M198.9 309.1h.01M192.4 301.1h.01M204.2 307.5h.01M194.2 307.7h.01M194.4 311.3h.01M199.6 299.8h.01M190.3 306.1h.01M197.4 318.0h.01M192.3 308.4h.01M201.1 310.1h.01M211.3 304.9h.01M196.9 313.5h.01M201.7 309.8h.01M206.8 310.8h.01M207.9 308.6h.01M201.9 308.3h.01M204.4 303.1h.01M197.4 310.9h.01M212.0 303.3h.01M212.1 303.3h.01M201.5 301.6h.01M196.7 309.2h.01M198.3 305.1h.01M195.6 308.4h.01M195.6 308.6h.01M207.4 303.1h.01M199.4 298.4h.01M196.5 306.1h.01M197.8 315.5h.01M193.6 303.4h.01M190.8 297.6h.01M199.9 306.5h.01M208.2 306.9h.01M196.9 309.9h.01M195.0 305.8h.01M197.8 305.8h.01M191.7 309.5h.01M213.0 305.4h.01M200.0 303.2h.01M202.3 301.9h.01M193.7 305.1h.01M194.3 305.4h.01M215.4 301.1h.01M195.5 306.3h.01M203.4 309.9h.01M202.1 311.2h.01M206.5 303.8h.01M199.7 305.0h.01M214.9 307.1h.01M189.4 306.9h.01M197.9 310.4h.01M206.1 303.5h.01M204.2 301.4h.01M196.9 309.2h.01M203.2 317.0h.01M184.2 307.2h.01M199.4 307.3h.01M194.9 307.0h.01M207.0 309.3h.01M204.0 307.8h.01M199.7 307.1h.01M209.7 305.0h.01M204.7 306.7h.01M187.7 304.9h.01M200.5 307.1h.01M197.6 313.2h.01M209.6 300.3h.01M210.1 313.5h.01M203.9 311.5h.01M199.5 309.4h.01M196.9 310.4h.01M197.7 304.8h.01M210.3 303.5h.01M200.5 308.0h.01M199.1 307.6h.01M196.9 308.3h.01M205.7 307.9h.01M195.7 308.2h.01M201.1 307.7h.01M199.0 305.0h.01M200.3 311.1h.01M204.0 309.8h.01M205.2 304.2h.01M203.5 306.2h.01M192.5 308.7h.01M201.3 305.1h.01M193.8 308.4h.01M191.3 307.4h.01M201.1 307.0h.01M210.6 304.2h.01M199.4 309.6h.01M197.9 304.8h.01M206.1 308.9h.01M199.9 309.1h.01M204.7 306.5h.01M196.2 310.9h.01M208.4 312.0h.01M189.6 319.2h.01M212.9 308.6h.01M205.7 305.1h.01M205.6 303.1h.01M197.7 307.7h.01M206.5 305.1h.01M196.0 310.4h.01M191.8 307.1h.01M197.3 313.2h.01M197.2 306.5h.01M201.7 308.2h.01M201.6 305.1h.01M193.3 310.8h.01M206.5 304.5h.01M192.1 310.6h.01M209.4 304.2h.01M199.7 303.8h.01M208.9 301.9h.01M192.1 312.6h.01M197.5 307.8h.01M198.4 306.7h.01M209.6 303.0h.01M206.6 307.1h.01M210.6 305.2h.01M202.0 307.4h.01M189.4 300.4h.01M200.4 304.2h.01M214.3 307.3h.01M193.5 304.2h.01M202.0 310.7h.01M206.4 307.0h.01M194.8 316.9h.01M194.5 306.4h.01M194.3 304.3h.01M214.0 305.5h.01M201.9 307.6h.01M205.8 307.0h.01M206.9 302.0h.01M205.8 310.6h.01M204.6 308.1h.01M202.5 303.9h.01M196.5 307.0h.01M209.5 309.9h.01M199.4 304.9h.01M199.2 303.9h.01M194.4 313.2h.01M202.9 307.8h.01M202.5 303.9h.01M207.0 308.3h.01M198.2 314.5h.01M194.6 306.9h.01M201.9 312.7h.01M205.4 307.3h.01M207.3 308.3h.01M206.5 311.0h.01M189.3 311.0h.01M204.8 305.7h.01M189.1 307.6h.01M204.7 301.2h.01M205.3 305.3h.01M190.9 306.7h.01M188.6 309.2h.01M198.3 311.1h.01M194.4 308.3h.01M204.1 309.5h.01M202.4 304.8h.01M200.4 300.6h.01M198.7 310.2h.01M189.0 304.3h.01M204.7 307.9h.01M202.5 307.8h.01M205.9 307.2h.01M202.0 307.6h.01M195.2 315.7h.01M203.9 311.7h.01M203.0 305.0h.01M212.1 309.4h.01M201.5 304.0h.01M196.5 309.8h.01M203.3 299.9h.01M207.2 303.6h.01M194.7 305.5h.01M207.5 311.5h.01M200.6 308.1h.01M204.5 313.4h.01M204.9 307.2h.01M198.9 315.1h.01M187.9 310.2h.01M204.5 305.7h.01M205.1 313.2h.01M201.8 302.6h.01M191.1 305.7h.01M196.1 305.8h.01M201.2 313.2h.01M194.1 303.3h.01M199.9 303.1h.01M202.6 304.1h.01M198.1 306.8h.01M198.3 304.4h.01M197.0 303.7h.01M210.2 311.2h.01M199.5 305.6h.01M211.4 302.7h.01M201.1 313.6h.01M205.7 309.2h.01M201.7 305.9h.01M191.9 304.2h.01M206.2 305.1h.01M204.2 306.0h.01M192.0 309.8h.01M205.5 308.3h.01M200.7 306.1h.01M201.1 306.5h.01M203.5 307.3h.01M193.8 308.8h.01M206.4 309.5h.01M203.4 306.2h.01M195.2 317.8h.01M200.4 310.2h.01M196.7 304.4h.01M195.9 306.5h.01M201.3 306.7h.01M212.7 313.7h.01M206.4 307.6h.01M198.8 309.9h.01M200.8 307.3h.01M194.9 302.0h.01M196.0 308.2h.01M192.8 307.4h.01M202.7 303.5h.01M206.5 308.9h.01M210.3 307.2h.01M210.0 300.8h.01M198.1 311.4h.01M203.9 302.2h.01M203.0 303.4h.01M204.2 304.1h.01M208.6 308.0h.01M191.9 308.4h.01M195.7 312.0h.01M199.5 305.0h.01M189.3 313.5h.01M205.4 310.3h.01M198.2 302.8h.01M207.4 305.8h.01M203.8 316.9h.01M203.9 305.9h.01M192.1 307.3h.01M203.3 307.7h.01M205.4 304.0h.01M200.9 308.3h.01M193.3 303.9h.01M197.0 306.5h.01M209.9 304.1h.01M192.8 308.2h.01M196.2 313.5h.01M195.7 305.7h.01M202.6 308.1h.01M201.6 311.5h.01M195.9 308.3h.01M205.4 308.3h.01M199.5 306.3h.01M209.5 311.4h.01M203.8 306.6h.01M200.1 306.6h.01M188.5 308.1h.01M199.1 311.9h.01M205.7 307.6h.01M198.4 304.9h.01M194.9 310.3h.01M205.6 304.1h.01M212.8 308.3h.01M191.7 313.2h.01M193.2 307.5h.01M199.1 309.9h.01M194.4 310.3h.01M198.3 303.4h.01M204.3 302.4h.01M205.5 304.5h.01M207.7 305.4h.01M209.9 302.9h.01M211.6 306.0h.01M195.8 298.9h.01M198.8 305.7h.01M198.2 310.1h.01M203.2 311.2h.01M199.6 302.5h.01M201.3 304.5h.01M204.4 305.9h.01M201.2 305.3h.01M194.6 305.8h.01M194.0 310.5h.01M196.9 312.4h.01M188.5 306.8h.01M203.6 304.9h.01M214.0 306.0h.01M205.1 309.8h.01M204.8 311.2h.01M212.5 310.1h.01M198.0 305.0h.01M187.1 303.5h.01M194.7 307.1h.01M206.5 306.5h.01M206.2 308.9h.01M204.1 314.9h.01M209.7 309.2h.01M195.2 307.7h.01M210.8 309.3h.01M200.4 308.7h.01M194.8 312.4h.01M204.1 304.7h.01M195.9 306.9h.01M203.2 306.0h.01M199.5 307.4h.01M202.2 311.1h.01M199.6 304.7h.01M197.1 303.0h.01M199.0 311.4h.01M198.7 312.3h.01M204.2 312.9h.01M200.6 308.3h.01M198.6 306.1h.01M202.2 309.3h.01M205.5 308.7h.01M206.0 302.4h.01M202.8 304.0h.01M192.3 306.0h.01M191.4 308.6h.01M204.7 316.7h.01M195.7 310.5h.01M194.8 307.7h.01M204.4 311.3h.01M196.7 314.2h.01M196.2 315.1h.01M191.3 306.4h.01M205.8 310.0h.01M202.6 310.1h.01M207.0 300.9h.01M185.5 311.4h.01M196.6 309.4h.01M210.0 301.3h.01M200.4 305.2h.01M190.8 309.1h.01M198.7 308.1h.01M202.3 312.9h.01M194.1 300.3h.01M189.9 307.9h.01M204.9 305.5h.01M200.8 313.1h.01M197.6 313.1h.01M212.4 305.5h.01M204.9 306.5h.01M198.1 303.4h.01M205.8 304.9h.01M204.0 304.6h.01M198.8 306.0h.01M201.0 308.3h.01M204.4 299.7h.01M188.1 303.1h.01M197.8 303.4h.01M194.3 308.5h.01M206.7 307.3h.01M202.6 311.6h.01M193.5 302.0h.01M201.4 307.7h.01M192.0 311.6h.01M194.2 308.0h.01M199.8 309.7h.01M196.4 307.3h.01M207.6 312.0h.01M191.8 304.0h.01M191.8 309.4h.01M201.2 301.0h.01M188.0 318.5h.01M200.0 303.7h.01M201.3 310.3h.01M201.6 314.7h.01M205.5 301.9h.01M199.2 304.6h.01M194.0 302.6h.01M196.5 310.5h.01M195.8 314.0h.01M204.6 300.1h.01M191.8 308.7h.01M203.2 309.3h.01M190.9 306.9h.01M206.6 306.7h.01M193.9 308.9h.01M188.7 308.4h.01M207.9 303.1h.01M199.9 306.0h.01M197.3 307.2h.01M196.8 307.1h.01M197.3 307.0h.01M204.7 307.3h.01M192.6 306.2h.01M199.0 309.3h.01M203.9 310.2h.01M206.1 305.1h.01M196.3 310.2h.01M199.7 310.7h.01M206.2 315.1h.01M201.4 308.6h.01M193.8 305.6h.01M197.5 306.0h.01M197.8 308.6h.01M203.6 303.9h.01M206.5 307.2h.01M209.5 308.1h.01M192.2 314.6h.01M191.7 311.1h.01M189.6 307.0h.01M200.7 307.6h.01M201.9 307.8h.01M198.9 308.7h.01M200.7 311.4h.01M208.2 301.5h.01M200.7 299.4h.01M194.6 304.6h.01M190.6 305.9h.01M195.9 304.2h.01M201.2 304.0h.01M204.2 305.4h.01M198.8 301.9h.01M202.6 305.6h.01M209.2 307.8h.01M211.1 303.0h.01M200.9 312.6h.01M207.9 308.1h.01M201.1 307.0h.01M206.3 304.9h.01M189.4 310.5h.01M202.6 306.7h.01M205.3 305.2h.01M210.4 309.4h.01M208.4 305.6h.01M202.3 304.9h.01M198.4 305.0h.01M199.2 305.0h.01M195.9 303.6h.01M191.2 310.3h.01M200.2 306.6h.01M195.6 309.2h.01M202.0 303.6h.01M208.3 308.7h.01M200.1 308.6h.01M191.2 309.6h.01M207.3 311.8h.01M217.8 302.9h.01M211.0 306.2h.01M186.5 306.8h.01M210.1 308.9h.01M208.2 304.3h.01M205.2 304.5h.01M204.0 304.9h.01M207.7 305.5h.01M204.3 305.7h.01M201.3 310.5h.01M189.6 311.7h.01M193.0 313.2h.01M204.7 308.4h.01M208.2 295.9h.01M205.2 308.8h.01M202.8 308.0h.01M202.2 299.9h.01M210.2 302.3h.01M202.2 301.0h.01M205.5 304.0h.01M193.4 310.1h.01M201.5 308.2h.01M197.3 314.8h.01M196.0 308.1h.01M202.4 311.2h.01M199.7 301.1h.01M201.5 314.4h.01M199.4 307.5h.01M208.2 306.3h.01M208.8 305.8h.01M207.6 302.2h.01M235.0 301.5h.01M224.9 280.1h.01M204.0 304.1h.01M223.1 307.9h.01M227.0 304.3h.01M226.6 302.2h.01M207.2 298.7h.01M240.3 296.7h.01M220.9 314.1h.01M221.4 304.0h.01M208.8 316.3h.01M222.7 297.9h.01M225.7 289.8h.01M196.4 303.8h.01M217.4 295.6h.01M217.4 309.9h.01M217.1 301.6h.01M209.5 309.5h.01M220.7 298.6h.01M215.1 301.4h.01M212.1 306.6h.01M219.9 298.2h.01M235.5 303.4h.01M222.8 291.9h.01M227.1 305.5h.01M222.3 312.3h.01M194.2 310.7h.01M209.7 312.8h.01M229.3 305.9h.01M218.7 303.6h.01M215.5 311.3h.01M239.4 314.2h.01M217.4 300.0h.01M215.5 304.9h.01M221.2 302.4h.01M214.0 298.0h.01M223.4 294.6h.01M218.8 315.9h.01M199.3 308.7h.01M222.9 313.5h.01M211.5 297.2h.01M221.5 308.1h.01M216.5 303.5h.01M213.1 306.4h.01M210.7 303.4h.01M235.5 293.9h.01M203.9 291.4h.01M216.5 312.6h.01M201.1 304.6h.01M220.4 307.7h.01M208.8 306.2h.01M220.7 299.8h.01M224.0 317.8h.01M211.2 303.1h.01M222.0 299.0h.01M201.2 296.1h.01M204.5 306.4h.01M212.6 307.4h.01M209.1 299.9h.01M226.6 301.3h.01M203.6 309.1h.01M217.2 301.8h.01M211.6 306.2h.01M247.0 301.3h.01M214.5 319.1h.01M209.4 295.0h.01M227.2 310.5h.01M226.6 302.4h.01M209.0 300.1h.01M211.0 306.5h.01M218.0 302.8h.01M212.9 302.7h.01M217.8 302.9h.01M222.1 307.6h.01M202.6 305.8h.01M231.5 301.0h.01M220.3 308.3h.01M205.1 312.6h.01M207.6 307.2h.01M200.7 306.3h.01M200.4 301.7h.01M217.5 314.7h.01M211.7 303.2h.01M222.0 299.1h.01M213.9 305.3h.01M215.2 301.1h.01M210.1 305.7h.01M219.4 306.1h.01M205.8 297.0h.01M223.3 309.1h.01M239.6 306.9h.01M208.2 307.1h.01M223.8 294.6h.01M233.0 299.5h.01M218.6 300.1h.01M209.1 309.0h.01M223.7 302.4h.01M220.4 310.0h.01M220.6 312.5h.01M228.1 303.2h.01M210.7 307.5h.01M248.6 282.8h.01M210.1 296.6h.01M185.7 300.0h.01M218.0 302.6h.01M207.2 312.8h.01M220.4 306.5h.01M223.4 297.3h.01M216.5 301.0h.01M219.8 302.5h.01M212.1 303.1h.01M222.6 303.2h.01M212.8 313.2h.01M206.0 295.7h.01M229.0 301.4h.01M221.1 304.7h.01M225.4 297.7h.01M215.1 302.5h.01M228.4 312.7h.01M207.4 308.4h.01M205.0 307.8h.01M208.5 307.3h.01M223.1 310.7h.01M218.9 295.7h.01M219.9 311.3h.01M211.2 297.7h.01M214.9 308.1h.01M226.5 307.7h.01M205.5 301.4h.01M218.0 308.0h.01M223.0 297.1h.01M229.8 302.5h.01M222.9 300.7h.01M201.5 295.5h.01M210.5 308.1h.01M208.8 310.6h.01M229.9 303.1h.01M211.5 315.6h.01M219.7 304.2h.01M206.5 305.6h.01M197.7 301.9h.01M204.4 302.2h.01M218.9 316.7h.01M205.5 309.0h.01M226.6 299.8h.01M224.8 293.5h.01M214.7 307.4h.01M197.2 312.0h.01M224.0 308.6h.01M208.2 299.2h.01M190.7 298.0h.01M232.1 313.6h.01M223.0 303.7h.01M227.8 305.3h.01M216.5 295.7h.01M211.3 302.1h.01M224.8 304.2h.01M227.5 300.2h.01M227.0 313.5h.01M206.5 303.3h.01M230.7 294.4h.01M218.0 308.5h.01M205.8 316.8h.01M212.4 301.1h.01M217.1 313.0h.01M216.8 303.9h.01M209.6 296.0h.01M222.7 297.1h.01M219.0 309.8h.01M229.7 296.5h.01M211.4 312.6h.01M226.8 306.7h.01M205.1 305.6h.01M223.9 308.1h.01M218.2 298.1h.01M226.1 312.7h.01M225.7 292.8h.01M227.9 303.8h.01M221.9 313.2h.01M211.4 307.7h.01M240.6 302.2h.01M207.2 294.8h.01M231.4 312.9h.01M215.7 314.4h.01M229.2 316.8h.01M238.2 308.7h.01M206.4 292.3h.01M223.7 301.5h.01M227.3 309.2h.01M227.4 305.0h.01M223.6 302.2h.01M233.1 310.5h.01M202.6 301.4h.01M243.8 298.6h.01M216.0 300.2h.01M204.6 304.6h.01M199.4 304.9h.01M225.8 293.2h.01M212.3 299.0h.01M232.6 309.1h.01M214.9 315.5h.01M208.3 302.2h.01M195.6 307.7h.01M225.8 294.8h.01M190.5 304.0h.01M211.1 318.5h.01M206.7 301.4h.01M217.6 299.9h.01M214.6 300.4h.01M207.2 310.8h.01M216.1 314.7h.01M231.4 304.4h.01M207.1 310.2h.01M207.3 304.2h.01M213.8 299.2h.01M205.2 305.6h.01M201.3 308.3h.01M232.7 303.6h.01M227.6 303.6h.01M205.9 310.4h.01M205.5 303.1h.01M220.4 286.2h.01M236.1 297.5h.01M207.2 304.3h.01M207.9 290.7h.01M209.9 297.7h.01M203.1 300.7h.01M204.4 308.0h.01M219.7 303.1h.01M217.2 304.5h.01M208.4 305.5h.01M217.1 309.8h.01M224.0 302.5h.01M209.6 296.9h.01M211.6 316.1h.01M231.6 305.2h.01M233.8 300.1h.01M208.1 298.2h.01M222.9 298.1h.01M218.3 294.6h.01M228.0 305.3h.01M201.4 305.7h.01M218.6 310.0h.01M215.7 295.2h.01M212.6 297.7h.01M207.6 310.8h.01M228.1 304.3h.01M220.2 297.7h.01M235.6 310.1h.01M224.2 302.2h.01M219.4 293.1h.01M215.2 307.9h.01M223.3 315.9h.01M221.8 309.2h.01M221.4 308.3h.01M223.3 305.1h.01M210.0 301.5h.01M226.0 313.1h.01M203.7 306.9h.01M213.6 296.4h.01M235.1 299.8h.01M229.8 305.1h.01M202.8 303.5h.01M198.5 295.8h.01M220.6 296.8h.01M210.8 314.5h.01M215.6 301.3h.01M215.4 307.4h.01M218.6 305.2h.01M233.0 310.8h.01M193.6 306.7h.01M220.7 313.1h.01M217.3 301.5h.01M221.4 302.0h.01M209.5 313.6h.01M228.2 305.4h.01M202.8 295.9h.01M225.8 320.5h.01M246.0 300.9h.01M200.1 299.8h.01M221.3 296.3h.01M217.9 314.2h.01M215.9 306.9h.01M220.9 305.0h.01M223.9 311.0h.01M211.8 307.7h.01M222.3 314.1h.01M217.8 289.6h.01M198.0 299.5h.01M218.8 298.0h.01M218.3 302.5h.01M221.7 301.0h.01M204.6 306.0h.01M237.7 293.8h.01M208.5 310.6h.01M215.8 297.8h.01M227.8 306.8h.01M191.8 306.6h.01M199.6 298.4h.01M234.0 298.7h.01M224.2 300.1h.01M237.9 295.8h.01M233.5 309.8h.01M212.0 304.6h.01M193.3 307.9h.01M217.5 304.5h.01M245.4 303.0h.01M215.6 305.0h.01M214.0 313.0h.01M230.0 303.0h.01M221.7 303.6h.01M209.2 314.5h.01M214.6 301.1h.01M216.4 299.8h.01M209.0 306.6h.01M219.3 304.6h.01M219.6 295.3h.01M213.1 303.7h.01M210.6 301.4h.01M220.2 308.4h.01M206.6 312.3h.01M214.6 303.5h.01M212.3 305.3h.01M219.2 289.7h.01M230.6 289.0h.01M219.2 302.7h.01M239.1 300.0h.01M224.9 306.6h.01M211.7 299.9h.01M211.1 308.7h.01M201.3 303.7h.01M216.6 300.9h.01M208.2 312.5h.01M229.8 303.0h.01M226.3 310.4h.01M203.5 320.7h.01M221.0 297.8h.01M232.2 292.2h.01M197.7 312.4h.01M211.9 309.4h.01M215.4 309.2h.01M201.6 305.7h.01M219.0 308.7h.01M218.0 312.0h.01M214.1 306.5h.01M212.6 305.0h.01M203.7 313.5h.01M208.5 300.4h.01M207.2 310.7h.01M239.4 303.9h.01M213.4 309.9h.01M233.8 299.6h.01M220.5 294.2h.01M204.6 315.5h.01M229.8 300.5h.01M212.0 299.8h.01M216.6 292.4h.01M203.7 303.1h.01M228.4 297.9h.01M213.7 306.9h.01M212.8 300.4h.01M213.2 305.4h.01M228.9 303.9h.01M220.3 304.7h.01M217.7 317.6h.01M207.3 302.8h.01M210.6 308.5h.01M218.2 290.2h.01M209.3 310.7h.01M197.9 303.0h.01M217.0 309.3h.01M213.1 298.6h.01M228.8 301.0h.01M230.3 296.9h.01M212.6 299.7h.01M219.3 299.3h.01M220.7 290.9h.01M203.8 303.1h.01M205.7 291.0h.01M211.9 306.9h.01M217.4 304.4h.01M236.4 302.9h.01M220.4 297.4h.01M234.2 308.6h.01M221.0 312.0h.01M223.0 295.1h.01M211.9 306.3h.01M230.7 300.4h.01M226.5 306.2h.01M214.1 306.7h.01M234.9 311.8h.01M211.9 295.1h.01M216.8 310.9h.01M220.2 305.3h.01M216.3 301.2h.01M226.3 312.6h.01M219.8 294.8h.01M202.8 306.0h.01M204.8 301.2h.01M208.3 307.0h.01M213.0 301.8h.01M203.2 313.9h.01M219.7 295.7h.01M212.0 302.1h.01M220.5 303.3h.01M217.4 307.6h.01M214.9 297.0h.01M222.5 295.9h.01M209.6 304.1h.01M210.5 312.9h.01M227.5 305.1h.01M220.2 312.6h.01M214.8 305.1h.01M213.3 298.3h.01M222.6 302.9h.01M220.1 306.7h.01M209.8 306.5h.01M206.4 306.1h.01M216.3 297.4h.01M212.8 289.7h.01M211.8 303.8h.01M217.3 308.0h.01M216.9 315.1h.01M229.8 306.7h.01M217.3 315.3h.01M223.8 311.5h.01M232.5 309.3h.01M209.5 300.8h.01M231.6 315.2h.01M199.0 295.8h.01M222.4 313.1h.01M212.8 300.3h.01M213.3 295.2h.01M209.7 303.8h.01M230.2 294.0h.01M220.2 300.4h.01M213.9 304.9h.01M211.2 302.3h.01M226.8 309.6h.01M204.8 305.0h.01M239.5 300.9h.01M219.0 304.3h.01M199.2 310.1h.01M234.1 315.8h.01M237.2 309.9h.01M239.9 286.1h.01M234.0 303.7h.01M224.0 307.0h.01M212.6 303.3h.01M183.0 303.6h.01M214.1 311.2h.01M214.5 300.4h.01M209.1 302.7h.01M202.8 304.8h.01M204.9 300.5h.01M206.1 301.3h.01M195.7 304.9h.01M229.6 308.3h.01M218.1 309.5h.01M222.8 299.1h.01M230.1 294.9h.01M231.8 307.5h.01M218.8 300.8h.01M219.6 312.1h.01M239.7 286.5h.01M218.2 320.3h.01M237.5 303.7h.01M242.3 308.6h.01M223.3 298.8h.01M201.8 307.6h.01M222.9 299.6h.01M221.8 320.1h.01M191.4 304.1h.01M235.0 312.3h.01M221.8 298.1h.01M206.8 314.9h.01M220.5 306.7h.01M216.5 305.5h.01M216.2 302.4h.01M211.7 304.9h.01M211.3 310.1h.01M221.3 309.0h.01M223.4 303.9h.01M229.3 299.5h.01M195.5 306.2h.01M224.7 302.9h.01M218.0 297.4h.01M224.9 311.9h.01M218.5 297.9h.01M219.2 312.0h.01M226.0 299.7h.01M230.1 302.1h.01M218.7 298.8h.01M205.4 294.5h.01M221.9 302.4h.01M225.8 298.6h.01M193.3 300.4h.01M216.3 309.2h.01M227.4 297.5h.01M221.7 307.7h.01M218.6 310.0h.01M245.1 306.0h.01M227.1 293.2h.01M208.1 308.3h.01M192.9 307.8h.01M203.0 304.4h.01M215.1 304.3h.01M217.9 307.1h.01M218.7 304.5h.01M209.6 306.8h.01M211.2 312.8h.01M217.2 315.8h.01M223.3 303.9h.01M219.3 296.8h.01M227.9 306.1h.01M221.3 296.5h.01M215.8 302.0h.01M222.1 310.3h.01M220.6 306.4h.01M214.6 301.7h.01M224.7 309.2h.01M214.7 305.7h.01M207.1 302.8h.01M215.2 308.8h.01M227.8 303.9h.01M204.8 305.9h.01M215.4 302.5h.01M242.2 298.7h.01M233.3 304.0h.01M222.6 300.7h.01M216.3 302.8h.01M212.5 300.3h.01M207.5 294.4h.01M176.7 316.2h.01M216.1 302.0h.01M219.1 314.2h.01M222.1 309.3h.01M219.7 306.6h.01M214.5 313.9h.01M203.1 308.9h.01M205.8 303.7h.01M202.2 304.1h.01M223.5 308.4h.01M207.0 307.2h.01M226.1 294.8h.01M241.1 301.7h.01M224.2 302.4h.01M217.2 310.9h.01M213.6 297.6h.01M232.6 306.7h.01M199.7 293.9h.01M217.8 301.3h.01M215.6 315.6h.01M220.9 310.0h.01M214.3 308.4h.01M214.6 289.5h.01M234.0 315.0h.01M200.6 308.8h.01M210.2 300.0h.01M234.6 307.3h.01M223.7 305.0h.01M195.8 298.7h.01M236.6 307.7h.01M224.4 306.8h.01M216.4 307.2h.01M215.9 304.1h.01M210.8 303.0h.01M203.3 300.3h.01M207.0 316.7h.01M226.6 305.6h.01M211.6 299.0h.01M217.1 292.1h.01M222.1 312.7h.01M211.9 308.9h.01M214.3 294.0h.01M247.2 291.0h.01M222.4 300.4h.01M219.3 317.9h.01M232.7 290.5h.01M211.7 304.9h.01M209.7 306.1h.01M208.0 312.1h.01M230.7 315.3h.01M228.7 310.4h.01M214.7 317.0h.01M224.6 309.9h.01M244.8 307.7h.01M220.2 299.8h.01M206.8 310.3h.01M205.7 301.7h.01M220.7 297.6h.01M201.7 311.3h.01M216.2 307.1h.01M220.9 296.9h.01M218.9 309.1h.01M217.0 308.7h.01M210.3 293.2h.01M224.9 292.2h.01M215.1 304.8h.01M203.6 303.9h.01M225.4 299.2h.01M204.7 304.6h.01M227.6 306.3h.01M225.2 306.7h.01M217.4 307.8h.01M201.2 310.8h.01M219.4 305.8h.01M217.4 307.8h.01M227.1 304.5h.01M221.8 306.8h.01M231.8 303.6h.01M222.2 290.0h.01M222.2 313.6h.01M210.1 302.8h.01M203.0 314.6h.01M216.2 314.2h.01M229.4 300.5h.01M214.0 296.9h.01M210.0 312.2h.01M227.4 303.3h.01M215.0 298.0h.01M216.0 300.3h.01M219.9 296.8h.01M223.5 306.6h.01M234.0 305.0h.01M236.5 310.5h.01M218.1 318.1h.01M223.2 295.4h.01M213.2 301.6h.01M215.0 295.4h.01M221.2 301.7h.01M229.5 312.7h.01M225.1 302.7h.01M231.7 302.8h.01M224.2 304.0h.01M206.7 308.2h.01M215.5 312.7h.01M217.0 307.2h.01M237.5 304.0h.01M218.9 303.5h.01M225.1 313.6h.01M198.4 295.9h.01M208.4 310.5h.01M230.3 301.3h.01M208.7 300.3h.01M205.1 295.1h.01M214.1 302.4h.01M217.4 292.2h.01M207.0 305.7h.01M241.0 314.9h.01M212.2 302.9h.01M215.2 301.6h.01M230.2 310.2h.01M210.4 296.6h.01M238.9 319.1h.01M223.5 297.5h.01M210.2 310.2h.01M205.2 306.5h.01M205.0 300.8h.01M210.0 301.6h.01M200.4 300.1h.01M224.9 297.7h.01M220.5 289.6h.01M228.2 303.0h.01M235.2 304.9h.01M219.3 293.8h.01M212.5 304.6h.01M220.3 302.8h.01M215.0 298.1h.01M241.2 304.6h.01M201.5 308.4h.01M202.4 313.4h.01M206.2 298.5h.01M219.3 299.6h.01M216.4 297.9h.01M213.2 296.4h.01M227.3 302.0h.01M201.5 312.4h.01M220.4 310.4h.01M215.8 305.3h.01M232.7 307.2h.01M219.0 306.9h.01M209.4 302.1h.01M228.2 312.2h.01M234.0 288.9h.01M219.3 300.8h.01M206.2 307.6h.01M221.0 304.4h.01M232.7 308.4h.01M214.9 301.1h.01M216.8 305.8h.01M216.4 301.7h.01M196.6 289.7h.01M225.8 310.0h.01M207.7 312.0h.01M222.4 315.3h.01M244.5 305.3h.01M202.2 292.6h.01M217.6 301.1h.01M215.5 305.9h.01M240.1 314.5h.01M220.4 308.5h.01M213.9 304.9h.01M197.5 302.0h.01M219.8 300.5h.01M211.1 300.1h.01M212.5 299.8h.01M232.4 299.0h.01M201.9 305.0h.01M206.3 293.0h.01M219.8 311.9h.01M201.0 297.3h.01M206.7 302.5h.01M214.0 305.4h.01M212.8 304.5h.01M235.3 308.1h.01M223.3 300.7h.01M210.3 311.6h.01M207.9 301.4h.01M219.4 297.6h.01M221.6 303.1h.01M217.9 302.7h.01M218.2 299.9h.01M208.2 298.3h.01M235.4 303.2h.01M223.9 310.9h.01M218.8 312.9h.01M228.5 302.9h.01M229.5 296.2h.01M209.6 299.8h.01M234.6 289.0h.01M216.5 300.9h.01M210.7 300.8h.01M224.2 294.6h.01M216.0 303.9h.01M223.1 304.7h.01M240.3 316.0h.01M198.9 308.8h.01M225.3 303.4h.01M222.3 313.1h.01M224.2 300.2h.01M235.6 297.5h.01M210.9 309.3h.01M205.3 308.2h.01M216.6 296.5h.01M235.8 302.2h.01M224.2 304.6h.01M203.5 302.0h.01M209.7 314.7h.01M208.5 295.7h.01M205.0 296.8h.01M202.7 305.8h.01M223.2 306.1h.01M207.1 305.0h.01M236.0 298.5h.01M219.9 300.4h.01M230.7 294.8h.01M214.7 309.8h.01M206.9 304.6h.01M214.4 304.4h.01M210.9 289.3h.01M210.0 296.0h.01M208.3 309.8h.01M204.8 311.9h.01M199.7 310.7h.01M215.0 300.1h.01M198.1 303.0h.01M216.4 304.3h.01M194.0 303.1h.01M225.0 296.4h.01M214.5 296.7h.01M218.5 309.7h.01M223.4 297.6h.01M220.3 304.1h.01M215.0 300.2h.01M197.8 303.9h.01M203.5 308.5h.01M219.9 296.3h.01M217.5 309.8h.01M247.6 299.6h.01M187.9 307.2h.01M209.6 308.5h.01M229.3 290.0h.01M218.8 312.3h.01M227.2 302.8h.01M213.2 303.2h.01M204.9 304.0h.01M221.6 296.5h.01M239.8 306.1h.01M221.8 308.6h.01M219.0 296.9h.01M224.8 305.3h.01M237.5 297.0h.01M231.3 302.5h.01M232.5 303.8h.01M227.3 303.1h.01M217.6 313.6h.01M228.5 299.7h.01M210.8 304.3h.01M224.4 299.6h.01M226.8 300.4h.01M232.6 296.1h.01M244.6 314.4h.01M239.4 312.9h.01M236.0 300.1h.01M234.5 321.4h.01M236.9 332.3h.01M244.0 328.1h.01M246.6 306.0h.01M249.4 322.0h.01M236.6 320.5h.01M242.7 325.2h.01M236.4 339.9h.01M238.5 313.7h.01M249.3 324.6h.01M243.6 309.9h.01M243.2 327.4h.01M218.9 320.9h.01M243.6 314.1h.01M246.3 293.4h.01M234.4 320.1h.01M246.8 333.2h.01M224.2 313.0h.01M240.1 300.1h.01M242.3 316.3h.01M235.1 335.0h.01M241.2 322.2h.01M236.1 312.5h.01M226.8 316.8h.01M234.8 295.0h.01M237.6 304.1h.01M232.7 332.4h.01M243.2 319.5h.01M230.7 304.6h.01M241.1 333.9h.01M237.0 294.9h.01M238.9 330.1h.01M233.5 301.3h.01M246.7 308.6h.01M229.8 307.1h.01M233.6 321.2h.01M235.4 304.5h.01M241.1 309.8h.01M235.8 321.3h.01M244.3 322.3h.01M236.7 310.0h.01M237.3 305.4h.01M241.4 309.1h.01M251.3 321.6h.01M250.1 329.5h.01M233.8 342.3h.01M234.5 324.3h.01M242.3 302.5h.01M251.4 321.5h.01M244.3 317.8h.01M236.2 336.5h.01M243.2 325.8h.01M241.9 323.0h.01M241.0 326.0h.01M240.5 296.5h.01M240.4 330.5h.01M233.8 314.4h.01M242.8 329.1h.01M233.1 333.2h.01M248.2 312.8h.01M240.1 320.6h.01M249.1 309.7h.01M237.7 302.9h.01M241.6 318.9h.01M236.2 315.8h.01M246.1 331.1h.01M228.8 308.6h.01M244.3 300.3h.01M241.5 332.0h.01M242.9 314.1h.01M232.5 333.0h.01M229.5 315.2h.01M230.9 312.1h.01M237.4 309.0h.01M243.2 325.7h.01M236.1 308.0h.01M234.6 305.0h.01M241.6 306.2h.01M234.9 307.5h.01M237.0 313.6h.01M241.8 321.9h.01M238.0 341.5h.01M234.3 309.3h.01M232.1 338.7h.01M230.1 319.1h.01M242.1 310.2h.01M230.2 311.6h.01M231.3 304.2h.01M240.5 322.8h.01M235.6 316.8h.01M235.0 303.4h.01M240.0 322.1h.01M240.8 330.8h.01M239.1 319.5h.01M235.0 316.6h.01M239.5 331.7h.01M240.3 284.0h.01M242.7 322.3h.01M240.3 298.1h.01M232.2 298.1h.01M236.3 295.5h.01M233.6 304.7h.01M235.0 302.4h.01M243.3 312.3h.01M233.6 304.7h.01M240.3 327.7h.01M241.4 317.8h.01M237.6 326.6h.01M239.4 306.6h.01M233.5 307.2h.01M228.1 314.8h.01M239.7 326.3h.01M239.1 330.2h.01M248.7 311.7h.01M244.3 326.0h.01M225.7 316.9h.01M245.7 317.7h.01M244.7 311.6h.01M240.1 304.6h.01M235.0 320.4h.01M244.3 311.0h.01M235.2 327.7h.01M243.3 317.6h.01M231.1 311.6h.01M240.9 291.3h.01M239.9 343.2h.01M233.1 307.7h.01M235.6 316.6h.01M237.8 300.5h.01M240.0 317.7h.01M234.7 305.1h.01M234.4 311.5h.01M240.5 307.9h.01M242.6 312.9h.01M249.0 307.5h.01M234.1 325.8h.01M234.4 301.6h.01M232.2 299.0h.01M240.6 322.3h.01M232.8 317.0h.01M242.4 316.8h.01M242.1 314.1h.01M245.6 321.2h.01M237.5 328.2h.01M236.5 326.7h.01M230.0 318.4h.01M241.9 340.3h.01M231.3 331.1h.01M240.2 309.9h.01M240.0 318.0h.01M234.1 313.9h.01M233.5 318.5h.01M240.4 318.7h.01M244.7 339.5h.01M229.6 305.2h.01M235.2 321.0h.01M235.2 316.6h.01M237.4 312.1h.01M243.2 295.9h.01M226.8 317.2h.01M233.5 313.7h.01M232.8 315.2h.01M239.7 316.4h.01M239.5 308.9h.01M232.5 316.5h.01M243.9 305.9h.01M243.5 324.9h.01M234.7 305.4h.01M238.2 312.8h.01M236.3 306.1h.01M239.2 326.7h.01M240.2 319.7h.01M236.8 309.9h.01M239.0 322.2h.01M231.9 320.8h.01M237.5 328.8h.01M234.9 290.9h.01M234.8 315.3h.01M231.6 319.5h.01M239.6 314.2h.01M229.1 315.6h.01M233.0 304.2h.01M237.7 298.9h.01M240.2 328.5h.01M243.3 321.2h.01M237.6 314.9h.01M231.2 303.3h.01M239.0 327.1h.01M230.9 311.0h.01M244.7 311.6h.01M239.9 320.5h.01M244.1 310.1h.01M233.9 322.6h.01M226.6 303.5h.01M254.3 317.2h.01M240.6 307.7h.01M237.1 292.9h.01M232.8 325.0h.01M246.9 306.1h.01M242.3 317.1h.01M238.0 314.4h.01M240.5 322.4h.01M243.8 297.2h.01M235.4 326.2h.01M238.9 289.5h.01M233.1 301.4h.01M234.6 324.1h.01M244.0 317.8h.01M238.0 308.4h.01M244.3 313.4h.01M246.6 323.2h.01M235.4 308.6h.01M241.7 334.5h.01" stroke="#000" stroke-width="0.6" stroke-linecap="square" fill="none" opacity="0.5"/>
<path d="M206.8 303.4h.01M208.8 294.0h.01M190.4 308.4h.01M199.9 322.7h.01M207.8 309.5h.01M205.4 314.4h.01M221.9 316.8h.01M202.8 320.9h.01M225.8 320.1h.01M233.0 315.1h.01M210.2 295.3h.01M197.0 298.7h.01M194.0 313.7h.01M218.0 305.6h.01M215.1 305.9h.01M231.1 321.0h.01M201.9 302.1h.01M191.8 315.7h.01M242.4 295.7h.01M217.4 307.7h.01M208.7 316.2h.01M199.5 317.6h.01M194.3 308.7h.01M216.3 316.2h.01M212.5 319.7h.01M215.6 311.2h.01M209.9 307.2h.01M227.6 306.0h.01M202.4 308.0h.01M215.9 304.0h.01M224.4 314.7h.01M195.3 304.5h.01M196.2 305.9h.01M246.0 296.3h.01M191.8 316.7h.01M215.8 310.8h.01M219.8 306.2h.01M215.1 303.9h.01M190.5 300.5h.01M192.4 317.2h.01M179.5 310.6h.01M216.0 311.5h.01M195.3 327.8h.01M218.0 317.9h.01M206.0 307.0h.01M209.9 305.4h.01M232.3 301.5h.01M197.6 309.9h.01M207.8 316.0h.01M219.3 311.4h.01M213.8 303.2h.01M238.1 312.1h.01M220.2 290.3h.01M231.5 305.0h.01M201.2 307.9h.01M202.7 312.7h.01M188.4 312.4h.01M184.7 302.1h.01M217.6 311.7h.01M211.3 307.7h.01M207.5 306.5h.01M208.5 305.1h.01M200.2 308.8h.01M232.7 314.1h.01M200.3 301.5h.01M215.0 307.1h.01M213.2 311.9h.01M203.9 304.8h.01M213.1 303.2h.01M216.7 289.7h.01M212.0 296.9h.01M212.8 289.8h.01M223.6 314.2h.01M231.5 312.1h.01M224.1 314.1h.01M215.5 307.0h.01M229.5 325.4h.01M185.7 302.0h.01M220.7 312.2h.01M212.1 323.0h.01M205.9 314.4h.01M222.4 305.8h.01M208.8 299.1h.01M202.4 302.8h.01M207.8 305.0h.01M207.0 297.1h.01M205.1 292.2h.01M221.3 314.8h.01M205.0 297.8h.01M230.1 317.4h.01M213.0 303.2h.01M242.0 301.1h.01M208.2 301.0h.01M211.9 315.6h.01M210.3 310.4h.01M208.1 308.0h.01M215.6 314.7h.01M219.7 321.0h.01M219.6 303.9h.01M216.4 320.5h.01M204.3 307.2h.01M217.0 301.9h.01M190.8 309.5h.01M225.1 317.2h.01M194.9 313.3h.01M207.4 310.8h.01M227.3 305.1h.01M185.8 303.4h.01M212.1 301.3h.01M210.5 296.9h.01M212.8 312.3h.01M195.1 301.7h.01M209.1 323.0h.01M222.0 296.9h.01M183.4 305.3h.01M219.5 293.6h.01M227.0 313.6h.01M216.9 301.9h.01M191.5 297.6h.01M217.4 301.0h.01M199.3 302.2h.01M210.3 310.9h.01M211.3 305.5h.01M191.0 309.5h.01M215.7 321.5h.01M233.2 285.7h.01M219.7 307.8h.01M197.2 318.3h.01M194.7 302.0h.01M199.4 307.4h.01M205.1 301.2h.01M227.6 299.7h.01M219.6 298.9h.01M233.3 314.2h.01M214.4 313.5h.01M211.5 310.1h.01M212.4 302.3h.01M193.8 330.8h.01M214.5 299.3h.01M205.7 296.4h.01M240.6 305.9h.01M208.1 304.2h.01M220.9 320.0h.01M217.4 324.9h.01M196.8 307.2h.01M215.0 317.9h.01M211.5 297.5h.01M189.2 304.9h.01M227.6 318.4h.01M226.6 303.6h.01M206.8 308.3h.01M210.4 308.0h.01M208.2 314.5h.01M222.8 293.4h.01M208.3 296.6h.01M200.7 319.4h.01M219.2 305.7h.01M216.8 315.8h.01M205.6 300.1h.01M231.9 304.8h.01M215.9 329.8h.01M202.3 297.9h.01M235.9 313.6h.01M177.5 306.0h.01M193.7 312.7h.01M202.9 311.8h.01M198.1 303.5h.01M214.8 318.9h.01M190.0 292.1h.01M218.3 306.0h.01M188.5 291.6h.01M197.2 308.0h.01M215.2 314.0h.01M212.4 311.9h.01M183.7 321.3h.01M202.6 313.1h.01M216.5 294.1h.01M207.6 290.2h.01M205.1 307.6h.01M207.8 322.4h.01M209.8 310.0h.01M199.8 302.6h.01M216.0 310.4h.01M199.2 306.4h.01M200.1 315.9h.01M204.2 300.7h.01M206.9 309.7h.01M206.3 303.5h.01M208.5 301.4h.01M208.6 301.3h.01M206.7 314.6h.01M216.0 309.5h.01M204.7 296.5h.01M204.1 315.1h.01M206.2 296.4h.01M193.1 299.5h.01M217.3 311.1h.01M206.1 314.5h.01M184.0 317.5h.01M192.2 322.6h.01M204.7 303.6h.01M198.2 311.6h.01M200.4 310.4h.01M215.6 297.7h.01M218.3 304.6h.01M228.5 301.1h.01M216.8 303.0h.01M221.1 316.1h.01M198.8 308.1h.01M187.1 311.8h.01M206.0 305.7h.01M219.4 296.7h.01M179.4 308.2h.01M214.7 295.9h.01M202.2 305.1h.01M208.3 316.1h.01M213.4 299.9h.01M205.6 307.6h.01M224.5 308.8h.01M206.1 305.9h.01M216.0 304.4h.01M226.3 303.5h.01M194.5 322.6h.01M208.9 294.2h.01M210.7 311.7h.01M213.7 303.5h.01M226.4 317.8h.01M220.2 306.0h.01M220.9 298.5h.01M181.0 302.2h.01M216.6 314.3h.01M208.5 299.4h.01M190.5 301.9h.01M220.5 292.9h.01M199.1 313.9h.01M223.2 309.7h.01M215.4 329.5h.01M241.3 321.7h.01M188.6 305.2h.01M216.6 314.5h.01M181.2 305.3h.01M213.1 315.6h.01M211.8 312.9h.01M196.7 303.1h.01M210.1 307.8h.01M193.8 315.0h.01M206.4 313.4h.01M214.5 307.6h.01M207.1 309.7h.01M215.3 299.4h.01M195.9 301.0h.01M221.8 300.8h.01M202.8 306.8h.01M237.5 317.6h.01M220.9 309.6h.01M231.7 305.7h.01M221.1 312.7h.01M203.5 295.1h.01M193.4 313.5h.01M206.7 318.8h.01M218.2 317.9h.01M210.6 310.1h.01M181.2 308.6h.01M189.8 309.1h.01M179.5 314.5h.01M220.7 305.2h.01M224.7 293.7h.01M219.6 309.2h.01M208.4 303.0h.01M193.7 317.8h.01M209.9 293.6h.01M195.4 306.9h.01M200.7 302.7h.01M214.6 308.2h.01M221.8 309.6h.01M188.2 291.9h.01M208.5 305.6h.01M220.2 314.4h.01M203.9 314.8h.01M217.5 304.3h.01M212.6 318.9h.01M199.2 320.9h.01M192.1 315.4h.01M213.8 303.8h.01M186.4 304.3h.01M214.7 294.6h.01M221.2 320.1h.01M216.4 305.8h.01M214.2 314.1h.01M228.7 306.2h.01M202.4 323.8h.01M206.6 319.9h.01M190.7 295.7h.01M209.1 300.0h.01M224.5 301.1h.01M204.4 318.4h.01M207.8 307.3h.01M208.1 310.9h.01M211.8 320.2h.01M223.8 317.3h.01M238.6 334.9h.01M246.7 331.1h.01M231.8 328.8h.01M243.6 339.3h.01M229.3 330.8h.01M243.9 297.0h.01M236.7 313.1h.01M235.0 316.9h.01M230.5 327.9h.01M233.5 319.6h.01M254.1 323.4h.01M229.3 304.2h.01M235.9 329.4h.01M241.1 315.1h.01M239.3 320.1h.01M239.0 339.0h.01M243.0 313.8h.01M232.7 345.7h.01M233.9 322.2h.01M247.1 321.7h.01M216.4 331.9h.01M238.2 321.5h.01M227.8 328.8h.01M238.7 316.0h.01M243.2 304.3h.01M233.3 329.7h.01M234.9 318.4h.01M251.0 322.2h.01M238.9 335.6h.01M229.4 302.8h.01M237.3 307.1h.01M243.3 330.4h.01M239.5 335.4h.01M242.0 326.2h.01M243.0 309.2h.01M233.9 314.6h.01M240.7 330.8h.01M239.7 309.3h.01M238.9 312.5h.01M240.1 309.0h.01M237.0 328.4h.01M234.4 305.7h.01M232.9 301.8h.01M248.5 330.5h.01M232.9 319.6h.01M243.9 303.0h.01M248.0 333.1h.01M243.6 330.6h.01M245.0 318.7h.01M247.4 325.5h.01M243.4 340.0h.01M231.5 318.2h.01M238.6 313.7h.01M253.2 332.0h.01M230.0 337.4h.01M233.8 310.2h.01M240.4 328.1h.01M242.4 326.5h.01M239.6 324.7h.01M228.9 314.5h.01M239.1 297.2h.01M238.6 331.8h.01M239.1 333.4h.01M237.7 329.0h.01M240.2 335.8h.01M237.2 329.5h.01M231.4 325.4h.01M242.6 315.6h.01M240.0 325.9h.01M244.3 328.0h.01M242.4 345.7h.01M229.9 333.5h.01M245.5 327.8h.01M241.0 338.0h.01M227.9 290.1h.01M249.0 303.0h.01M238.0 332.7h.01M239.7 327.5h.01M234.6 343.4h.01M251.3 340.3h.01M235.3 320.0h.01M235.9 321.6h.01M244.2 332.4h.01M241.5 326.2h.01M229.2 321.1h.01M230.8 311.9h.01M238.0 322.5h.01M244.7 334.9h.01M232.7 307.0h.01M242.9 319.3h.01M224.7 324.4h.01M231.7 332.1h.01M227.0 344.9h.01M235.1 320.0h.01M234.6 326.9h.01M238.6 308.1h.01M234.1 323.1h.01M243.6 339.4h.01M230.9 330.2h.01M247.6 330.9h.01M239.1 311.7h.01M232.7 329.7h.01M185.2 316.2h.01M233.4 311.6h.01M186.6 283.1h.01M216.3 299.3h.01M236.6 328.8h.01M208.8 267.0h.01M227.4 275.7h.01M176.8 305.2h.01M248.6 262.2h.01M241.5 278.6h.01M212.5 278.6h.01M238.5 322.3h.01M234.6 278.7h.01M198.6 259.1h.01M239.7 276.3h.01M199.8 291.4h.01M209.9 257.2h.01M194.9 316.2h.01M246.0 290.4h.01M195.2 303.1h.01M201.6 301.5h.01M252.3 315.3h.01M222.2 275.0h.01" stroke="#000" stroke-width="0.6" stroke-linecap="square" fill="none" opacity="0.3"/>
<path d="M165 346.6V252.3H256.5" fill="none" stroke="#222" stroke-width="0.9"/>
<path d="M256.5 252.3V346.6" fill="none" stroke="#c4c4c4" stroke-width="0.8"/>
<path d="M164.5 346.6H256.5" fill="none" stroke="#111" stroke-width="1"/>
<line x1="165" y1="301.6" x2="256.5" y2="301.6" stroke="#111" stroke-width="0.9"/>
<line x1="221.25" y1="252.3" x2="221.25" y2="346.6" stroke="#111" stroke-width="0.9"/>
<text x="165.0" y="356.9" class="sr" font-size="5.2" text-anchor="middle" fill="#222">10<tspan dy="-2.2" font-size="3.6">0</tspan></text>
<text x="161.8" y="348.8" class="sr" font-size="5.2" text-anchor="end" fill="#222">10<tspan dy="-2.2" font-size="3.6">0</tspan></text>
<line x1="171.9" y1="346.6" x2="171.9" y2="347.90000000000003" stroke="#000" stroke-width="0.35"/>
<line x1="163.7" y1="339.5" x2="165" y2="339.5" stroke="#000" stroke-width="0.35"/>
<line x1="175.9" y1="346.6" x2="175.9" y2="347.90000000000003" stroke="#000" stroke-width="0.35"/>
<line x1="163.7" y1="335.4" x2="165" y2="335.4" stroke="#000" stroke-width="0.35"/>
<line x1="178.8" y1="346.6" x2="178.8" y2="347.90000000000003" stroke="#000" stroke-width="0.35"/>
<line x1="163.7" y1="332.4" x2="165" y2="332.4" stroke="#000" stroke-width="0.35"/>
<line x1="181.0" y1="346.6" x2="181.0" y2="347.90000000000003" stroke="#000" stroke-width="0.35"/>
<line x1="163.7" y1="330.1" x2="165" y2="330.1" stroke="#000" stroke-width="0.35"/>
<line x1="182.8" y1="346.6" x2="182.8" y2="347.90000000000003" stroke="#000" stroke-width="0.35"/>
<line x1="163.7" y1="328.3" x2="165" y2="328.3" stroke="#000" stroke-width="0.35"/>
<line x1="184.3" y1="346.6" x2="184.3" y2="347.90000000000003" stroke="#000" stroke-width="0.35"/>
<line x1="163.7" y1="326.7" x2="165" y2="326.7" stroke="#000" stroke-width="0.35"/>
<line x1="185.7" y1="346.6" x2="185.7" y2="347.90000000000003" stroke="#000" stroke-width="0.35"/>
<line x1="163.7" y1="325.3" x2="165" y2="325.3" stroke="#000" stroke-width="0.35"/>
<line x1="186.8" y1="346.6" x2="186.8" y2="347.90000000000003" stroke="#000" stroke-width="0.35"/>
<line x1="163.7" y1="324.1" x2="165" y2="324.1" stroke="#000" stroke-width="0.35"/>
<line x1="165.0" y1="346.6" x2="165.0" y2="348.90000000000003" stroke="#000" stroke-width="0.6"/>
<line x1="162.7" y1="346.6" x2="165" y2="346.6" stroke="#000" stroke-width="0.6"/>
<text x="187.9" y="356.9" class="sr" font-size="5.2" text-anchor="middle" fill="#222">10<tspan dy="-2.2" font-size="3.6">1</tspan></text>
<text x="161.8" y="325.2" class="sr" font-size="5.2" text-anchor="end" fill="#222">10<tspan dy="-2.2" font-size="3.6">1</tspan></text>
<line x1="194.8" y1="346.6" x2="194.8" y2="347.90000000000003" stroke="#000" stroke-width="0.35"/>
<line x1="163.7" y1="315.9" x2="165" y2="315.9" stroke="#000" stroke-width="0.35"/>
<line x1="198.8" y1="346.6" x2="198.8" y2="347.90000000000003" stroke="#000" stroke-width="0.35"/>
<line x1="163.7" y1="311.8" x2="165" y2="311.8" stroke="#000" stroke-width="0.35"/>
<line x1="201.6" y1="346.6" x2="201.6" y2="347.90000000000003" stroke="#000" stroke-width="0.35"/>
<line x1="163.7" y1="308.8" x2="165" y2="308.8" stroke="#000" stroke-width="0.35"/>
<line x1="203.9" y1="346.6" x2="203.9" y2="347.90000000000003" stroke="#000" stroke-width="0.35"/>
<line x1="163.7" y1="306.5" x2="165" y2="306.5" stroke="#000" stroke-width="0.35"/>
<line x1="205.7" y1="346.6" x2="205.7" y2="347.90000000000003" stroke="#000" stroke-width="0.35"/>
<line x1="163.7" y1="304.7" x2="165" y2="304.7" stroke="#000" stroke-width="0.35"/>
<line x1="207.2" y1="346.6" x2="207.2" y2="347.90000000000003" stroke="#000" stroke-width="0.35"/>
<line x1="163.7" y1="303.1" x2="165" y2="303.1" stroke="#000" stroke-width="0.35"/>
<line x1="208.5" y1="346.6" x2="208.5" y2="347.90000000000003" stroke="#000" stroke-width="0.35"/>
<line x1="163.7" y1="301.7" x2="165" y2="301.7" stroke="#000" stroke-width="0.35"/>
<line x1="209.7" y1="346.6" x2="209.7" y2="347.90000000000003" stroke="#000" stroke-width="0.35"/>
<line x1="163.7" y1="300.5" x2="165" y2="300.5" stroke="#000" stroke-width="0.35"/>
<line x1="187.9" y1="346.6" x2="187.9" y2="348.90000000000003" stroke="#000" stroke-width="0.6"/>
<line x1="162.7" y1="323.0" x2="165" y2="323.0" stroke="#000" stroke-width="0.6"/>
<text x="210.8" y="356.9" class="sr" font-size="5.2" text-anchor="middle" fill="#222">10<tspan dy="-2.2" font-size="3.6">2</tspan></text>
<text x="161.8" y="301.7" class="sr" font-size="5.2" text-anchor="end" fill="#222">10<tspan dy="-2.2" font-size="3.6">2</tspan></text>
<line x1="217.6" y1="346.6" x2="217.6" y2="347.90000000000003" stroke="#000" stroke-width="0.35"/>
<line x1="163.7" y1="292.4" x2="165" y2="292.4" stroke="#000" stroke-width="0.35"/>
<line x1="221.7" y1="346.6" x2="221.7" y2="347.90000000000003" stroke="#000" stroke-width="0.35"/>
<line x1="163.7" y1="288.2" x2="165" y2="288.2" stroke="#000" stroke-width="0.35"/>
<line x1="224.5" y1="346.6" x2="224.5" y2="347.90000000000003" stroke="#000" stroke-width="0.35"/>
<line x1="163.7" y1="285.3" x2="165" y2="285.3" stroke="#000" stroke-width="0.35"/>
<line x1="226.7" y1="346.6" x2="226.7" y2="347.90000000000003" stroke="#000" stroke-width="0.35"/>
<line x1="163.7" y1="283.0" x2="165" y2="283.0" stroke="#000" stroke-width="0.35"/>
<line x1="228.6" y1="346.6" x2="228.6" y2="347.90000000000003" stroke="#000" stroke-width="0.35"/>
<line x1="163.7" y1="281.1" x2="165" y2="281.1" stroke="#000" stroke-width="0.35"/>
<line x1="230.1" y1="346.6" x2="230.1" y2="347.90000000000003" stroke="#000" stroke-width="0.35"/>
<line x1="163.7" y1="279.5" x2="165" y2="279.5" stroke="#000" stroke-width="0.35"/>
<line x1="231.4" y1="346.6" x2="231.4" y2="347.90000000000003" stroke="#000" stroke-width="0.35"/>
<line x1="163.7" y1="278.2" x2="165" y2="278.2" stroke="#000" stroke-width="0.35"/>
<line x1="232.6" y1="346.6" x2="232.6" y2="347.90000000000003" stroke="#000" stroke-width="0.35"/>
<line x1="163.7" y1="277.0" x2="165" y2="277.0" stroke="#000" stroke-width="0.35"/>
<line x1="210.8" y1="346.6" x2="210.8" y2="348.90000000000003" stroke="#000" stroke-width="0.6"/>
<line x1="162.7" y1="299.5" x2="165" y2="299.5" stroke="#000" stroke-width="0.6"/>
<text x="233.6" y="356.9" class="sr" font-size="5.2" text-anchor="middle" fill="#222">10<tspan dy="-2.2" font-size="3.6">3</tspan></text>
<text x="161.8" y="278.1" class="sr" font-size="5.2" text-anchor="end" fill="#222">10<tspan dy="-2.2" font-size="3.6">3</tspan></text>
<line x1="240.5" y1="346.6" x2="240.5" y2="347.90000000000003" stroke="#000" stroke-width="0.35"/>
<line x1="163.7" y1="268.8" x2="165" y2="268.8" stroke="#000" stroke-width="0.35"/>
<line x1="244.5" y1="346.6" x2="244.5" y2="347.90000000000003" stroke="#000" stroke-width="0.35"/>
<line x1="163.7" y1="264.6" x2="165" y2="264.6" stroke="#000" stroke-width="0.35"/>
<line x1="247.4" y1="346.6" x2="247.4" y2="347.90000000000003" stroke="#000" stroke-width="0.35"/>
<line x1="163.7" y1="261.7" x2="165" y2="261.7" stroke="#000" stroke-width="0.35"/>
<line x1="249.6" y1="346.6" x2="249.6" y2="347.90000000000003" stroke="#000" stroke-width="0.35"/>
<line x1="163.7" y1="259.4" x2="165" y2="259.4" stroke="#000" stroke-width="0.35"/>
<line x1="251.4" y1="346.6" x2="251.4" y2="347.90000000000003" stroke="#000" stroke-width="0.35"/>
<line x1="163.7" y1="257.5" x2="165" y2="257.5" stroke="#000" stroke-width="0.35"/>
<line x1="253.0" y1="346.6" x2="253.0" y2="347.90000000000003" stroke="#000" stroke-width="0.35"/>
<line x1="163.7" y1="256.0" x2="165" y2="256.0" stroke="#000" stroke-width="0.35"/>
<line x1="254.3" y1="346.6" x2="254.3" y2="347.90000000000003" stroke="#000" stroke-width="0.35"/>
<line x1="163.7" y1="254.6" x2="165" y2="254.6" stroke="#000" stroke-width="0.35"/>
<line x1="255.5" y1="346.6" x2="255.5" y2="347.90000000000003" stroke="#000" stroke-width="0.35"/>
<line x1="163.7" y1="253.4" x2="165" y2="253.4" stroke="#000" stroke-width="0.35"/>
<line x1="233.6" y1="346.6" x2="233.6" y2="348.90000000000003" stroke="#000" stroke-width="0.6"/>
<line x1="162.7" y1="275.9" x2="165" y2="275.9" stroke="#000" stroke-width="0.6"/>
<text x="256.5" y="356.9" class="sr" font-size="5.2" text-anchor="middle" fill="#222">10<tspan dy="-2.2" font-size="3.6">4</tspan></text>
<text x="161.8" y="254.5" class="sr" font-size="5.2" text-anchor="end" fill="#222">10<tspan dy="-2.2" font-size="3.6">4</tspan></text>
<line x1="256.5" y1="346.6" x2="256.5" y2="348.90000000000003" stroke="#000" stroke-width="0.6"/>
<line x1="162.7" y1="252.3" x2="165" y2="252.3" stroke="#000" stroke-width="0.6"/>
<text x="165.5" y="264.2" class="sr" font-size="10" text-anchor="start">4.38</text>
<text x="258.1" y="264.2" class="sr" font-size="10" text-anchor="end">58.8</text>
<text x="168" y="347.3" class="sr" font-size="10" text-anchor="start">11.9</text>
<text x="257.55" y="347.3" class="sr" font-size="10" text-anchor="end">24.9</text>
<text x="31.2" y="348.3" class="sr" font-size="9.7" text-anchor="start" transform="rotate(-90 31.2 348.3)">Annexin V</text>
<line x1="37" y1="354.5" x2="37" y2="332" stroke="#000" stroke-width="1.2"/>
<path d="M37 326 L40.3 333.5 L33.7 333.5 Z" fill="#000"/>
<line x1="48.5" y1="368" x2="88" y2="368" stroke="#000" stroke-width="1.3"/>
<path d="M94.6 368 L87 364.6 L87 371.4 Z" fill="#000"/>
<text x="51.2" y="381" class="sr" font-size="9.4" text-anchor="start">7AAD</text>
</g>
<g id="panelD">
<line x1="340.0" y1="236.9" x2="340.0" y2="354.8" stroke="#000" stroke-width="2.2"/>
<line x1="338.9" y1="353.7" x2="502.7" y2="353.7" stroke="#000" stroke-width="2.2"/>
<line x1="335.8" y1="353.70" x2="340.0" y2="353.70" stroke="#000" stroke-width="1.9"/>
<text x="335.6" y="356.9" class="tb" font-size="9.2" text-anchor="end">0</text>
<line x1="335.8" y1="330.54" x2="340.0" y2="330.54" stroke="#000" stroke-width="1.9"/>
<text x="335.6" y="333.74" class="tb" font-size="9.2" text-anchor="end">20</text>
<line x1="335.8" y1="307.38" x2="340.0" y2="307.38" stroke="#000" stroke-width="1.9"/>
<text x="335.6" y="310.58" class="tb" font-size="9.2" text-anchor="end">40</text>
<line x1="335.8" y1="284.22" x2="340.0" y2="284.22" stroke="#000" stroke-width="1.9"/>
<text x="335.6" y="287.42" class="tb" font-size="9.2" text-anchor="end">60</text>
<line x1="335.8" y1="261.06" x2="340.0" y2="261.06" stroke="#000" stroke-width="1.9"/>
<text x="335.6" y="264.26" class="tb" font-size="9.2" text-anchor="end">80</text>
<line x1="335.8" y1="237.90" x2="340.0" y2="237.90" stroke="#000" stroke-width="1.9"/>
<text x="335.6" y="241.1" class="tb" font-size="9.2" text-anchor="end">100</text>
<text x="314.9" y="297" class="sb" font-size="8.9" text-anchor="middle" transform="rotate(-90 314.9 297)" textLength="92" lengthAdjust="spacingAndGlyphs">% Annexin V positive</text>
<rect x="345.15" y="334.01" width="23.1" height="19.69" fill="#000"/>
<line x1="356.7" y1="331.2" x2="356.7" y2="334.01" stroke="#000" stroke-width="1.6"/>
<line x1="351.0" y1="331.2" x2="362.4" y2="331.2" stroke="#000" stroke-width="1.6"/>
<line x1="356.9" y1="353.7" x2="356.9" y2="358.7" stroke="#000" stroke-width="1.7"/>
<text x="359.7" y="367.8" class="tb" font-size="9.2" text-anchor="end" transform="rotate(-43.5 359.7 367.8)">Untransduced</text>
<rect x="377.50" y="318.61" width="23.1" height="35.09" fill="#000"/>
<line x1="389.05" y1="315.7" x2="389.05" y2="318.61" stroke="#000" stroke-width="1.6"/>
<line x1="383.35" y1="315.7" x2="394.75" y2="315.7" stroke="#000" stroke-width="1.6"/>
<line x1="389.25" y1="353.7" x2="389.25" y2="358.7" stroke="#000" stroke-width="1.7"/>
<text x="392.05" y="367.8" class="tb" font-size="9.2" text-anchor="end" transform="rotate(-43.5 392.05 367.8)">GFP ctrl neg</text>
<rect x="409.85" y="319.54" width="23.1" height="34.16" fill="#000"/>
<line x1="421.4" y1="316.7" x2="421.4" y2="319.54" stroke="#000" stroke-width="1.6"/>
<line x1="415.7" y1="316.7" x2="427.09999999999997" y2="316.7" stroke="#000" stroke-width="1.6"/>
<line x1="421.59999999999997" y1="353.7" x2="421.59999999999997" y2="358.7" stroke="#000" stroke-width="1.7"/>
<text x="424.4" y="367.8" class="tb" font-size="9.2" text-anchor="end" transform="rotate(-43.5 424.4 367.8)">GFP ctrl pos</text>
<rect x="442.25" y="323.01" width="23.1" height="30.69" fill="#000"/>
<line x1="453.8" y1="320.2" x2="453.8" y2="323.01" stroke="#000" stroke-width="1.6"/>
<line x1="448.1" y1="320.2" x2="459.5" y2="320.2" stroke="#000" stroke-width="1.6"/>
<line x1="454.0" y1="353.7" x2="454.0" y2="358.7" stroke="#000" stroke-width="1.7"/>
<text x="456.8" y="367.8" class="tb" font-size="9.2" text-anchor="end" transform="rotate(-43.5 456.8 367.8)">MINOR GFP- neg</text>
<rect x="474.60" y="270.56" width="23.1" height="83.14" fill="#000"/>
<line x1="486.15" y1="259.1" x2="486.15" y2="270.56" stroke="#000" stroke-width="1.6"/>
<line x1="480.45" y1="259.1" x2="491.84999999999997" y2="259.1" stroke="#000" stroke-width="1.6"/>
<line x1="486.34999999999997" y1="353.7" x2="486.34999999999997" y2="358.7" stroke="#000" stroke-width="1.7"/>
<text x="489.15" y="367.8" class="tb" font-size="9.2" text-anchor="end" transform="rotate(-43.5 489.15 367.8)">MINOR GFP-pos</text>
<text x="485.5" y="259.2" class="tb" font-size="16" text-anchor="middle">*</text>
</g>
</svg></body></html>
